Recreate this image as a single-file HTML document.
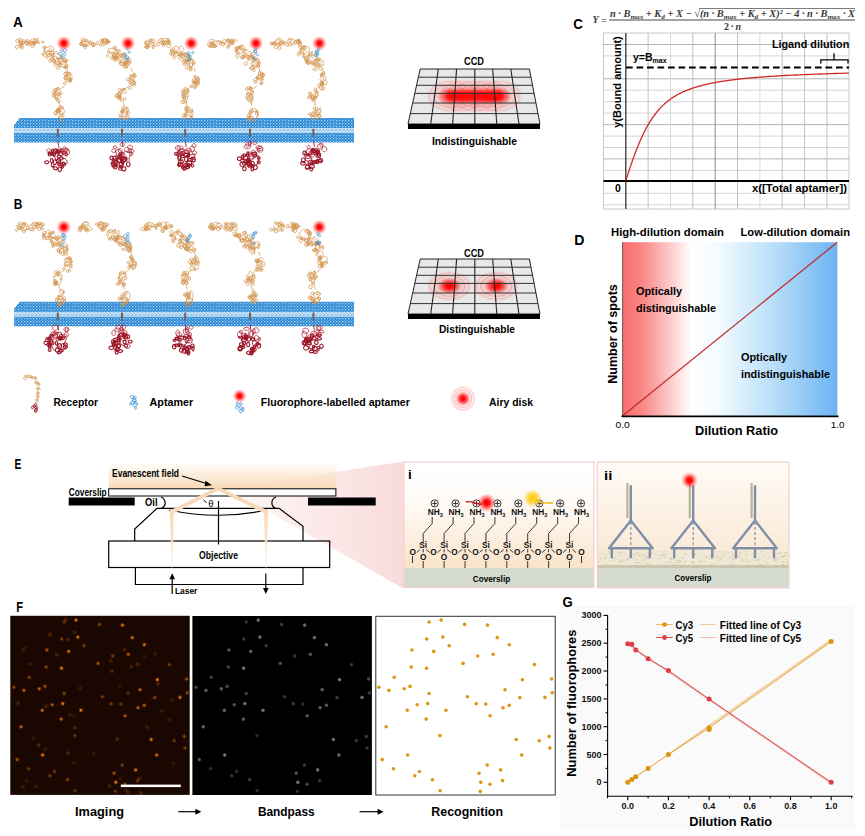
<!DOCTYPE html><html><head><meta charset="utf-8"><style>
html,body{margin:0;padding:0;background:#fff;}
svg{display:block;font-family:"Liberation Sans",sans-serif;}
</style></head><body>
<svg width="865" height="836" viewBox="0 0 865 836">
<defs>
<filter id="blur1" x="-50%" y="-50%" width="200%" height="200%"><feGaussianBlur stdDeviation="1.8"/></filter>
<radialGradient id="rdot"><stop offset="0" stop-color="#ff0000"/><stop offset="0.3" stop-color="#ff0000" stop-opacity="0.95"/><stop offset="0.6" stop-color="#ff3030" stop-opacity="0.55"/><stop offset="1" stop-color="#ff6060" stop-opacity="0"/></radialGradient>
<radialGradient id="ydot"><stop offset="0" stop-color="#ffc800"/><stop offset="0.5" stop-color="#ffd030" stop-opacity="0.9"/><stop offset="1" stop-color="#ffe080" stop-opacity="0"/></radialGradient>
<radialGradient id="ospot"><stop offset="0" stop-color="#ffa010"/><stop offset="0.35" stop-color="#f08808" stop-opacity="0.95"/><stop offset="0.7" stop-color="#a04000" stop-opacity="0.5"/><stop offset="1" stop-color="#601800" stop-opacity="0"/></radialGradient>
<radialGradient id="gspot"><stop offset="0" stop-color="#b0b0b0"/><stop offset="0.6" stop-color="#808080" stop-opacity="0.8"/><stop offset="1" stop-color="#404040" stop-opacity="0"/></radialGradient>
<radialGradient id="airy" cx="0.5" cy="0.5" r="0.5">
 <stop offset="0" stop-color="#ff0000"/><stop offset="0.15" stop-color="#ff0000" stop-opacity="0.95"/><stop offset="0.35" stop-color="#ff2020" stop-opacity="0.65"/>
 <stop offset="0.5" stop-color="#ff5050" stop-opacity="0.3"/><stop offset="0.58" stop-color="#ff8080" stop-opacity="0.15"/>
 <stop offset="0.66" stop-color="#ff5a5a" stop-opacity="0.45"/><stop offset="0.75" stop-color="#ffa0a0" stop-opacity="0.12"/>
 <stop offset="0.85" stop-color="#ff7070" stop-opacity="0.35"/><stop offset="1" stop-color="#ffb0b0" stop-opacity="0"/>
</radialGradient>
<pattern id="memb" width="3" height="3" patternUnits="userSpaceOnUse">
 <rect width="3" height="3" fill="#1c7fd0"/><circle cx="0.75" cy="0.75" r="0.75" fill="#d0e8fa"/><circle cx="2.25" cy="2.25" r="0.75" fill="#7ab8ea"/>
</pattern>
<pattern id="mband" width="4" height="5" patternUnits="userSpaceOnUse">
 <rect width="4" height="5" fill="#9ccbec"/><ellipse cx="2" cy="2.5" rx="1.5" ry="1.6" fill="none" stroke="#e8f3fb" stroke-width="0.8"/>
</pattern>
<linearGradient id="dgrad" x1="0" x2="1" y1="0" y2="0">
 <stop offset="0" stop-color="#f96b6b"/><stop offset="0.1" stop-color="#fa8a8a"/><stop offset="0.32" stop-color="#ffffff"/>
 <stop offset="0.45" stop-color="#f2fbff"/><stop offset="0.7" stop-color="#b9dff9"/><stop offset="1" stop-color="#6cb3f3"/>
</linearGradient>
<linearGradient id="evan" x1="0" x2="0" y1="0" y2="1">
 <stop offset="0" stop-color="#fdf2e4" stop-opacity="0.15"/><stop offset="0.4" stop-color="#fbe8d0" stop-opacity="0.65"/><stop offset="1" stop-color="#f8dab6"/>
</linearGradient>
<linearGradient id="pgrad2" x1="0" x2="0" y1="0" y2="1"><stop offset="0" stop-color="#fffcf8"/><stop offset="0.4" stop-color="#fcf1e4"/><stop offset="1" stop-color="#f9e4cc"/></linearGradient>
<linearGradient id="pgrad" x1="0" x2="0" y1="0" y2="1">
 <stop offset="0" stop-color="#ffffff"/><stop offset="0.3" stop-color="#fefbf8"/><stop offset="0.6" stop-color="#fcefe0"/><stop offset="1" stop-color="#f8dcbc"/>
</linearGradient>
<linearGradient id="wedge" x1="0" x2="1" y1="0" y2="0">
 <stop offset="0" stop-color="#fbe4e4" stop-opacity="0.3"/><stop offset="0.6" stop-color="#fadfdf" stop-opacity="0.75"/><stop offset="1" stop-color="#f8d6d6" stop-opacity="0.9"/>
</linearGradient>
</defs>
<rect width="865" height="836" fill="#fff"/>

<path d="M19.7 118.0 L354 118.0 L354 142.5 L14 142.5 L14 125.0 Z" fill="url(#memb)"/>
<rect x="14" y="128.0" width="340" height="5" fill="url(#mband)"/>
<path d="M22.1 46.0 a1.3 1.6 0 1 0 0.1 0 M20.9 41.7 a0.9 1.8 0 1 0 0.1 0 M20.8 44.8 a2.0 1.4 0 1 0 0.1 0 M23.8 39.7 a1.6 1.1 0 1 0 0.1 0 M17.3 39.2 a1.5 1.7 0 1 0 0.1 0 M20.5 41.5 a1.7 1.6 0 1 0 0.1 0 M20.8 43.3 a1.9 1.4 0 1 0 0.1 0 M20.1 38.2 a1.7 1.9 0 1 0 0.1 0 M16.8 45.2 a1.4 1.9 0 1 0 0.1 0 M23.5 41.5 a1.0 1.1 0 1 0 0.1 0 " fill="none" stroke="#d2914a" stroke-width="0.75"/><path d="M25.1 41.8 C25.4 41.7 26.7 41.3 27.3 41.6 C27.8 41.8 28.5 42.7 28.6 43.3 C28.8 43.9 28.4 45.2 28.0 45.4 C27.5 45.6 26.4 45.0 25.9 44.5 C25.5 44.0 25.4 43.1 25.4 42.4 C25.3 41.7 25.3 40.7 25.7 40.2 C26.0 39.7 27.5 39.0 27.6 39.2 C27.7 39.3 26.9 40.5 26.3 41.0 C25.8 41.5 24.9 41.6 24.5 42.2 C24.1 42.7 24.4 43.8 24.0 44.3 C23.6 44.8 22.7 45.4 22.1 45.4 C21.4 45.4 20.5 44.9 20.1 44.4 C19.7 43.8 19.8 42.9 19.7 42.2 C19.6 41.5 19.3 40.4 19.6 40.0 C20.0 39.6 21.2 39.7 21.8 40.0 C22.5 40.2 23.0 40.9 23.5 41.4 C24.0 41.9 24.4 42.6 24.9 43.1 C25.5 43.5 26.3 44.0 27.0 43.9 C27.6 43.8 28.7 42.6 28.8 42.7 C28.9 42.8 28.2 44.2 27.7 44.6 C27.2 45.0 25.9 45.1 25.6 45.1" fill="none" stroke="#d3944f" stroke-width="0.7"/><path d="M33.6 42.3 a1.2 1.7 0 1 0 0.1 0 M37.5 40.9 a1.6 0.9 0 1 0 0.1 0 M34.9 39.4 a1.9 2.0 0 1 0 0.1 0 M27.6 41.4 a1.2 1.0 0 1 0 0.1 0 M35.4 41.1 a1.1 1.3 0 1 0 0.1 0 M34.1 40.6 a0.9 1.9 0 1 0 0.1 0 M32.5 44.8 a1.9 1.3 0 1 0 0.1 0 M29.9 42.2 a1.6 1.6 0 1 0 0.1 0 M29.3 40.4 a1.9 1.5 0 1 0 0.1 0 M29.7 42.8 a1.2 1.2 0 1 0 0.1 0 M42.7 41.1 a1.5 0.9 0 1 0 0.1 0 " fill="none" stroke="#d2914a" stroke-width="0.75"/><path d="M35.7 42.3 C35.7 42.6 35.8 44.2 35.4 44.4 C35.0 44.7 33.9 44.1 33.3 43.6 C32.8 43.2 32.5 42.4 32.0 41.9 C31.6 41.3 30.5 40.7 30.6 40.2 C30.7 39.7 31.7 39.2 32.4 38.9 C33.0 38.6 33.8 38.5 34.5 38.5 C35.2 38.6 36.0 39.4 36.6 39.2 C37.2 39.1 38.1 37.7 38.3 37.8 C38.5 37.9 37.8 39.3 37.9 40.0 C37.9 40.7 38.3 41.4 38.6 42.0 C38.9 42.7 39.7 43.9 39.6 44.0 C39.4 44.1 38.5 43.0 37.8 42.7 C37.2 42.3 36.4 42.2 35.7 42.1 C35.0 42.0 34.2 42.2 33.5 42.2 C32.8 42.1 32.1 41.8 31.4 41.8 C30.6 41.8 29.4 42.6 29.2 42.4 C29.0 42.1 29.8 40.5 30.3 40.4 C30.7 40.3 31.3 41.5 31.9 41.9 C32.6 42.2 33.3 42.5 34.0 42.5 C34.7 42.5 35.4 41.8 36.1 41.8 C36.8 41.8 37.9 42.5 38.2 42.6" fill="none" stroke="#d3944f" stroke-width="0.7"/><path d="M48.6 53.4 a1.4 1.7 0 1 0 0.1 0 M51.7 52.8 a1.3 1.8 0 1 0 0.1 0 M42.7 52.9 a1.1 1.3 0 1 0 0.1 0 M44.5 46.2 a1.4 1.1 0 1 0 0.1 0 M52.4 53.8 a1.1 1.8 0 1 0 0.1 0 M50.2 48.6 a1.2 1.8 0 1 0 0.1 0 M44.6 46.6 a1.3 1.0 0 1 0 0.1 0 M47.0 56.0 a1.2 1.3 0 1 0 0.1 0 M44.5 52.7 a1.4 1.9 0 1 0 0.1 0 M48.1 51.1 a1.9 1.9 0 1 0 0.1 0 " fill="none" stroke="#d2914a" stroke-width="0.75"/><path d="M51.9 50.3 C52.2 50.6 53.3 51.2 53.5 51.8 C53.8 52.4 53.6 53.5 53.3 54.0 C52.9 54.5 51.9 54.8 51.2 54.9 C50.5 54.9 49.8 54.5 49.2 54.1 C48.5 53.8 48.0 53.2 47.5 52.7 C46.9 52.3 46.5 51.6 45.8 51.3 C45.2 50.9 43.9 51.1 43.7 50.7 C43.5 50.3 44.3 49.3 44.7 48.7 C45.0 48.1 45.4 47.1 46.0 46.9 C46.5 46.7 47.4 47.7 48.1 47.6 C48.7 47.5 49.1 46.4 49.8 46.2 C50.4 46.0 51.3 46.4 51.9 46.6 C52.6 46.9 53.4 47.3 53.7 47.9 C54.0 48.5 54.0 49.5 53.7 50.1 C53.5 50.7 52.7 51.4 52.1 51.6 C51.4 51.7 50.6 51.4 49.9 51.2 C49.2 51.0 48.4 50.3 47.8 50.5 C47.2 50.6 46.8 51.6 46.2 51.9 C45.6 52.3 44.3 52.7 44.0 52.4 C43.8 52.1 44.4 51.0 44.6 50.3 C44.8 49.6 45.2 48.5 45.3 48.2" fill="none" stroke="#d3944f" stroke-width="0.7"/><path d="M50.2 59.8 a1.6 1.3 0 1 0 0.1 0 M55.3 62.4 a1.4 1.8 0 1 0 0.1 0 M53.7 58.9 a1.5 1.8 0 1 0 0.1 0 M57.4 61.5 a1.9 1.8 0 1 0 0.1 0 M55.4 56.3 a1.6 1.8 0 1 0 0.1 0 M58.6 57.8 a1.2 1.5 0 1 0 0.1 0 M51.4 58.7 a1.8 0.9 0 1 0 0.1 0 M57.8 57.5 a1.0 1.0 0 1 0 0.1 0 M61.3 55.9 a1.0 1.5 0 1 0 0.1 0 M54.2 59.9 a1.3 1.6 0 1 0 0.1 0 " fill="none" stroke="#d2914a" stroke-width="0.75"/><path d="M54.7 56.3 C54.3 56.4 53.3 56.8 52.7 57.2 C52.1 57.7 51.5 58.9 51.2 58.8 C50.9 58.7 50.7 57.3 50.9 56.7 C51.0 56.0 51.5 55.3 52.0 54.8 C52.6 54.3 53.3 54.1 54.0 53.9 C54.7 53.7 55.5 53.4 56.2 53.4 C56.9 53.5 57.5 54.1 58.2 54.3 C58.9 54.5 59.8 54.3 60.4 54.7 C61.0 55.0 61.9 55.7 61.9 56.3 C61.9 56.8 60.7 57.2 60.2 57.7 C59.8 58.3 59.4 59.0 59.1 59.6 C58.7 60.2 58.4 60.9 57.9 61.4 C57.4 61.9 56.6 62.7 56.0 62.6 C55.5 62.5 55.1 61.5 54.6 61.0 C54.1 60.4 53.2 60.1 53.0 59.4 C52.8 58.8 53.0 57.9 53.2 57.2 C53.4 56.6 54.2 56.0 54.2 55.3 C54.2 54.7 53.2 53.9 53.3 53.3 C53.3 52.7 54.1 52.0 54.7 51.7 C55.3 51.4 56.3 51.3 56.9 51.6 C57.5 51.9 58.0 53.1 58.2 53.4" fill="none" stroke="#d3944f" stroke-width="0.7"/><path d="M57.9 66.8 a1.8 1.2 0 1 0 0.1 0 M59.6 63.3 a1.8 1.6 0 1 0 0.1 0 M65.4 59.3 a1.6 1.7 0 1 0 0.1 0 M60.1 62.0 a1.5 0.9 0 1 0 0.1 0 M65.4 66.9 a0.9 1.0 0 1 0 0.1 0 M66.4 66.1 a1.1 0.9 0 1 0 0.1 0 M62.5 61.0 a1.8 1.6 0 1 0 0.1 0 M64.5 57.8 a1.5 1.8 0 1 0 0.1 0 M66.5 64.0 a1.5 1.7 0 1 0 0.1 0 M65.1 66.0 a1.9 1.0 0 1 0 0.1 0 " fill="none" stroke="#d2914a" stroke-width="0.75"/><path d="M62.0 64.6 C61.7 64.7 60.3 65.4 59.9 65.1 C59.5 64.9 59.6 63.7 59.6 63.0 C59.6 62.2 59.5 61.4 59.8 60.8 C60.1 60.1 60.8 59.7 61.2 59.0 C61.5 58.4 61.8 57.0 62.1 57.0 C62.4 57.0 62.7 58.4 63.0 59.0 C63.4 59.6 63.8 60.5 64.4 60.8 C64.9 61.1 66.3 60.5 66.6 60.8 C66.8 61.2 66.0 62.2 65.9 62.9 C65.7 63.6 65.9 64.4 65.6 65.1 C65.3 65.7 64.8 66.5 64.2 66.8 C63.6 67.1 62.7 67.1 62.0 66.9 C61.3 66.8 60.7 66.3 60.1 65.9 C59.6 65.4 58.7 64.7 58.7 64.1 C58.7 63.6 59.6 63.0 60.2 62.5 C60.8 62.1 61.5 61.5 62.1 61.4 C62.8 61.4 63.5 62.2 64.2 62.2 C64.9 62.2 65.8 61.8 66.2 61.3 C66.6 60.8 66.5 59.2 66.8 59.2 C67.1 59.2 68.0 60.6 67.9 61.1 C67.7 61.7 66.4 62.3 66.2 62.5" fill="none" stroke="#d3944f" stroke-width="0.7"/><path d="M66.7 75.4 a1.2 1.1 0 1 0 0.1 0 M65.0 76.5 a1.2 1.7 0 1 0 0.1 0 M69.0 77.5 a1.7 1.4 0 1 0 0.1 0 M69.2 73.9 a1.2 1.1 0 1 0 0.1 0 M70.1 79.6 a1.3 1.1 0 1 0 0.1 0 M64.9 82.3 a1.8 1.1 0 1 0 0.1 0 M69.9 78.5 a1.6 1.4 0 1 0 0.1 0 M68.9 72.5 a1.5 1.4 0 1 0 0.1 0 M66.2 71.5 a1.3 1.7 0 1 0 0.1 0 M70.1 77.4 a1.2 1.2 0 1 0 0.1 0 M65.6 72.4 a2.0 1.8 0 1 0 0.1 0 " fill="none" stroke="#d2914a" stroke-width="0.75"/><path d="M69.8 80.4 C70.1 80.5 71.9 80.9 71.9 81.1 C71.9 81.3 70.3 81.6 69.7 81.4 C69.1 81.3 68.7 80.3 68.0 80.0 C67.4 79.7 66.4 80.0 65.9 79.6 C65.3 79.2 64.7 78.4 64.7 77.8 C64.6 77.1 65.0 76.3 65.4 75.7 C65.8 75.1 66.7 74.8 67.0 74.2 C67.2 73.6 66.5 72.2 66.8 72.0 C67.1 71.8 68.1 72.7 68.9 72.8 C69.6 73.0 70.8 72.6 71.0 73.0 C71.3 73.3 70.3 74.5 70.5 75.1 C70.7 75.7 71.9 75.9 72.2 76.6 C72.4 77.2 72.0 78.0 71.9 78.7 C71.8 79.5 72.0 80.3 71.7 80.9 C71.3 81.5 70.5 82.1 69.9 82.2 C69.2 82.3 68.5 81.6 67.8 81.4 C67.1 81.2 66.1 81.5 65.6 81.1 C65.2 80.7 64.8 79.6 65.0 79.0 C65.1 78.4 66.3 78.0 66.5 77.4 C66.7 76.8 66.0 75.8 66.3 75.2 C66.5 74.6 67.5 73.9 67.8 73.6" fill="none" stroke="#d3944f" stroke-width="0.7"/><path d="M57.7 92.7 a1.9 1.3 0 1 0 0.1 0 M57.7 87.4 a1.2 1.6 0 1 0 0.1 0 M54.6 88.3 a1.2 1.7 0 1 0 0.1 0 M60.8 92.5 a1.5 1.0 0 1 0 0.1 0 M53.6 94.2 a1.7 1.6 0 1 0 0.1 0 M54.7 92.7 a1.6 1.6 0 1 0 0.1 0 M58.7 100.6 a1.6 1.0 0 1 0 0.1 0 M58.7 92.8 a1.3 1.7 0 1 0 0.1 0 M53.6 90.7 a1.6 1.4 0 1 0 0.1 0 M56.5 97.1 a1.0 1.7 0 1 0 0.1 0 M56.7 88.3 a1.7 1.3 0 1 0 0.1 0 " fill="none" stroke="#d2914a" stroke-width="0.75"/><path d="M58.6 96.2 C58.4 96.5 57.4 97.3 57.3 98.0 C57.2 98.6 58.1 100.0 58.0 100.0 C57.9 100.1 57.2 98.8 56.7 98.3 C56.2 97.8 55.2 97.6 54.9 97.1 C54.5 96.5 54.8 95.6 54.8 94.9 C54.8 94.1 54.6 93.3 54.9 92.7 C55.1 92.0 55.8 91.6 56.2 90.9 C56.5 90.3 56.4 89.3 56.9 88.8 C57.3 88.3 58.2 87.7 58.8 87.8 C59.4 87.9 60.1 88.8 60.3 89.4 C60.5 90.0 60.3 90.9 60.1 91.6 C59.9 92.3 59.1 92.8 58.9 93.4 C58.7 94.1 58.8 95.0 59.1 95.6 C59.4 96.2 60.7 96.6 60.7 97.2 C60.7 97.7 59.9 98.5 59.3 98.9 C58.8 99.3 57.9 99.4 57.2 99.4 C56.5 99.3 55.5 99.1 55.1 98.6 C54.8 98.1 55.2 97.2 55.1 96.4 C55.1 95.7 54.6 94.9 54.7 94.3 C54.8 93.6 55.4 93.0 55.8 92.4 C56.3 91.8 57.0 91.0 57.3 90.7" fill="none" stroke="#d3944f" stroke-width="0.7"/><path d="M60.3 116.8 a1.8 0.9 0 1 0 0.1 0 M60.9 106.1 a1.9 1.3 0 1 0 0.1 0 M56.1 111.1 a1.6 2.0 0 1 0 0.1 0 M58.4 109.1 a1.8 1.4 0 1 0 0.1 0 M57.0 109.1 a0.9 1.7 0 1 0 0.1 0 M58.0 108.4 a1.5 1.4 0 1 0 0.1 0 M61.6 118.3 a0.9 1.5 0 1 0 0.1 0 M57.8 108.9 a1.5 2.0 0 1 0 0.1 0 M61.0 111.3 a1.8 1.6 0 1 0 0.1 0 M63.0 114.5 a1.2 1.0 0 1 0 0.1 0 M55.4 111.2 a1.3 1.9 0 1 0 0.1 0 " fill="none" stroke="#d2914a" stroke-width="0.75"/><path d="M59.3 112.2 C59.2 111.8 58.7 110.8 58.5 110.1 C58.3 109.4 58.0 108.5 58.2 107.9 C58.4 107.3 59.1 106.8 59.8 106.4 C60.4 106.0 61.5 105.5 61.9 105.7 C62.2 106.0 62.2 107.3 62.1 107.9 C61.9 108.6 61.4 109.4 60.9 109.8 C60.3 110.1 58.9 110.2 58.7 109.9 C58.5 109.6 59.3 108.5 59.8 108.0 C60.3 107.5 61.1 106.9 61.7 106.9 C62.4 106.9 63.3 107.4 63.7 108.0 C64.0 108.5 63.4 109.5 63.7 110.2 C63.9 110.8 65.2 111.2 65.2 111.7 C65.2 112.3 64.1 112.8 63.6 113.2 C63.0 113.7 62.4 114.1 61.8 114.6 C61.3 115.1 60.9 115.7 60.3 116.2 C59.8 116.6 58.5 117.4 58.4 117.2 C58.3 117.1 59.2 116.0 59.5 115.3 C59.8 114.7 60.2 113.9 60.2 113.2 C60.1 112.5 59.3 111.9 59.3 111.2 C59.3 110.5 59.9 109.8 60.3 109.3 C60.8 108.7 61.8 108.2 62.1 108.0" fill="none" stroke="#d3944f" stroke-width="0.7"/><path d="M66.8 67.8 L67.8 71.8 M64.8 85.8 L60.8 88.8 M58.8 100.8 L59.8 105.8" fill="none" stroke="#d3944f" stroke-width="0.7"/><path d="M54.0 150.2 a2.3 2.4 0 1 0 0.1 0 M59.2 147.6 a1.7 2.8 0 1 0 0.1 0 M63.8 150.8 a1.7 1.7 0 1 0 0.1 0 M62.5 150.9 a1.6 1.4 0 1 0 0.1 0 M62.0 149.0 a2.2 1.4 0 1 0 0.1 0 M66.0 147.9 a2.1 2.6 0 1 0 0.1 0 M65.4 148.6 a2.1 1.4 0 1 0 0.1 0 M64.3 146.6 a1.5 2.2 0 1 0 0.1 0 M63.3 151.7 a2.0 1.5 0 1 0 0.1 0 M67.9 149.1 a1.8 2.8 0 1 0 0.1 0 M48.6 148.7 a1.9 1.8 0 1 0 0.1 0 " fill="none" stroke="#b02838" stroke-width="0.75"/><path d="M57.8 140.8 L58.8 146.8" stroke="#a0182a" stroke-width="0.9"/><path d="M55.4 166.8 a1.9 1.5 0 1 0 0.1 0 M63.1 162.4 a2.5 1.9 0 1 0 0.1 0 M59.0 157.8 a1.1 1.3 0 1 0 0.1 0 M58.7 158.3 a2.0 2.4 0 1 0 0.1 0 M59.7 167.2 a1.7 2.2 0 1 0 0.1 0 M66.1 153.0 a1.1 1.5 0 1 0 0.1 0 M49.2 151.7 a1.1 1.4 0 1 0 0.1 0 M58.8 155.1 a1.6 1.5 0 1 0 0.1 0 M52.7 149.1 a1.3 2.1 0 1 0 0.1 0 M55.5 148.7 a1.8 2.4 0 1 0 0.1 0 M52.6 162.7 a1.3 2.2 0 1 0 0.1 0 M51.6 158.4 a1.3 2.1 0 1 0 0.1 0 M49.7 152.6 a1.6 1.7 0 1 0 0.1 0 M62.3 164.7 a1.0 1.7 0 1 0 0.1 0 M57.6 149.6 a1.1 1.4 0 1 0 0.1 0 M60.7 151.1 a2.3 2.3 0 1 0 0.1 0 M46.7 160.7 a2.1 1.5 0 1 0 0.1 0 M54.8 159.8 a1.6 2.4 0 1 0 0.1 0 M63.4 162.4 a1.2 1.1 0 1 0 0.1 0 M54.2 153.8 a1.1 1.2 0 1 0 0.1 0 M52.3 151.8 a1.0 1.3 0 1 0 0.1 0 M61.3 156.8 a1.8 1.6 0 1 0 0.1 0 M57.7 150.2 a2.2 1.8 0 1 0 0.1 0 M58.9 161.7 a1.1 2.2 0 1 0 0.1 0 " fill="none" stroke="#9c1628" stroke-width="1.1"/><path d="M60.7 157.0 C61.0 157.2 61.9 158.3 62.6 158.5 C63.3 158.8 64.4 158.3 65.1 158.6 C65.8 158.9 66.3 159.8 66.7 160.5 C67.0 161.3 67.5 162.3 67.2 163.0 C67.0 163.7 66.0 164.1 65.3 164.6 C64.6 165.0 63.8 165.4 63.0 165.6 C62.2 165.8 61.3 166.0 60.5 165.9 C59.7 165.7 58.8 165.3 58.3 164.8 C57.8 164.2 57.9 163.1 57.6 162.4 C57.2 161.6 56.5 161.1 56.1 160.3 C55.7 159.6 55.5 158.8 55.1 158.0 C54.7 157.3 54.5 156.3 53.9 155.9 C53.3 155.4 52.1 155.8 51.4 155.4 C50.8 155.0 49.8 153.8 49.9 153.4 C50.1 152.9 51.7 153.1 52.3 152.7 C53.0 152.2 53.3 151.3 53.8 150.7 C54.3 150.0 54.9 148.8 55.4 148.8 C56.0 148.7 56.6 150.2 57.4 150.4 C58.1 150.6 59.0 150.1 59.8 149.8 C60.6 149.5 61.7 148.3 61.9 148.5 C62.2 148.7 61.7 150.2 61.3 150.9 C60.9 151.6 60.1 152.1 59.5 152.7 C59.0 153.3 58.4 154.4 58.1 154.8" fill="none" stroke="#9c1628" stroke-width="0.9"/><path d="M61.4 49.2 a1.2 1.3 0 1 0 0.1 0 M64.6 53.2 a1.3 1.1 0 1 0 0.1 0 M62.6 55.9 a1.7 1.6 0 1 0 0.1 0 M64.8 48.7 a1.5 1.7 0 1 0 0.1 0 M60.2 52.4 a1.8 1.7 0 1 0 0.1 0 " fill="none" stroke="#4a96d0" stroke-width="0.8"/><circle cx="63.8" cy="43.3" r="7.5" fill="url(#rdot)"/>
<rect x="56.8" y="128.8" width="2" height="8" fill="#6f5f5f"/>
<path d="M89.9 41.5 a1.8 1.3 0 1 0 0.1 0 M92.5 42.5 a1.2 1.9 0 1 0 0.1 0 M86.3 43.9 a1.7 1.2 0 1 0 0.1 0 M80.9 42.1 a0.9 1.7 0 1 0 0.1 0 M85.2 45.6 a1.3 1.7 0 1 0 0.1 0 M86.1 40.0 a1.0 1.2 0 1 0 0.1 0 M84.5 43.3 a1.1 1.7 0 1 0 0.1 0 M83.2 38.1 a2.0 1.9 0 1 0 0.1 0 M84.1 43.9 a1.2 1.4 0 1 0 0.1 0 M81.0 42.0 a1.3 1.8 0 1 0 0.1 0 " fill="none" stroke="#d2914a" stroke-width="0.75"/><path d="M86.9 44.7 C86.6 44.9 85.7 45.8 85.1 45.9 C84.4 46.1 83.5 46.0 82.9 45.7 C82.2 45.4 81.6 44.8 81.3 44.2 C81.0 43.5 80.8 42.4 81.1 42.0 C81.4 41.5 82.5 41.5 83.2 41.3 C83.9 41.2 84.8 41.3 85.3 40.9 C85.9 40.5 86.2 39.1 86.6 39.1 C87.1 39.1 87.6 40.2 88.1 40.7 C88.6 41.3 89.5 41.6 89.7 42.2 C89.9 42.9 89.5 43.8 89.2 44.4 C88.8 45.0 88.1 45.7 87.5 45.8 C86.9 45.9 86.0 44.9 85.4 45.0 C84.8 45.1 84.2 46.4 83.7 46.4 C83.2 46.3 82.6 45.3 82.3 44.7 C82.0 44.0 82.1 43.2 82.1 42.5 C82.1 41.8 81.8 40.7 82.1 40.3 C82.5 39.9 83.6 39.9 84.3 40.1 C85.0 40.2 85.5 40.9 86.2 41.3 C86.8 41.6 87.5 42.0 88.2 42.1 C88.9 42.2 89.9 42.2 90.4 41.8 C90.9 41.4 91.2 40.2 91.3 39.8" fill="none" stroke="#d3944f" stroke-width="0.7"/><path d="M93.9 42.8 a1.6 1.9 0 1 0 0.1 0 M102.6 39.8 a1.0 1.7 0 1 0 0.1 0 M101.8 38.9 a1.8 1.5 0 1 0 0.1 0 M100.4 43.0 a0.9 1.6 0 1 0 0.1 0 M107.4 39.4 a1.4 1.6 0 1 0 0.1 0 M107.8 40.1 a1.6 1.4 0 1 0 0.1 0 M97.2 41.3 a1.1 1.7 0 1 0 0.1 0 M107.3 41.4 a1.3 1.3 0 1 0 0.1 0 M92.9 42.4 a1.4 2.0 0 1 0 0.1 0 M103.4 43.2 a1.5 1.4 0 1 0 0.1 0 M104.9 38.8 a1.9 1.6 0 1 0 0.1 0 " fill="none" stroke="#d2914a" stroke-width="0.75"/><path d="M104.1 42.3 C104.4 42.4 105.4 42.9 106.0 43.3 C106.7 43.6 108.0 44.1 108.0 44.2 C108.0 44.3 106.5 43.5 105.9 43.7 C105.2 43.8 104.6 45.1 104.1 45.0 C103.6 44.9 103.3 43.8 102.9 43.1 C102.5 42.5 101.9 41.9 101.8 41.3 C101.7 40.6 102.0 39.6 102.5 39.2 C103.0 38.7 103.9 38.7 104.7 38.7 C105.4 38.6 106.4 38.5 106.9 38.9 C107.3 39.3 107.1 40.4 107.6 41.0 C108.0 41.5 109.5 41.9 109.5 42.1 C109.4 42.3 108.0 41.8 107.3 41.9 C106.6 42.0 105.9 42.9 105.3 42.8 C104.6 42.8 103.7 42.2 103.4 41.6 C103.1 41.0 103.0 39.6 103.4 39.4 C103.7 39.2 104.6 40.4 105.3 40.4 C106.0 40.5 106.8 39.5 107.4 39.7 C107.9 39.9 108.0 41.2 108.6 41.6 C109.1 41.9 110.8 41.6 110.8 41.7 C110.8 41.8 109.3 42.1 108.6 42.1 C107.9 42.0 106.9 41.4 106.6 41.3" fill="none" stroke="#d3944f" stroke-width="0.7"/><path d="M115.1 46.7 a1.8 0.9 0 1 0 0.1 0 M111.6 56.6 a1.0 1.2 0 1 0 0.1 0 M108.9 51.1 a1.5 1.0 0 1 0 0.1 0 M113.5 56.6 a1.1 1.9 0 1 0 0.1 0 M115.4 56.2 a1.6 1.6 0 1 0 0.1 0 M113.3 51.9 a1.7 1.1 0 1 0 0.1 0 M114.5 55.9 a1.9 1.0 0 1 0 0.1 0 M117.6 49.7 a1.3 1.0 0 1 0 0.1 0 M107.4 54.6 a1.2 1.0 0 1 0 0.1 0 M114.2 52.5 a1.3 1.9 0 1 0 0.1 0 " fill="none" stroke="#d2914a" stroke-width="0.75"/><path d="M116.2 50.4 C116.4 50.6 117.6 51.3 117.7 51.9 C117.9 52.5 117.6 53.6 117.1 54.0 C116.6 54.4 115.6 54.2 114.9 54.5 C114.3 54.8 113.9 56.0 113.4 56.0 C112.9 56.1 112.3 55.0 111.8 54.5 C111.2 54.0 110.5 53.7 110.1 53.1 C109.7 52.5 109.7 51.7 109.3 51.1 C108.8 50.5 107.6 50.0 107.7 49.6 C107.7 49.1 108.9 48.6 109.5 48.4 C110.2 48.3 111.0 48.5 111.7 48.6 C112.4 48.7 113.1 48.9 113.9 49.1 C114.6 49.2 115.3 49.3 116.0 49.4 C116.8 49.5 117.5 49.8 118.2 49.9 C118.9 50.0 120.1 49.7 120.4 50.1 C120.6 50.5 120.1 51.7 119.6 52.2 C119.2 52.7 118.3 53.1 117.6 53.0 C117.0 53.0 116.1 52.4 115.7 51.9 C115.3 51.3 115.6 50.3 115.2 49.7 C114.8 49.2 113.7 49.0 113.4 48.5 C113.1 47.9 113.2 46.5 113.6 46.3 C113.9 46.0 115.3 46.8 115.7 47.0" fill="none" stroke="#d3944f" stroke-width="0.7"/><path d="M119.8 59.5 a1.0 2.0 0 1 0 0.1 0 M115.3 59.8 a1.0 0.9 0 1 0 0.1 0 M122.7 52.9 a2.0 1.7 0 1 0 0.1 0 M114.8 56.0 a1.0 1.5 0 1 0 0.1 0 M117.3 57.6 a1.6 1.3 0 1 0 0.1 0 M116.1 56.7 a1.2 1.3 0 1 0 0.1 0 M114.3 53.3 a1.9 1.8 0 1 0 0.1 0 M120.7 54.0 a2.0 1.2 0 1 0 0.1 0 M122.3 59.8 a1.7 1.3 0 1 0 0.1 0 M117.1 54.3 a2.0 1.4 0 1 0 0.1 0 " fill="none" stroke="#d2914a" stroke-width="0.75"/><path d="M118.8 57.0 C118.5 56.7 117.4 56.1 117.2 55.5 C117.0 54.8 117.3 53.6 117.8 53.3 C118.2 53.0 119.2 53.4 119.9 53.5 C120.7 53.7 121.4 54.3 122.0 54.3 C122.7 54.2 123.3 52.9 123.8 53.0 C124.3 53.1 124.9 54.2 125.0 54.8 C125.2 55.5 124.7 56.5 125.0 57.0 C125.3 57.6 126.8 57.9 126.8 58.3 C126.8 58.7 125.4 59.3 124.8 59.3 C124.2 59.2 123.7 58.4 123.0 58.0 C122.4 57.7 121.6 57.4 120.9 57.4 C120.2 57.4 119.5 57.9 118.8 58.1 C118.1 58.2 116.9 58.8 116.7 58.5 C116.4 58.3 117.0 57.0 117.5 56.5 C118.0 56.0 118.9 55.8 119.6 55.7 C120.3 55.6 121.0 55.9 121.8 55.9 C122.5 55.9 123.3 55.7 123.9 55.5 C124.6 55.2 125.5 54.0 125.7 54.1 C125.8 54.2 125.2 55.6 124.9 56.2 C124.5 56.8 124.1 57.6 123.5 57.9 C122.9 58.2 121.6 57.9 121.3 58.0" fill="none" stroke="#d3944f" stroke-width="0.7"/><path d="M124.5 61.6 a1.1 1.3 0 1 0 0.1 0 M125.0 61.3 a1.0 1.3 0 1 0 0.1 0 M125.8 63.8 a1.5 1.9 0 1 0 0.1 0 M121.1 61.7 a1.8 1.8 0 1 0 0.1 0 M129.0 60.7 a1.7 1.0 0 1 0 0.1 0 M128.5 60.3 a1.4 1.9 0 1 0 0.1 0 M125.1 65.3 a1.8 1.6 0 1 0 0.1 0 M127.0 63.3 a1.3 0.9 0 1 0 0.1 0 M127.5 60.6 a1.2 1.3 0 1 0 0.1 0 M122.3 62.5 a1.6 1.6 0 1 0 0.1 0 " fill="none" stroke="#d2914a" stroke-width="0.75"/><path d="M126.9 64.9 C126.5 65.0 125.5 65.4 124.7 65.4 C124.0 65.4 122.7 65.4 122.6 65.0 C122.5 64.7 123.4 63.5 124.0 63.3 C124.6 63.1 125.5 64.0 126.1 63.8 C126.8 63.6 127.6 62.9 127.8 62.3 C127.9 61.7 127.4 60.9 127.2 60.1 C127.0 59.4 126.3 58.5 126.5 58.0 C126.8 57.6 128.0 57.4 128.7 57.5 C129.4 57.6 130.3 58.0 130.6 58.5 C131.0 59.0 130.9 59.9 131.0 60.7 C131.0 61.4 131.2 62.3 130.9 62.9 C130.6 63.5 129.6 63.7 129.2 64.3 C128.9 64.9 129.1 65.9 128.8 66.4 C128.4 67.0 127.5 67.7 126.9 67.7 C126.3 67.7 125.5 67.0 125.2 66.4 C124.9 65.8 125.2 64.9 125.2 64.2 C125.2 63.4 125.3 62.7 125.4 62.0 C125.5 61.3 126.0 60.5 125.9 59.8 C125.7 59.2 124.4 58.3 124.5 58.1 C124.6 57.9 125.9 58.5 126.6 58.8 C127.3 59.0 128.3 59.4 128.7 59.6" fill="none" stroke="#d3944f" stroke-width="0.7"/><path d="M129.9 86.5 a1.6 1.5 0 1 0 0.1 0 M131.3 83.0 a1.9 1.0 0 1 0 0.1 0 M127.7 77.6 a1.3 1.7 0 1 0 0.1 0 M134.3 74.8 a1.7 1.1 0 1 0 0.1 0 M134.0 80.7 a1.2 1.1 0 1 0 0.1 0 M132.1 76.1 a1.8 1.9 0 1 0 0.1 0 M134.3 84.0 a1.3 1.1 0 1 0 0.1 0 M131.4 80.2 a1.4 1.3 0 1 0 0.1 0 M134.0 72.9 a1.0 1.3 0 1 0 0.1 0 M129.9 81.0 a1.2 1.2 0 1 0 0.1 0 M130.6 74.4 a1.0 1.1 0 1 0 0.1 0 " fill="none" stroke="#d2914a" stroke-width="0.75"/><path d="M130.4 79.3 C130.1 79.5 128.8 80.8 128.8 80.8 C128.8 80.8 129.8 79.7 130.3 79.3 C130.9 78.8 131.8 78.6 132.2 78.1 C132.6 77.6 132.5 76.6 132.8 76.0 C133.2 75.4 133.9 74.6 134.5 74.5 C135.1 74.5 136.3 75.1 136.4 75.6 C136.5 76.0 135.5 76.7 135.1 77.3 C134.7 77.9 134.0 78.6 134.0 79.2 C133.9 79.9 134.8 80.5 134.9 81.2 C135.0 81.9 134.9 82.8 134.5 83.4 C134.1 83.9 133.3 84.2 132.7 84.6 C132.1 85.0 130.9 85.9 130.9 85.9 C130.9 85.9 132.0 84.9 132.7 84.6 C133.3 84.3 134.2 84.5 134.8 84.1 C135.4 83.8 136.5 82.7 136.3 82.5 C136.2 82.3 134.7 83.1 134.2 82.8 C133.6 82.6 133.3 81.6 132.9 81.0 C132.5 80.4 132.2 79.6 131.6 79.3 C131.0 78.9 129.7 79.2 129.4 78.8 C129.2 78.4 129.8 77.3 130.2 76.7 C130.6 76.1 131.6 75.5 131.9 75.3" fill="none" stroke="#d3944f" stroke-width="0.7"/><path d="M119.6 92.8 a1.5 1.8 0 1 0 0.1 0 M117.0 94.8 a1.8 1.4 0 1 0 0.1 0 M116.9 94.3 a1.8 1.1 0 1 0 0.1 0 M124.6 97.8 a1.5 1.2 0 1 0 0.1 0 M124.7 89.5 a1.5 2.0 0 1 0 0.1 0 M123.5 88.3 a1.2 0.9 0 1 0 0.1 0 M119.4 88.1 a1.3 1.4 0 1 0 0.1 0 M118.6 92.5 a1.7 1.5 0 1 0 0.1 0 M119.7 95.7 a1.5 1.3 0 1 0 0.1 0 M120.8 90.9 a1.3 1.1 0 1 0 0.1 0 M118.3 97.3 a1.0 1.0 0 1 0 0.1 0 " fill="none" stroke="#d2914a" stroke-width="0.75"/><path d="M120.9 95.6 C120.7 95.8 119.6 96.5 119.3 97.1 C119.0 97.7 118.9 98.7 119.1 99.3 C119.4 99.9 120.6 100.9 120.7 100.8 C120.9 100.7 120.3 99.4 120.1 98.7 C120.0 98.0 119.9 97.2 119.6 96.6 C119.4 95.9 118.9 95.3 118.7 94.6 C118.4 93.9 117.9 92.9 118.2 92.4 C118.4 92.0 119.7 92.1 120.2 91.6 C120.7 91.2 120.5 90.0 121.0 89.6 C121.5 89.2 122.4 89.3 123.1 89.1 C123.8 88.9 125.2 88.4 125.2 88.5 C125.3 88.6 123.8 89.1 123.3 89.6 C122.9 90.1 122.9 91.0 122.6 91.7 C122.3 92.3 121.9 93.0 121.6 93.6 C121.2 94.3 120.6 94.8 120.5 95.5 C120.4 96.2 120.5 97.1 120.8 97.7 C121.1 98.3 122.2 98.7 122.3 99.3 C122.4 99.9 121.9 101.4 121.6 101.4 C121.3 101.4 120.5 100.2 120.5 99.5 C120.4 98.9 121.3 98.1 121.2 97.5 C121.1 96.8 120.2 95.9 120.0 95.6" fill="none" stroke="#d3944f" stroke-width="0.7"/><path d="M123.1 106.6 a1.1 1.4 0 1 0 0.1 0 M126.6 112.3 a1.7 1.1 0 1 0 0.1 0 M122.7 109.6 a1.5 1.3 0 1 0 0.1 0 M127.0 108.2 a1.5 1.7 0 1 0 0.1 0 M120.3 116.1 a1.2 1.5 0 1 0 0.1 0 M121.9 110.6 a1.0 1.1 0 1 0 0.1 0 M122.3 110.3 a1.7 1.5 0 1 0 0.1 0 M128.2 111.0 a1.7 1.3 0 1 0 0.1 0 M127.4 114.6 a1.7 1.9 0 1 0 0.1 0 M124.1 116.0 a2.0 1.7 0 1 0 0.1 0 M120.2 113.7 a1.1 1.5 0 1 0 0.1 0 " fill="none" stroke="#d2914a" stroke-width="0.75"/><path d="M124.9 110.9 C124.6 110.8 123.7 109.9 123.0 109.8 C122.3 109.7 120.9 110.4 120.9 110.4 C120.9 110.4 122.6 110.2 123.0 109.7 C123.4 109.2 123.0 108.1 123.4 107.5 C123.7 107.0 124.5 106.3 125.2 106.3 C125.8 106.2 126.8 106.8 127.1 107.3 C127.4 107.9 127.2 108.8 127.1 109.5 C127.0 110.2 126.5 110.9 126.5 111.6 C126.5 112.4 127.1 113.1 127.1 113.8 C127.1 114.5 126.5 115.4 126.7 115.9 C126.9 116.5 128.2 116.7 128.4 117.3 C128.7 117.9 128.4 119.2 128.0 119.4 C127.6 119.7 126.6 118.9 125.9 118.9 C125.2 118.8 124.3 119.4 123.7 119.1 C123.1 118.9 122.5 118.1 122.4 117.4 C122.2 116.7 122.7 116.0 122.7 115.2 C122.8 114.5 122.4 113.7 122.6 113.0 C122.7 112.4 123.4 111.8 123.8 111.2 C124.2 110.6 124.4 109.8 124.8 109.3 C125.2 108.7 125.8 108.0 126.4 107.8 C127.1 107.6 128.3 107.8 128.6 107.8" fill="none" stroke="#d3944f" stroke-width="0.7"/><path d="M131.0 67.8 L132.0 71.8 M129.0 85.8 L125.0 88.8 M123.0 100.8 L124.0 105.8" fill="none" stroke="#d3944f" stroke-width="0.7"/><path d="M113.6 149.0 a2.0 1.7 0 1 0 0.1 0 M120.2 148.3 a1.9 2.4 0 1 0 0.1 0 M115.0 145.9 a1.9 1.3 0 1 0 0.1 0 M129.6 147.9 a1.7 2.4 0 1 0 0.1 0 M121.6 152.9 a2.4 2.6 0 1 0 0.1 0 M122.2 142.6 a2.1 1.9 0 1 0 0.1 0 M131.8 149.5 a2.3 1.5 0 1 0 0.1 0 M130.0 145.1 a2.5 2.1 0 1 0 0.1 0 M131.1 151.9 a1.6 2.0 0 1 0 0.1 0 M126.6 147.3 a2.2 2.2 0 1 0 0.1 0 M123.1 153.5 a2.1 1.3 0 1 0 0.1 0 " fill="none" stroke="#b02838" stroke-width="0.75"/><path d="M122.0 140.8 L123.0 146.8" stroke="#a0182a" stroke-width="0.9"/><path d="M119.7 157.9 a2.1 2.3 0 1 0 0.1 0 M122.4 156.6 a2.0 1.5 0 1 0 0.1 0 M115.4 158.7 a1.5 1.2 0 1 0 0.1 0 M117.9 155.7 a2.4 1.1 0 1 0 0.1 0 M125.9 156.8 a1.1 2.1 0 1 0 0.1 0 M111.7 156.1 a1.8 1.9 0 1 0 0.1 0 M128.2 161.9 a1.8 2.4 0 1 0 0.1 0 M123.2 157.9 a2.0 2.4 0 1 0 0.1 0 M112.9 161.8 a1.8 1.6 0 1 0 0.1 0 M113.5 159.5 a1.0 1.5 0 1 0 0.1 0 M120.4 152.7 a1.7 1.4 0 1 0 0.1 0 M115.1 164.1 a2.1 2.4 0 1 0 0.1 0 M116.3 158.5 a1.5 1.1 0 1 0 0.1 0 M121.1 165.4 a1.9 1.4 0 1 0 0.1 0 M122.6 160.6 a1.3 1.8 0 1 0 0.1 0 M120.3 167.2 a1.8 1.5 0 1 0 0.1 0 M118.5 158.6 a2.1 2.1 0 1 0 0.1 0 M115.2 164.2 a1.4 1.3 0 1 0 0.1 0 M121.2 162.2 a1.9 2.0 0 1 0 0.1 0 M119.9 154.6 a2.1 1.7 0 1 0 0.1 0 M115.5 162.7 a1.6 1.3 0 1 0 0.1 0 M113.8 162.7 a2.1 2.4 0 1 0 0.1 0 M123.7 166.7 a2.2 2.1 0 1 0 0.1 0 M124.2 157.3 a2.2 2.3 0 1 0 0.1 0 " fill="none" stroke="#9c1628" stroke-width="1.1"/><path d="M123.9 159.9 C123.7 160.3 123.1 161.4 123.0 162.2 C122.8 163.0 123.4 163.9 123.1 164.7 C122.9 165.4 122.2 166.3 121.5 166.6 C120.8 166.9 119.7 166.8 119.0 166.5 C118.3 166.1 118.2 164.9 117.5 164.5 C116.9 164.0 115.7 164.2 115.1 163.7 C114.5 163.2 114.4 162.2 113.9 161.5 C113.4 160.9 112.4 160.4 112.3 159.6 C112.1 158.9 112.4 157.8 112.8 157.2 C113.3 156.6 114.5 156.7 115.1 156.2 C115.8 155.7 116.6 154.9 116.6 154.2 C116.7 153.5 115.5 152.7 115.6 151.9 C115.6 151.2 116.3 150.2 116.9 149.8 C117.6 149.4 118.7 149.2 119.4 149.5 C120.1 149.8 120.3 151.0 120.9 151.5 C121.6 152.0 122.4 152.6 123.2 152.6 C123.9 152.6 124.7 151.5 125.4 151.5 C126.2 151.4 126.9 152.3 127.7 152.4 C128.5 152.5 129.6 151.7 130.2 151.9 C130.8 152.2 131.5 153.4 131.4 154.1 C131.4 154.8 130.3 155.3 129.9 156.0 C129.5 156.8 129.2 157.6 129.1 158.4 C129.0 159.2 129.3 160.5 129.4 160.9" fill="none" stroke="#9c1628" stroke-width="0.9"/><path d="M127.3 58.0 a1.4 1.3 0 1 0 0.1 0 M124.8 53.1 a1.7 1.7 0 1 0 0.1 0 M127.2 47.4 a1.1 1.2 0 1 0 0.1 0 M126.8 55.8 a1.8 1.7 0 1 0 0.1 0 M129.2 50.8 a1.1 1.3 0 1 0 0.1 0 " fill="none" stroke="#4a96d0" stroke-width="0.8"/><circle cx="128.0" cy="43.3" r="7.5" fill="url(#rdot)"/>
<rect x="121.0" y="128.8" width="2" height="8" fill="#6f5f5f"/>
<path d="M155.3 44.1 a1.2 1.2 0 1 0 0.1 0 M151.4 41.8 a1.9 1.2 0 1 0 0.1 0 M147.4 41.2 a1.9 1.3 0 1 0 0.1 0 M145.8 45.7 a1.6 1.2 0 1 0 0.1 0 M153.1 45.1 a0.9 1.9 0 1 0 0.1 0 M147.6 44.2 a1.3 1.0 0 1 0 0.1 0 M147.0 45.7 a1.3 1.3 0 1 0 0.1 0 M147.4 45.8 a1.8 1.4 0 1 0 0.1 0 M149.9 39.3 a1.0 1.1 0 1 0 0.1 0 M151.8 39.9 a1.3 1.5 0 1 0 0.1 0 " fill="none" stroke="#d2914a" stroke-width="0.75"/><path d="M151.1 40.5 C151.1 40.1 150.8 38.5 151.2 38.3 C151.5 38.1 152.4 39.0 153.1 39.3 C153.7 39.7 154.8 39.8 155.0 40.3 C155.3 40.9 154.7 41.8 154.5 42.5 C154.4 43.2 154.4 44.0 154.1 44.6 C153.8 45.3 153.4 46.2 152.8 46.4 C152.2 46.6 151.3 45.7 150.7 45.8 C150.0 45.9 149.5 46.9 148.8 47.0 C148.2 47.1 147.2 46.9 146.7 46.5 C146.2 46.1 146.3 45.0 145.9 44.4 C145.5 43.9 144.1 43.3 144.2 43.0 C144.3 42.7 145.7 42.5 146.4 42.6 C147.0 42.7 147.9 43.2 148.2 43.8 C148.6 44.3 148.9 45.6 148.6 45.9 C148.4 46.2 147.1 45.8 146.5 45.4 C146.0 45.0 145.5 44.2 145.3 43.5 C145.1 42.9 144.9 41.7 145.3 41.3 C145.6 40.9 146.8 41.0 147.5 41.2 C148.1 41.4 149.0 41.9 149.3 42.5 C149.5 43.0 149.2 44.0 149.0 44.6 C148.8 45.3 148.1 46.2 147.9 46.6" fill="none" stroke="#d3944f" stroke-width="0.7"/><path d="M168.9 39.6 a1.0 1.9 0 1 0 0.1 0 M165.6 42.1 a1.8 1.2 0 1 0 0.1 0 M163.3 41.0 a1.1 1.7 0 1 0 0.1 0 M169.5 42.1 a1.9 1.1 0 1 0 0.1 0 M161.4 38.4 a1.6 1.7 0 1 0 0.1 0 M163.7 41.1 a1.1 1.5 0 1 0 0.1 0 M167.8 41.2 a1.5 1.0 0 1 0 0.1 0 M167.2 39.5 a1.5 1.6 0 1 0 0.1 0 M168.4 43.9 a1.8 1.8 0 1 0 0.1 0 M163.3 43.3 a1.1 1.9 0 1 0 0.1 0 M158.5 42.4 a1.5 1.7 0 1 0 0.1 0 " fill="none" stroke="#d2914a" stroke-width="0.75"/><path d="M165.1 43.7 C164.8 43.4 164.1 42.5 163.5 42.2 C162.8 41.8 162.0 41.4 161.4 41.5 C160.7 41.6 160.2 42.7 159.6 42.8 C158.9 42.9 157.6 42.5 157.5 42.1 C157.4 41.7 158.5 41.1 159.0 40.5 C159.4 39.9 159.5 38.9 160.1 38.6 C160.6 38.3 161.6 38.6 162.3 38.5 C163.0 38.5 163.7 38.1 164.5 38.1 C165.2 38.2 165.9 38.6 166.6 38.6 C167.3 38.6 168.4 38.0 168.8 38.3 C169.2 38.6 169.4 39.8 169.3 40.4 C169.1 41.1 168.3 41.6 167.7 42.0 C167.2 42.4 166.4 42.7 165.8 43.0 C165.1 43.4 164.6 43.9 163.9 44.2 C163.3 44.5 162.2 45.0 161.8 44.7 C161.4 44.4 161.7 43.2 161.7 42.5 C161.6 41.7 161.2 40.7 161.6 40.3 C161.9 39.8 163.1 39.8 163.7 39.9 C164.4 40.0 164.9 40.9 165.6 41.0 C166.3 41.2 167.1 40.6 167.8 40.7 C168.5 40.9 169.4 41.6 169.7 41.8" fill="none" stroke="#d3944f" stroke-width="0.7"/><path d="M174.3 56.1 a1.0 1.4 0 1 0 0.1 0 M170.5 52.6 a1.1 1.2 0 1 0 0.1 0 M179.2 54.1 a1.5 0.9 0 1 0 0.1 0 M176.6 53.2 a2.0 1.4 0 1 0 0.1 0 M172.1 49.5 a1.6 1.8 0 1 0 0.1 0 M175.7 50.6 a1.4 1.4 0 1 0 0.1 0 M181.9 52.3 a1.3 1.2 0 1 0 0.1 0 M172.0 47.6 a1.4 1.8 0 1 0 0.1 0 M172.2 50.4 a1.0 1.5 0 1 0 0.1 0 M172.6 54.1 a1.3 0.9 0 1 0 0.1 0 " fill="none" stroke="#d2914a" stroke-width="0.75"/><path d="M179.1 49.7 C179.2 49.4 179.1 48.1 179.5 47.5 C179.8 47.0 180.7 46.2 181.2 46.2 C181.8 46.3 182.5 47.1 182.9 47.6 C183.4 48.2 184.0 49.0 183.9 49.6 C183.7 50.2 182.9 50.8 182.2 51.1 C181.6 51.4 180.7 51.2 180.1 51.5 C179.5 51.8 179.1 52.9 178.5 53.1 C177.9 53.2 177.1 52.3 176.4 52.4 C175.7 52.5 175.0 52.9 174.5 53.4 C173.9 53.9 173.3 55.2 173.2 55.2 C173.1 55.2 173.7 53.8 174.1 53.2 C174.4 52.5 175.1 52.0 175.3 51.3 C175.4 50.7 175.1 49.9 174.9 49.2 C174.7 48.5 173.9 47.6 174.1 47.1 C174.3 46.6 175.4 46.1 176.0 46.0 C176.7 46.0 177.6 46.4 178.1 46.9 C178.5 47.4 179.0 48.3 178.9 48.9 C178.9 49.6 178.3 50.3 177.8 50.8 C177.3 51.3 176.6 51.7 176.0 52.0 C175.3 52.4 174.5 52.9 173.9 52.8 C173.3 52.6 172.5 51.6 172.2 51.3" fill="none" stroke="#d3944f" stroke-width="0.7"/><path d="M182.8 60.1 a1.0 1.1 0 1 0 0.1 0 M183.0 55.0 a1.7 1.3 0 1 0 0.1 0 M186.3 53.2 a1.7 1.8 0 1 0 0.1 0 M185.9 57.6 a1.3 1.4 0 1 0 0.1 0 M179.8 51.9 a1.7 1.9 0 1 0 0.1 0 M181.5 53.4 a1.5 1.7 0 1 0 0.1 0 M184.4 53.4 a1.3 1.6 0 1 0 0.1 0 M184.1 62.4 a0.9 1.6 0 1 0 0.1 0 M180.0 57.0 a1.5 1.4 0 1 0 0.1 0 M188.1 55.5 a1.5 1.9 0 1 0 0.1 0 " fill="none" stroke="#d2914a" stroke-width="0.75"/><path d="M184.4 54.6 C184.7 54.4 185.4 53.4 186.0 53.1 C186.7 52.9 187.7 52.8 188.2 53.1 C188.8 53.4 189.1 54.3 189.3 55.0 C189.5 55.7 189.1 56.5 189.2 57.2 C189.2 57.9 189.7 58.7 189.5 59.4 C189.4 60.0 188.7 60.8 188.1 61.0 C187.5 61.2 186.6 60.8 185.9 60.6 C185.2 60.4 184.4 60.3 183.8 59.8 C183.3 59.4 183.2 58.5 182.8 57.9 C182.3 57.4 181.8 56.8 181.2 56.4 C180.5 56.1 179.1 56.0 179.1 55.7 C179.1 55.5 180.5 55.3 181.1 54.9 C181.7 54.6 182.3 54.0 182.9 53.6 C183.5 53.2 184.2 52.4 184.8 52.5 C185.3 52.7 185.7 53.7 186.2 54.3 C186.6 54.8 186.9 55.6 187.5 56.0 C188.0 56.5 189.1 56.5 189.5 57.0 C189.8 57.5 189.8 58.6 189.6 59.2 C189.4 59.8 188.7 60.4 188.0 60.7 C187.4 61.1 186.5 60.9 185.9 61.2 C185.2 61.5 184.5 62.4 184.2 62.6" fill="none" stroke="#d3944f" stroke-width="0.7"/><path d="M190.5 67.6 a1.8 1.6 0 1 0 0.1 0 M190.3 67.8 a1.5 1.3 0 1 0 0.1 0 M186.0 60.7 a1.6 1.7 0 1 0 0.1 0 M191.0 62.6 a1.5 1.9 0 1 0 0.1 0 M186.6 59.0 a1.8 0.9 0 1 0 0.1 0 M190.3 58.2 a1.5 1.2 0 1 0 0.1 0 M187.8 61.4 a1.5 1.2 0 1 0 0.1 0 M193.8 60.6 a1.4 1.7 0 1 0 0.1 0 M186.6 65.7 a1.1 1.8 0 1 0 0.1 0 M190.1 57.6 a1.0 1.8 0 1 0 0.1 0 " fill="none" stroke="#d2914a" stroke-width="0.75"/><path d="M192.8 63.3 C193.2 63.3 194.9 63.4 195.0 63.7 C195.1 64.0 194.1 64.8 193.5 65.3 C192.9 65.7 192.1 65.9 191.6 66.4 C191.1 66.9 190.7 68.2 190.3 68.2 C189.9 68.2 189.2 67.0 189.1 66.3 C189.0 65.7 189.6 65.0 189.8 64.2 C189.9 63.5 190.2 62.7 190.0 62.1 C189.7 61.4 188.5 61.2 188.3 60.6 C188.1 60.0 188.4 58.6 188.8 58.4 C189.2 58.3 190.0 59.4 190.7 59.5 C191.4 59.6 192.4 58.5 192.8 58.8 C193.1 59.0 192.9 60.2 192.9 61.0 C192.9 61.7 192.6 62.4 192.6 63.1 C192.6 63.9 193.1 64.6 193.0 65.3 C192.9 66.0 192.6 66.8 192.2 67.3 C191.7 67.9 190.7 68.5 190.2 68.4 C189.8 68.2 189.9 66.9 189.5 66.3 C189.1 65.7 188.5 65.1 188.0 64.7 C187.5 64.2 186.5 64.0 186.2 63.4 C186.0 62.8 186.1 61.7 186.5 61.2 C186.9 60.7 188.2 60.5 188.6 60.3" fill="none" stroke="#d3944f" stroke-width="0.7"/><path d="M196.5 78.8 a1.1 1.8 0 1 0 0.1 0 M194.5 81.9 a1.7 1.1 0 1 0 0.1 0 M196.8 78.0 a1.9 1.8 0 1 0 0.1 0 M195.4 85.6 a1.4 1.1 0 1 0 0.1 0 M197.8 80.7 a1.5 1.2 0 1 0 0.1 0 M195.3 75.7 a1.4 1.0 0 1 0 0.1 0 M191.8 84.9 a1.5 1.1 0 1 0 0.1 0 M194.8 85.2 a1.2 1.9 0 1 0 0.1 0 M198.0 81.6 a1.6 1.8 0 1 0 0.1 0 M193.9 80.5 a1.1 1.6 0 1 0 0.1 0 M195.4 79.2 a1.8 1.9 0 1 0 0.1 0 " fill="none" stroke="#d2914a" stroke-width="0.75"/><path d="M197.9 78.4 C198.2 78.4 200.0 78.1 200.1 78.3 C200.2 78.6 199.0 79.4 198.5 79.9 C197.9 80.3 197.3 80.7 196.7 81.2 C196.2 81.6 195.3 82.1 195.2 82.7 C195.0 83.4 195.3 84.4 195.8 84.9 C196.2 85.4 197.7 85.9 197.8 85.7 C197.9 85.5 196.9 84.5 196.5 83.9 C196.2 83.3 195.7 82.6 195.6 81.9 C195.4 81.2 195.4 80.3 195.7 79.7 C196.1 79.2 197.1 79.0 197.5 78.4 C197.9 77.9 198.1 76.4 198.3 76.4 C198.4 76.4 198.2 77.9 198.5 78.6 C198.7 79.2 199.6 79.7 199.7 80.4 C199.8 81.0 199.6 82.0 199.1 82.5 C198.7 83.0 197.8 83.4 197.1 83.4 C196.4 83.5 195.7 83.0 195.0 83.0 C194.3 82.9 193.3 83.3 192.8 82.9 C192.3 82.6 192.1 81.5 192.1 80.8 C192.1 80.2 192.5 79.4 193.0 78.8 C193.4 78.3 194.5 78.1 194.8 77.6 C195.1 77.0 194.9 75.7 194.9 75.4" fill="none" stroke="#d3944f" stroke-width="0.7"/><path d="M184.5 93.5 a2.0 1.2 0 1 0 0.1 0 M185.6 87.7 a1.9 1.4 0 1 0 0.1 0 M183.0 90.1 a1.8 1.0 0 1 0 0.1 0 M187.6 90.1 a1.0 1.9 0 1 0 0.1 0 M184.0 95.9 a1.2 0.9 0 1 0 0.1 0 M182.9 100.5 a2.0 1.6 0 1 0 0.1 0 M186.8 88.5 a1.7 1.3 0 1 0 0.1 0 M184.2 97.1 a1.5 1.1 0 1 0 0.1 0 M184.0 89.7 a1.5 1.5 0 1 0 0.1 0 M183.2 91.9 a1.2 1.7 0 1 0 0.1 0 M184.7 100.2 a2.0 1.3 0 1 0 0.1 0 " fill="none" stroke="#d2914a" stroke-width="0.75"/><path d="M187.9 94.1 C188.1 94.4 189.2 95.4 189.1 95.9 C189.0 96.4 187.8 96.7 187.1 96.8 C186.4 97.0 185.6 96.7 184.9 96.9 C184.3 97.2 183.8 98.4 183.3 98.4 C182.7 98.4 181.8 97.3 181.7 96.8 C181.7 96.3 182.6 95.4 183.2 95.1 C183.8 94.9 184.7 95.0 185.4 95.2 C186.0 95.5 186.7 96.0 187.1 96.6 C187.4 97.2 187.6 98.1 187.5 98.8 C187.4 99.5 186.6 100.6 186.2 100.6 C185.8 100.5 185.9 98.9 185.4 98.6 C184.9 98.2 183.7 98.7 183.2 98.4 C182.7 98.0 182.8 96.9 182.4 96.3 C182.1 95.7 181.0 94.9 181.2 94.5 C181.3 94.1 182.6 94.2 183.3 94.0 C184.0 93.7 184.6 93.4 185.3 93.0 C185.9 92.6 186.5 92.1 187.1 91.7 C187.7 91.4 188.9 90.6 189.1 90.8 C189.2 90.9 188.6 92.2 188.1 92.7 C187.6 93.2 186.7 93.3 186.1 93.7 C185.5 94.2 185.0 95.1 184.7 95.4" fill="none" stroke="#d3944f" stroke-width="0.7"/><path d="M186.1 107.2 a1.7 1.9 0 1 0 0.1 0 M191.4 116.7 a1.6 1.2 0 1 0 0.1 0 M186.0 113.6 a1.2 1.8 0 1 0 0.1 0 M186.5 106.1 a1.1 1.0 0 1 0 0.1 0 M184.5 116.8 a1.7 1.2 0 1 0 0.1 0 M187.2 107.1 a1.2 1.8 0 1 0 0.1 0 M191.0 115.7 a1.1 0.9 0 1 0 0.1 0 M183.6 113.8 a1.6 1.3 0 1 0 0.1 0 M191.6 110.1 a1.1 0.9 0 1 0 0.1 0 M190.8 111.8 a1.0 1.1 0 1 0 0.1 0 M186.7 110.0 a1.3 1.6 0 1 0 0.1 0 " fill="none" stroke="#d2914a" stroke-width="0.75"/><path d="M186.9 114.3 C186.5 114.1 184.9 113.8 184.8 113.4 C184.8 113.1 186.0 112.5 186.7 112.2 C187.3 111.9 188.2 111.9 188.8 111.6 C189.4 111.2 189.8 110.5 190.5 110.1 C191.1 109.8 192.1 109.1 192.5 109.3 C192.9 109.5 192.7 110.7 192.8 111.4 C193.0 112.2 193.3 112.9 193.2 113.6 C193.2 114.3 192.9 115.2 192.4 115.7 C191.9 116.1 190.9 116.4 190.3 116.2 C189.7 116.0 189.4 114.8 188.8 114.6 C188.2 114.4 187.3 114.7 186.6 115.0 C186.0 115.4 185.4 116.6 185.0 116.5 C184.7 116.4 184.4 115.1 184.4 114.4 C184.5 113.7 185.0 113.0 185.4 112.4 C185.7 111.8 186.5 111.2 186.6 110.6 C186.7 110.0 185.7 109.1 185.9 108.5 C186.0 107.9 186.9 107.3 187.5 107.1 C188.2 106.9 189.3 106.8 189.7 107.2 C190.1 107.6 190.2 108.7 190.0 109.4 C189.8 110.0 188.8 110.4 188.5 111.0 C188.3 111.6 188.6 112.8 188.6 113.2" fill="none" stroke="#d3944f" stroke-width="0.7"/><path d="M194.2 67.8 L195.2 71.8 M192.2 85.8 L188.2 88.8 M186.2 100.8 L187.2 105.8" fill="none" stroke="#d3944f" stroke-width="0.7"/><path d="M181.9 148.8 a2.7 1.5 0 1 0 0.1 0 M188.6 148.3 a2.9 1.8 0 1 0 0.1 0 M182.6 151.2 a2.3 2.1 0 1 0 0.1 0 M192.1 146.1 a2.2 2.9 0 1 0 0.1 0 M185.5 150.0 a2.9 1.9 0 1 0 0.1 0 M194.0 143.6 a2.0 1.9 0 1 0 0.1 0 M194.3 150.9 a2.1 2.0 0 1 0 0.1 0 M187.6 150.1 a3.0 1.5 0 1 0 0.1 0 M177.7 145.6 a2.3 2.3 0 1 0 0.1 0 M181.5 149.0 a2.9 3.0 0 1 0 0.1 0 M180.1 146.0 a3.0 1.7 0 1 0 0.1 0 " fill="none" stroke="#b02838" stroke-width="0.75"/><path d="M185.2 140.8 L186.2 146.8" stroke="#a0182a" stroke-width="0.9"/><path d="M187.4 164.8 a2.2 1.9 0 1 0 0.1 0 M192.5 164.1 a1.2 1.5 0 1 0 0.1 0 M192.9 157.1 a2.1 1.1 0 1 0 0.1 0 M188.6 152.7 a1.0 2.2 0 1 0 0.1 0 M186.1 156.9 a1.7 2.4 0 1 0 0.1 0 M180.7 162.6 a2.2 1.7 0 1 0 0.1 0 M193.1 157.7 a2.3 2.1 0 1 0 0.1 0 M186.8 165.6 a1.9 1.7 0 1 0 0.1 0 M179.1 155.6 a1.3 2.4 0 1 0 0.1 0 M180.9 160.2 a2.5 1.8 0 1 0 0.1 0 M181.7 152.6 a1.2 1.5 0 1 0 0.1 0 M186.1 153.3 a2.4 1.5 0 1 0 0.1 0 M187.6 155.2 a1.7 1.2 0 1 0 0.1 0 M188.7 163.6 a1.5 1.8 0 1 0 0.1 0 M185.4 163.2 a1.5 2.3 0 1 0 0.1 0 M189.3 160.9 a2.3 1.9 0 1 0 0.1 0 M184.2 167.8 a1.2 1.2 0 1 0 0.1 0 M190.3 158.5 a2.3 1.4 0 1 0 0.1 0 M182.5 166.5 a1.1 1.0 0 1 0 0.1 0 M182.3 155.3 a1.8 1.2 0 1 0 0.1 0 M176.2 152.3 a1.7 1.4 0 1 0 0.1 0 M178.3 151.9 a1.1 1.4 0 1 0 0.1 0 M179.0 162.8 a1.4 2.0 0 1 0 0.1 0 M183.8 167.3 a1.5 1.3 0 1 0 0.1 0 " fill="none" stroke="#9c1628" stroke-width="1.1"/><path d="M188.1 157.0 C188.3 156.7 188.9 155.3 189.5 155.0 C190.2 154.6 191.2 154.8 192.0 154.7 C192.8 154.5 193.9 153.6 194.4 153.9 C194.8 154.2 195.0 155.7 194.7 156.4 C194.4 157.1 193.5 157.7 192.8 158.0 C192.0 158.3 191.0 157.9 190.3 158.2 C189.5 158.5 188.8 159.1 188.3 159.8 C187.8 160.4 187.5 161.2 187.1 161.9 C186.6 162.6 186.0 163.3 185.8 164.1 C185.6 164.8 186.1 166.3 185.8 166.6 C185.4 166.8 184.1 166.2 183.4 165.7 C182.8 165.2 182.3 164.4 181.9 163.7 C181.4 163.0 181.2 162.2 180.8 161.5 C180.4 160.8 179.9 160.1 179.5 159.4 C179.0 158.7 178.4 158.1 178.0 157.3 C177.6 156.6 177.2 155.8 177.1 155.0 C176.9 154.2 176.9 153.2 177.2 152.5 C177.5 151.8 178.1 150.8 178.8 150.6 C179.5 150.5 180.7 150.9 181.2 151.4 C181.7 151.9 181.8 153.0 181.8 153.8 C181.8 154.6 181.2 155.4 181.0 156.2 C180.9 157.0 180.7 158.1 181.1 158.7 C181.4 159.3 182.9 159.7 183.2 159.9" fill="none" stroke="#9c1628" stroke-width="0.9"/><path d="M188.2 55.0 a1.3 1.1 0 1 0 0.1 0 M188.4 51.8 a1.6 1.4 0 1 0 0.1 0 M189.3 59.0 a1.4 1.1 0 1 0 0.1 0 M190.0 54.8 a1.3 1.7 0 1 0 0.1 0 M192.8 51.4 a1.1 1.2 0 1 0 0.1 0 " fill="none" stroke="#4a96d0" stroke-width="0.8"/><circle cx="191.2" cy="43.3" r="7.5" fill="url(#rdot)"/>
<rect x="184.2" y="128.8" width="2" height="8" fill="#6f5f5f"/>
<path d="M214.8 45.3 a1.6 0.9 0 1 0 0.1 0 M209.1 42.8 a1.6 1.8 0 1 0 0.1 0 M209.8 44.8 a1.2 1.4 0 1 0 0.1 0 M212.7 41.7 a1.5 1.5 0 1 0 0.1 0 M214.8 44.7 a1.8 1.3 0 1 0 0.1 0 M215.0 44.9 a1.5 1.3 0 1 0 0.1 0 M211.8 44.7 a1.1 1.5 0 1 0 0.1 0 M212.0 41.7 a1.5 1.2 0 1 0 0.1 0 M220.7 41.9 a1.0 1.7 0 1 0 0.1 0 M212.1 43.9 a1.9 1.9 0 1 0 0.1 0 " fill="none" stroke="#d2914a" stroke-width="0.75"/><path d="M216.3 40.7 C216.7 40.7 217.8 40.6 218.5 40.7 C219.2 40.7 220.5 40.6 220.7 41.0 C220.9 41.3 220.2 42.5 219.6 42.9 C219.1 43.3 218.2 43.6 217.5 43.5 C216.8 43.4 216.3 42.6 215.6 42.4 C214.9 42.2 214.1 42.1 213.4 42.3 C212.7 42.4 212.2 43.1 211.5 43.5 C210.9 43.8 209.6 44.4 209.6 44.5 C209.6 44.5 210.9 43.6 211.6 43.6 C212.3 43.6 213.1 44.0 213.7 44.4 C214.3 44.8 215.3 45.8 215.2 45.9 C215.2 46.1 213.7 45.5 213.2 45.1 C212.7 44.6 212.7 43.5 212.2 43.1 C211.6 42.7 210.6 43.0 210.1 42.6 C209.5 42.1 209.0 41.1 209.2 40.5 C209.3 40.0 210.4 39.5 211.0 39.4 C211.7 39.3 212.4 39.9 213.2 40.0 C213.9 40.2 214.7 40.2 215.3 40.5 C216.0 40.8 216.4 41.6 217.1 41.8 C217.7 41.9 218.6 41.1 219.2 41.2 C219.9 41.3 220.8 42.2 221.1 42.4" fill="none" stroke="#d3944f" stroke-width="0.7"/><path d="M222.9 42.6 a1.7 1.6 0 1 0 0.1 0 M224.0 42.2 a1.4 0.9 0 1 0 0.1 0 M228.7 44.9 a1.0 1.0 0 1 0 0.1 0 M231.7 39.7 a1.5 1.5 0 1 0 0.1 0 M227.2 39.5 a1.7 0.9 0 1 0 0.1 0 M231.3 39.8 a1.6 1.2 0 1 0 0.1 0 M228.4 39.2 a1.6 1.3 0 1 0 0.1 0 M232.8 38.7 a1.1 1.7 0 1 0 0.1 0 M233.0 40.9 a1.1 1.9 0 1 0 0.1 0 M231.4 41.2 a1.8 1.9 0 1 0 0.1 0 M228.1 44.8 a1.2 1.8 0 1 0 0.1 0 " fill="none" stroke="#d2914a" stroke-width="0.75"/><path d="M227.8 41.5 C227.6 41.8 226.9 42.7 226.3 43.2 C225.8 43.6 224.9 44.4 224.4 44.2 C223.9 44.0 224.0 42.6 223.5 42.2 C222.9 41.8 221.4 42.3 221.3 41.9 C221.2 41.6 222.1 40.7 222.7 40.3 C223.3 39.9 224.1 39.5 224.8 39.6 C225.5 39.7 226.2 40.2 226.7 40.7 C227.2 41.2 227.2 42.3 227.7 42.7 C228.2 43.1 229.1 43.2 229.8 43.3 C230.5 43.5 232.0 43.3 232.0 43.4 C232.0 43.6 230.5 44.3 229.9 44.2 C229.3 44.1 228.6 43.3 228.3 42.7 C227.9 42.1 227.9 41.3 228.0 40.6 C228.0 39.8 228.4 38.5 228.7 38.5 C228.9 38.5 229.2 39.8 229.6 40.5 C229.9 41.1 230.2 42.0 230.8 42.3 C231.3 42.6 232.3 42.4 233.0 42.2 C233.7 42.1 234.6 41.8 235.0 41.3 C235.3 40.8 234.8 39.2 235.1 39.1 C235.4 38.9 236.4 39.9 236.8 40.4 C237.3 41.0 237.7 42.0 237.8 42.4" fill="none" stroke="#d3944f" stroke-width="0.7"/><path d="M237.3 54.2 a1.6 1.9 0 1 0 0.1 0 M244.2 52.1 a1.0 1.9 0 1 0 0.1 0 M236.4 47.2 a1.8 0.9 0 1 0 0.1 0 M243.7 48.8 a1.6 1.3 0 1 0 0.1 0 M240.7 47.5 a1.2 1.2 0 1 0 0.1 0 M240.2 46.8 a1.1 1.3 0 1 0 0.1 0 M236.6 49.3 a1.6 1.8 0 1 0 0.1 0 M236.8 46.7 a1.2 1.9 0 1 0 0.1 0 M245.8 49.2 a0.9 1.0 0 1 0 0.1 0 M240.6 45.2 a1.7 1.5 0 1 0 0.1 0 " fill="none" stroke="#d2914a" stroke-width="0.75"/><path d="M240.2 52.0 C239.8 52.2 238.7 53.0 238.1 52.8 C237.5 52.7 236.8 52.0 236.5 51.4 C236.2 50.8 236.2 49.8 236.5 49.2 C236.8 48.6 237.5 48.1 238.1 47.6 C238.7 47.2 239.5 47.1 240.0 46.7 C240.6 46.2 241.0 45.3 241.6 45.1 C242.2 45.0 243.2 45.3 243.7 45.7 C244.2 46.1 244.5 47.1 244.5 47.8 C244.5 48.4 243.8 49.0 243.5 49.7 C243.2 50.4 243.3 51.2 242.9 51.9 C242.6 52.5 242.0 53.1 241.4 53.4 C240.7 53.7 239.9 53.4 239.2 53.6 C238.5 53.8 237.5 54.6 237.1 54.4 C236.8 54.2 237.2 52.8 236.9 52.2 C236.6 51.6 235.3 50.9 235.4 50.6 C235.5 50.3 237.1 50.7 237.6 50.3 C238.1 49.9 238.6 48.9 238.5 48.3 C238.5 47.6 237.2 46.6 237.4 46.4 C237.5 46.2 238.8 47.0 239.5 46.9 C240.2 46.8 240.8 46.2 241.5 45.9 C242.2 45.7 243.3 45.4 243.6 45.4" fill="none" stroke="#d3944f" stroke-width="0.7"/><path d="M243.8 55.7 a1.8 1.4 0 1 0 0.1 0 M242.8 56.4 a1.3 1.1 0 1 0 0.1 0 M252.5 55.3 a1.5 1.4 0 1 0 0.1 0 M245.6 54.6 a1.0 1.5 0 1 0 0.1 0 M248.5 55.7 a2.0 1.3 0 1 0 0.1 0 M253.1 56.7 a1.2 1.1 0 1 0 0.1 0 M251.7 53.0 a1.8 1.5 0 1 0 0.1 0 M242.1 55.4 a1.8 1.8 0 1 0 0.1 0 M245.7 62.1 a1.9 1.5 0 1 0 0.1 0 M250.0 57.0 a1.6 1.4 0 1 0 0.1 0 " fill="none" stroke="#d2914a" stroke-width="0.75"/><path d="M251.2 56.3 C251.5 56.4 252.7 56.5 253.3 56.8 C253.9 57.2 254.8 58.3 254.7 58.6 C254.5 58.8 253.1 58.8 252.5 58.5 C251.9 58.2 251.7 57.2 251.1 56.8 C250.6 56.3 249.8 56.2 249.1 55.9 C248.4 55.6 247.5 55.6 247.1 55.1 C246.7 54.6 246.5 53.4 246.8 52.9 C247.1 52.3 248.0 52.0 248.7 51.8 C249.4 51.6 250.4 51.4 250.9 51.7 C251.4 52.0 251.7 53.0 251.7 53.7 C251.7 54.4 251.4 55.3 251.0 55.8 C250.5 56.3 249.4 56.4 249.1 57.0 C248.8 57.5 249.2 58.5 249.1 59.2 C248.9 59.9 248.5 61.2 248.2 61.2 C247.9 61.2 247.3 59.9 247.2 59.2 C247.2 58.5 247.5 57.7 247.9 57.1 C248.4 56.6 249.2 56.3 249.8 56.0 C250.5 55.7 251.3 55.3 251.9 55.4 C252.6 55.5 253.6 55.9 253.9 56.5 C254.1 57.0 254.1 58.3 253.7 58.7 C253.3 59.1 251.9 59.0 251.6 59.0" fill="none" stroke="#d3944f" stroke-width="0.7"/><path d="M251.7 66.3 a1.9 1.7 0 1 0 0.1 0 M255.0 58.8 a1.5 1.0 0 1 0 0.1 0 M254.7 65.1 a1.5 1.5 0 1 0 0.1 0 M258.4 64.9 a1.0 1.3 0 1 0 0.1 0 M258.2 63.5 a1.1 1.9 0 1 0 0.1 0 M250.9 67.0 a1.4 1.3 0 1 0 0.1 0 M255.6 60.1 a1.5 1.6 0 1 0 0.1 0 M259.2 62.6 a1.0 1.4 0 1 0 0.1 0 M259.1 61.2 a1.3 1.0 0 1 0 0.1 0 M253.8 68.0 a1.1 1.9 0 1 0 0.1 0 " fill="none" stroke="#d2914a" stroke-width="0.75"/><path d="M254.4 64.7 C254.1 64.9 252.9 66.2 252.6 66.0 C252.4 65.9 253.1 64.6 253.0 63.8 C253.0 63.1 252.5 62.5 252.3 61.8 C252.1 61.1 251.5 59.9 251.8 59.6 C252.0 59.4 253.1 60.3 253.9 60.3 C254.6 60.4 255.4 60.3 256.0 59.9 C256.6 59.6 256.9 58.3 257.4 58.2 C257.9 58.2 259.2 59.1 259.2 59.5 C259.2 60.0 257.9 60.4 257.6 61.0 C257.2 61.6 257.3 62.4 257.2 63.2 C257.0 63.9 256.8 64.6 256.7 65.3 C256.6 66.0 256.7 67.3 256.4 67.5 C256.0 67.6 255.2 66.6 254.6 66.2 C254.0 65.9 253.1 65.9 252.5 65.5 C252.0 65.1 251.3 64.3 251.2 63.7 C251.2 63.1 251.6 62.1 252.2 61.7 C252.7 61.4 253.7 61.8 254.4 61.5 C255.0 61.2 255.5 60.6 256.0 60.1 C256.5 59.5 256.8 58.2 257.2 58.2 C257.6 58.2 258.0 59.4 258.4 60.0 C258.8 60.6 259.4 61.6 259.6 61.9" fill="none" stroke="#d3944f" stroke-width="0.7"/><path d="M262.2 77.4 a1.4 1.0 0 1 0 0.1 0 M262.2 73.5 a1.7 1.9 0 1 0 0.1 0 M257.1 77.0 a1.1 1.2 0 1 0 0.1 0 M261.2 82.7 a1.0 0.9 0 1 0 0.1 0 M262.0 74.4 a1.8 1.3 0 1 0 0.1 0 M255.6 80.6 a1.8 1.2 0 1 0 0.1 0 M255.3 78.3 a1.8 1.3 0 1 0 0.1 0 M261.5 78.9 a1.9 1.1 0 1 0 0.1 0 M258.2 76.7 a1.2 1.6 0 1 0 0.1 0 M261.4 82.0 a1.5 1.3 0 1 0 0.1 0 M259.5 71.4 a1.2 1.7 0 1 0 0.1 0 " fill="none" stroke="#d2914a" stroke-width="0.75"/><path d="M261.0 76.7 C261.2 76.3 261.6 75.3 262.0 74.7 C262.3 74.0 262.9 72.8 263.2 72.9 C263.6 72.9 264.2 74.2 264.1 74.9 C264.1 75.5 263.4 76.2 262.9 76.7 C262.3 77.1 261.5 77.3 260.9 77.7 C260.3 78.1 259.7 78.8 259.1 78.9 C258.4 79.0 257.4 78.7 257.0 78.2 C256.5 77.8 256.2 76.5 256.5 76.1 C256.7 75.7 258.0 76.1 258.6 75.8 C259.2 75.4 259.5 74.6 260.1 74.1 C260.7 73.7 261.7 72.9 262.1 73.1 C262.4 73.3 262.4 74.6 262.3 75.3 C262.2 76.0 262.0 76.9 261.6 77.4 C261.1 77.9 260.2 78.4 259.6 78.4 C259.0 78.3 258.0 77.7 257.8 77.1 C257.6 76.5 258.2 75.7 258.4 75.0 C258.5 74.3 258.4 73.3 258.8 72.8 C259.2 72.3 260.1 71.9 260.8 71.9 C261.5 71.9 262.3 72.3 262.8 72.7 C263.4 73.1 263.9 73.8 264.1 74.5 C264.3 75.1 264.0 76.3 264.0 76.7" fill="none" stroke="#d3944f" stroke-width="0.7"/><path d="M248.4 98.1 a1.5 1.3 0 1 0 0.1 0 M248.8 86.6 a1.9 1.3 0 1 0 0.1 0 M247.0 88.0 a1.7 1.3 0 1 0 0.1 0 M250.4 100.4 a1.6 1.3 0 1 0 0.1 0 M248.1 92.3 a1.8 1.9 0 1 0 0.1 0 M250.5 93.6 a1.7 1.8 0 1 0 0.1 0 M251.9 98.7 a1.1 1.1 0 1 0 0.1 0 M251.3 94.8 a1.8 1.5 0 1 0 0.1 0 M250.9 86.7 a1.1 1.8 0 1 0 0.1 0 M252.4 90.3 a1.3 1.1 0 1 0 0.1 0 M246.5 95.8 a1.2 1.6 0 1 0 0.1 0 " fill="none" stroke="#d2914a" stroke-width="0.75"/><path d="M248.4 93.4 C248.1 93.5 246.4 94.2 246.4 94.2 C246.4 94.2 247.7 93.6 248.4 93.4 C249.1 93.3 250.0 93.1 250.6 93.3 C251.3 93.5 251.8 94.3 252.1 94.9 C252.5 95.5 252.4 96.3 252.6 97.1 C252.8 97.8 253.5 98.9 253.3 99.1 C253.0 99.4 251.8 98.7 251.1 98.7 C250.4 98.6 249.6 99.1 248.9 99.0 C248.2 98.9 246.9 98.4 246.9 98.1 C246.9 97.7 248.2 97.4 248.7 96.8 C249.2 96.3 249.5 95.6 249.9 95.0 C250.3 94.3 251.0 93.8 251.2 93.2 C251.3 92.5 250.6 91.8 250.5 91.1 C250.4 90.4 250.4 89.6 250.3 88.9 C250.2 88.2 249.6 86.9 249.9 86.7 C250.1 86.6 251.4 87.4 251.7 87.9 C252.0 88.5 251.6 89.5 251.9 90.1 C252.3 90.7 253.4 91.0 253.6 91.6 C253.8 92.2 253.6 93.3 253.2 93.8 C252.8 94.2 251.6 94.0 251.1 94.4 C250.5 94.9 250.0 95.9 249.8 96.2" fill="none" stroke="#d3944f" stroke-width="0.7"/><path d="M251.1 115.9 a1.9 1.7 0 1 0 0.1 0 M256.6 111.6 a1.3 1.8 0 1 0 0.1 0 M250.4 116.5 a1.4 1.7 0 1 0 0.1 0 M250.5 118.4 a1.5 1.8 0 1 0 0.1 0 M248.8 114.0 a1.5 1.4 0 1 0 0.1 0 M252.2 110.5 a1.1 0.9 0 1 0 0.1 0 M248.0 116.8 a1.6 1.6 0 1 0 0.1 0 M256.4 110.3 a1.2 1.1 0 1 0 0.1 0 M249.6 112.2 a1.6 1.0 0 1 0 0.1 0 M249.0 117.2 a1.2 1.1 0 1 0 0.1 0 M251.6 109.6 a1.9 1.6 0 1 0 0.1 0 " fill="none" stroke="#d2914a" stroke-width="0.75"/><path d="M255.3 111.8 C255.6 111.5 256.8 110.3 257.0 110.4 C257.3 110.6 256.7 111.9 256.9 112.6 C257.1 113.3 258.0 113.8 258.1 114.5 C258.2 115.1 257.6 115.9 257.3 116.5 C257.1 117.2 256.8 117.9 256.4 118.5 C256.1 119.2 255.7 120.0 255.2 120.3 C254.6 120.7 253.7 120.6 253.0 120.4 C252.3 120.3 251.5 119.9 251.0 119.5 C250.5 119.0 250.2 118.2 250.1 117.5 C249.9 116.8 249.8 116.0 249.8 115.3 C249.9 114.6 250.5 113.9 250.5 113.2 C250.4 112.5 249.7 111.7 249.8 111.1 C249.9 110.4 250.4 109.6 250.9 109.2 C251.5 108.8 252.3 108.7 253.0 108.6 C253.7 108.5 254.6 108.4 255.2 108.7 C255.8 109.0 256.3 109.7 256.8 110.2 C257.3 110.8 257.8 111.4 258.0 112.0 C258.3 112.7 258.5 113.5 258.4 114.2 C258.3 114.9 257.7 115.5 257.4 116.2 C257.1 116.8 257.0 117.6 256.6 118.2 C256.2 118.8 255.2 119.4 255.0 119.6" fill="none" stroke="#d3944f" stroke-width="0.7"/><path d="M259.0 67.8 L260.0 71.8 M257.0 85.8 L253.0 88.8 M251.0 100.8 L252.0 105.8" fill="none" stroke="#d3944f" stroke-width="0.7"/><path d="M251.6 153.8 a2.6 2.4 0 1 0 0.1 0 M258.2 147.6 a1.3 2.1 0 1 0 0.1 0 M253.5 150.2 a1.9 1.6 0 1 0 0.1 0 M249.8 151.8 a1.6 2.4 0 1 0 0.1 0 M258.8 145.6 a3.1 1.5 0 1 0 0.1 0 M247.1 144.6 a3.1 2.2 0 1 0 0.1 0 M249.8 141.7 a1.6 1.5 0 1 0 0.1 0 M254.6 141.8 a2.1 1.3 0 1 0 0.1 0 M260.1 148.2 a2.6 2.0 0 1 0 0.1 0 M247.3 142.1 a1.3 2.7 0 1 0 0.1 0 M260.2 146.5 a3.0 2.1 0 1 0 0.1 0 " fill="none" stroke="#b02838" stroke-width="0.75"/><path d="M250.0 140.8 L251.0 146.8" stroke="#a0182a" stroke-width="0.9"/><path d="M245.5 155.7 a2.2 2.0 0 1 0 0.1 0 M247.3 159.0 a1.3 1.6 0 1 0 0.1 0 M254.5 154.5 a2.3 1.3 0 1 0 0.1 0 M249.0 162.7 a1.4 2.2 0 1 0 0.1 0 M244.5 162.0 a2.0 1.7 0 1 0 0.1 0 M254.6 152.0 a2.2 1.6 0 1 0 0.1 0 M242.4 161.9 a2.5 2.4 0 1 0 0.1 0 M242.7 154.9 a1.1 2.3 0 1 0 0.1 0 M244.1 153.7 a1.3 1.7 0 1 0 0.1 0 M247.7 152.8 a1.4 1.8 0 1 0 0.1 0 M248.5 157.8 a1.1 1.6 0 1 0 0.1 0 M247.8 151.8 a1.0 1.4 0 1 0 0.1 0 M252.3 166.0 a1.3 2.5 0 1 0 0.1 0 M248.4 161.9 a1.0 1.7 0 1 0 0.1 0 M239.3 156.9 a2.0 1.8 0 1 0 0.1 0 M258.7 160.9 a1.4 1.4 0 1 0 0.1 0 M252.2 164.6 a2.0 1.5 0 1 0 0.1 0 M248.6 158.8 a1.9 2.1 0 1 0 0.1 0 M252.1 161.2 a2.1 2.1 0 1 0 0.1 0 M255.2 165.3 a2.1 2.1 0 1 0 0.1 0 M244.4 166.7 a1.7 2.0 0 1 0 0.1 0 M258.8 156.8 a1.3 1.2 0 1 0 0.1 0 M249.1 161.1 a2.3 1.8 0 1 0 0.1 0 M242.4 158.7 a1.7 1.7 0 1 0 0.1 0 " fill="none" stroke="#9c1628" stroke-width="1.1"/><path d="M249.7 155.4 C249.8 155.1 250.2 153.7 250.8 153.2 C251.4 152.7 252.4 152.3 253.1 152.4 C253.9 152.4 254.8 152.9 255.4 153.5 C256.0 154.0 256.1 155.1 256.7 155.6 C257.3 156.1 258.8 155.8 259.1 156.3 C259.4 156.8 258.5 157.9 258.4 158.7 C258.3 159.5 258.5 160.4 258.4 161.2 C258.4 162.1 258.5 163.1 258.1 163.7 C257.6 164.3 256.5 164.1 255.7 164.6 C255.0 165.0 254.5 166.2 253.9 166.2 C253.2 166.2 252.7 164.8 251.9 164.6 C251.2 164.4 250.0 164.6 249.5 165.1 C249.0 165.6 249.2 167.4 248.8 167.5 C248.4 167.6 247.8 166.1 247.2 165.5 C246.7 164.9 245.7 164.6 245.3 164.0 C244.8 163.3 244.4 162.4 244.5 161.6 C244.6 160.8 245.2 159.9 245.8 159.4 C246.4 159.0 247.5 159.0 248.3 159.2 C249.0 159.3 249.7 160.4 250.4 160.4 C251.2 160.5 252.0 159.9 252.7 159.5 C253.4 159.0 254.0 158.4 254.6 157.9 C255.2 157.3 256.2 156.8 256.4 156.1 C256.5 155.4 255.8 154.1 255.7 153.7" fill="none" stroke="#9c1628" stroke-width="0.9"/><path d="M255.0 49.9 a1.6 1.5 0 1 0 0.1 0 M254.7 57.1 a1.4 1.2 0 1 0 0.1 0 M257.2 53.6 a1.2 1.2 0 1 0 0.1 0 M255.6 47.8 a1.3 1.0 0 1 0 0.1 0 M255.3 50.0 a1.1 1.6 0 1 0 0.1 0 " fill="none" stroke="#4a96d0" stroke-width="0.8"/><circle cx="256.0" cy="43.3" r="7.5" fill="url(#rdot)"/>
<rect x="249.0" y="128.8" width="2" height="8" fill="#6f5f5f"/>
<path d="M280.0 41.2 a1.5 1.9 0 1 0 0.1 0 M273.5 42.2 a1.1 0.9 0 1 0 0.1 0 M282.3 39.9 a1.1 1.6 0 1 0 0.1 0 M279.4 46.4 a1.3 1.7 0 1 0 0.1 0 M275.2 42.3 a1.5 1.6 0 1 0 0.1 0 M278.7 42.8 a1.2 1.7 0 1 0 0.1 0 M281.3 42.1 a1.8 1.7 0 1 0 0.1 0 M276.1 45.7 a1.8 1.4 0 1 0 0.1 0 M271.8 42.4 a1.1 1.4 0 1 0 0.1 0 M271.9 42.1 a1.7 1.2 0 1 0 0.1 0 " fill="none" stroke="#d2914a" stroke-width="0.75"/><path d="M276.5 43.1 C276.3 43.4 275.8 45.1 275.5 45.1 C275.3 45.1 275.2 43.7 275.1 42.9 C275.0 42.2 274.6 41.3 274.9 40.7 C275.2 40.2 276.2 40.0 276.8 39.5 C277.4 39.1 277.8 38.3 278.5 38.2 C279.1 38.0 280.1 38.2 280.6 38.6 C281.1 39.1 281.1 40.1 281.4 40.7 C281.8 41.3 282.2 42.0 282.8 42.4 C283.4 42.8 284.9 42.8 284.9 43.0 C284.9 43.2 283.6 43.6 282.9 43.8 C282.2 44.0 281.4 44.4 280.7 44.3 C280.0 44.2 279.4 43.5 278.8 43.3 C278.1 43.1 277.1 42.9 276.6 43.2 C276.0 43.5 275.8 44.7 275.3 45.0 C274.7 45.2 273.4 45.2 273.1 44.8 C272.8 44.4 273.0 43.1 273.4 42.6 C273.9 42.1 274.9 42.2 275.5 41.9 C276.2 41.6 276.9 41.1 277.3 40.6 C277.7 40.0 277.6 38.6 278.1 38.5 C278.5 38.4 279.5 39.2 279.8 39.8 C280.1 40.4 279.9 41.6 279.9 42.0" fill="none" stroke="#d3944f" stroke-width="0.7"/><path d="M284.5 41.2 a1.2 1.6 0 1 0 0.1 0 M295.1 40.6 a2.0 1.2 0 1 0 0.1 0 M290.2 38.0 a1.4 1.9 0 1 0 0.1 0 M286.8 43.0 a1.9 1.6 0 1 0 0.1 0 M295.2 42.0 a1.5 1.3 0 1 0 0.1 0 M299.7 42.7 a1.3 1.9 0 1 0 0.1 0 M289.5 42.7 a1.4 1.8 0 1 0 0.1 0 M297.8 39.9 a1.2 1.5 0 1 0 0.1 0 M292.1 43.7 a0.9 0.9 0 1 0 0.1 0 M299.4 40.2 a1.2 1.6 0 1 0 0.1 0 M299.7 42.4 a1.6 1.7 0 1 0 0.1 0 " fill="none" stroke="#d2914a" stroke-width="0.75"/><path d="M291.6 42.7 C291.2 42.7 290.1 42.4 289.4 42.5 C288.7 42.5 287.6 43.4 287.3 43.1 C286.9 42.9 287.2 41.6 287.4 40.9 C287.6 40.2 287.9 39.3 288.4 39.0 C289.0 38.7 289.9 39.2 290.6 39.3 C291.4 39.3 292.2 39.0 292.8 39.2 C293.5 39.3 294.0 40.1 294.7 40.3 C295.4 40.5 296.2 40.3 296.9 40.3 C297.6 40.2 298.4 39.7 299.0 39.8 C299.7 40.0 300.4 40.7 300.7 41.3 C300.9 41.9 301.0 43.2 300.7 43.5 C300.3 43.8 299.0 43.6 298.5 43.2 C298.0 42.8 297.9 41.8 297.7 41.1 C297.5 40.4 297.0 39.2 297.2 39.0 C297.5 38.7 298.9 39.2 299.3 39.7 C299.7 40.2 299.3 41.4 299.7 41.9 C300.1 42.4 301.7 42.8 301.7 42.7 C301.8 42.6 300.4 41.9 300.0 41.3 C299.6 40.7 299.8 39.2 299.5 39.1 C299.3 39.1 298.9 40.5 298.5 41.1 C298.1 41.7 297.2 42.4 297.0 42.7" fill="none" stroke="#d3944f" stroke-width="0.7"/><path d="M302.6 48.8 a1.9 1.2 0 1 0 0.1 0 M304.8 54.6 a1.8 1.3 0 1 0 0.1 0 M298.9 51.6 a1.2 1.0 0 1 0 0.1 0 M298.8 53.6 a1.6 1.1 0 1 0 0.1 0 M300.2 46.2 a1.7 1.1 0 1 0 0.1 0 M310.4 52.4 a1.7 1.2 0 1 0 0.1 0 M303.5 46.2 a1.6 1.3 0 1 0 0.1 0 M301.9 47.6 a1.3 1.3 0 1 0 0.1 0 M303.6 45.3 a1.2 1.0 0 1 0 0.1 0 M304.0 56.0 a1.3 0.9 0 1 0 0.1 0 " fill="none" stroke="#d2914a" stroke-width="0.75"/><path d="M306.3 48.8 C306.2 48.5 305.1 47.3 305.3 46.9 C305.4 46.5 306.8 46.4 307.4 46.6 C308.1 46.8 308.8 47.3 309.2 47.9 C309.6 48.5 309.8 49.4 309.7 50.1 C309.5 50.7 309.1 51.6 308.6 52.0 C308.0 52.4 307.1 52.2 306.4 52.5 C305.7 52.7 305.2 53.4 304.5 53.5 C303.8 53.6 303.0 53.2 302.3 53.0 C301.6 52.9 300.5 53.0 300.2 52.6 C299.8 52.1 300.2 51.1 300.3 50.4 C300.5 49.7 300.6 48.8 301.1 48.3 C301.5 47.8 302.6 47.9 303.1 47.5 C303.6 47.0 303.7 45.6 304.1 45.5 C304.5 45.4 305.4 46.4 305.6 47.1 C305.9 47.7 306.0 48.6 305.8 49.3 C305.6 49.9 304.8 50.3 304.3 50.9 C303.9 51.5 303.2 52.1 303.2 52.8 C303.1 53.4 304.2 54.6 304.0 54.8 C303.8 55.0 302.4 54.6 301.9 54.1 C301.4 53.7 301.3 52.8 300.9 52.2 C300.6 51.5 299.8 50.7 299.6 50.4" fill="none" stroke="#d3944f" stroke-width="0.7"/><path d="M306.8 58.4 a1.5 1.8 0 1 0 0.1 0 M308.8 55.5 a1.5 1.0 0 1 0 0.1 0 M312.6 54.8 a1.3 1.5 0 1 0 0.1 0 M307.5 61.6 a1.8 1.3 0 1 0 0.1 0 M306.3 59.0 a1.5 1.6 0 1 0 0.1 0 M308.5 60.7 a1.6 1.9 0 1 0 0.1 0 M308.1 61.1 a1.1 1.2 0 1 0 0.1 0 M312.0 62.5 a1.0 1.2 0 1 0 0.1 0 M305.8 57.8 a1.6 1.0 0 1 0 0.1 0 M307.4 60.0 a1.1 1.0 0 1 0 0.1 0 " fill="none" stroke="#d2914a" stroke-width="0.75"/><path d="M311.1 55.0 C310.7 55.0 309.5 54.8 308.9 55.0 C308.2 55.2 307.1 56.3 307.2 56.4 C307.2 56.4 308.4 55.7 309.1 55.3 C309.8 55.0 310.4 54.4 311.1 54.4 C311.8 54.5 312.5 55.4 313.1 55.4 C313.7 55.4 314.5 54.8 315.0 54.2 C315.4 53.7 315.4 52.1 315.7 52.1 C316.0 52.1 316.3 53.5 316.6 54.1 C317.0 54.7 317.8 55.3 317.9 55.9 C317.9 56.6 317.0 57.2 316.8 57.8 C316.5 58.5 316.8 59.4 316.4 60.0 C316.1 60.6 315.2 60.8 314.6 61.2 C314.0 61.6 313.3 62.5 312.8 62.4 C312.2 62.4 311.7 61.4 311.2 60.9 C310.7 60.3 310.5 59.6 309.9 59.1 C309.4 58.6 308.4 58.4 308.1 57.8 C307.9 57.3 308.2 56.4 308.4 55.6 C308.5 54.9 308.5 54.1 308.9 53.5 C309.3 53.0 310.2 52.8 310.8 52.4 C311.4 52.0 312.4 51.0 312.6 51.1 C312.9 51.3 312.5 53.0 312.5 53.3" fill="none" stroke="#d3944f" stroke-width="0.7"/><path d="M315.9 58.7 a1.9 1.3 0 1 0 0.1 0 M312.0 61.1 a1.8 1.4 0 1 0 0.1 0 M319.0 57.7 a1.2 1.3 0 1 0 0.1 0 M317.8 59.1 a1.3 1.5 0 1 0 0.1 0 M319.4 64.2 a2.0 1.2 0 1 0 0.1 0 M317.8 62.4 a1.2 1.5 0 1 0 0.1 0 M314.9 68.2 a2.0 1.2 0 1 0 0.1 0 M320.6 67.2 a1.8 1.5 0 1 0 0.1 0 M317.7 63.0 a1.7 1.7 0 1 0 0.1 0 M314.6 63.5 a1.2 1.3 0 1 0 0.1 0 " fill="none" stroke="#d2914a" stroke-width="0.75"/><path d="M316.8 63.4 C316.4 63.5 315.0 64.5 314.8 64.4 C314.6 64.2 315.0 62.7 315.5 62.3 C315.9 61.8 317.0 62.0 317.6 61.6 C318.1 61.2 318.2 60.2 318.7 59.7 C319.3 59.3 320.2 58.7 320.8 58.9 C321.3 59.0 321.3 60.4 321.9 60.8 C322.4 61.2 323.8 60.9 324.0 61.3 C324.2 61.7 323.0 62.6 323.0 63.3 C323.0 63.9 324.0 65.0 323.8 65.3 C323.6 65.6 322.2 64.8 321.6 65.0 C321.1 65.2 320.9 66.5 320.4 66.8 C319.8 67.1 318.9 66.8 318.2 66.8 C317.4 66.9 316.6 67.2 316.0 67.0 C315.4 66.7 314.9 65.9 314.6 65.2 C314.3 64.6 314.0 63.8 314.1 63.1 C314.2 62.4 315.0 61.9 315.1 61.2 C315.3 60.5 314.6 59.3 315.0 59.0 C315.3 58.6 316.5 58.8 317.2 59.0 C317.9 59.1 318.7 59.3 319.2 59.8 C319.8 60.2 319.8 61.1 320.2 61.7 C320.7 62.3 321.6 62.9 321.9 63.1" fill="none" stroke="#d3944f" stroke-width="0.7"/><path d="M321.9 83.5 a1.4 1.0 0 1 0 0.1 0 M320.9 81.7 a1.0 1.8 0 1 0 0.1 0 M321.9 73.5 a1.0 1.7 0 1 0 0.1 0 M319.2 84.0 a1.6 1.2 0 1 0 0.1 0 M322.7 72.6 a1.3 1.8 0 1 0 0.1 0 M322.1 81.5 a0.9 1.6 0 1 0 0.1 0 M322.7 81.9 a1.0 1.8 0 1 0 0.1 0 M321.3 86.1 a1.9 1.8 0 1 0 0.1 0 M323.0 86.5 a1.6 1.8 0 1 0 0.1 0 M324.7 76.3 a1.3 1.9 0 1 0 0.1 0 M322.6 81.2 a0.9 1.5 0 1 0 0.1 0 " fill="none" stroke="#d2914a" stroke-width="0.75"/><path d="M321.8 79.3 C321.7 79.7 321.3 80.7 321.2 81.4 C321.1 82.2 320.9 83.6 321.1 83.6 C321.3 83.7 321.9 82.3 322.4 81.8 C322.9 81.3 323.5 80.7 324.1 80.5 C324.8 80.4 325.8 80.5 326.3 80.9 C326.8 81.3 327.1 82.3 327.1 83.0 C327.0 83.6 326.6 84.8 326.1 85.0 C325.6 85.1 324.8 84.4 324.1 84.1 C323.4 83.8 322.6 83.6 322.1 83.1 C321.6 82.7 321.3 81.9 320.9 81.3 C320.5 80.7 319.8 80.0 319.8 79.4 C319.8 78.8 321.0 78.3 321.1 77.6 C321.2 77.0 320.3 76.1 320.5 75.5 C320.6 74.9 321.6 74.5 322.0 73.9 C322.4 73.3 322.3 72.2 322.8 71.9 C323.3 71.6 324.8 71.6 325.0 72.0 C325.3 72.3 324.9 73.6 324.5 74.1 C324.0 74.6 323.1 74.7 322.4 74.8 C321.7 75.0 320.4 75.4 320.2 75.1 C320.0 74.8 320.8 73.5 321.3 73.2 C321.9 72.9 323.2 73.5 323.5 73.5" fill="none" stroke="#d3944f" stroke-width="0.7"/><path d="M314.5 93.5 a1.1 1.7 0 1 0 0.1 0 M312.7 96.0 a1.3 1.4 0 1 0 0.1 0 M310.3 95.1 a1.3 1.2 0 1 0 0.1 0 M314.4 99.0 a1.2 1.1 0 1 0 0.1 0 M316.8 90.9 a1.3 1.5 0 1 0 0.1 0 M313.0 94.7 a1.5 1.9 0 1 0 0.1 0 M315.1 96.5 a1.8 0.9 0 1 0 0.1 0 M310.0 92.0 a1.7 1.8 0 1 0 0.1 0 M316.2 89.5 a1.0 1.6 0 1 0 0.1 0 M310.2 92.5 a1.1 1.4 0 1 0 0.1 0 M309.1 96.4 a1.9 1.2 0 1 0 0.1 0 " fill="none" stroke="#d2914a" stroke-width="0.75"/><path d="M313.6 91.9 C313.7 91.5 314.1 90.5 314.3 89.8 C314.5 89.1 314.3 87.7 314.7 87.6 C315.0 87.5 315.9 88.5 316.2 89.1 C316.5 89.8 316.1 90.7 316.4 91.3 C316.7 92.0 317.7 92.3 318.0 92.9 C318.2 93.5 318.1 94.4 318.0 95.1 C317.9 95.8 317.5 96.5 317.1 97.1 C316.7 97.8 316.3 98.4 315.7 98.8 C315.2 99.3 314.4 99.5 313.7 99.8 C313.0 100.0 311.8 100.6 311.6 100.4 C311.4 100.2 312.0 98.7 312.5 98.4 C313.0 98.0 314.0 98.3 314.6 98.1 C315.3 97.8 316.0 97.4 316.6 97.0 C317.1 96.5 318.2 95.5 318.1 95.4 C318.1 95.4 316.8 96.1 316.2 96.5 C315.6 96.9 314.9 97.2 314.3 97.7 C313.8 98.1 313.2 98.7 312.9 99.3 C312.6 100.0 312.8 101.5 312.6 101.5 C312.5 101.5 312.2 100.1 312.0 99.4 C311.7 98.8 311.0 98.1 311.0 97.5 C311.0 96.8 311.9 95.9 312.1 95.5" fill="none" stroke="#d3944f" stroke-width="0.7"/><path d="M311.3 114.5 a1.4 1.0 0 1 0 0.1 0 M314.9 110.5 a1.9 1.1 0 1 0 0.1 0 M315.6 113.4 a1.1 1.6 0 1 0 0.1 0 M317.3 114.5 a1.0 0.9 0 1 0 0.1 0 M312.8 112.7 a1.7 1.6 0 1 0 0.1 0 M310.1 112.8 a2.0 1.2 0 1 0 0.1 0 M316.4 106.7 a1.1 1.8 0 1 0 0.1 0 M319.0 114.5 a1.9 1.6 0 1 0 0.1 0 M314.2 107.1 a1.4 1.0 0 1 0 0.1 0 M313.1 116.1 a1.8 1.9 0 1 0 0.1 0 M317.8 112.2 a1.9 1.9 0 1 0 0.1 0 " fill="none" stroke="#d2914a" stroke-width="0.75"/><path d="M319.0 113.6 C319.3 113.3 320.5 112.8 320.8 112.2 C321.1 111.6 320.8 110.7 320.8 110.0 C320.7 109.3 320.8 108.0 320.5 107.8 C320.1 107.7 319.4 108.8 318.8 109.3 C318.2 109.7 317.3 110.0 317.0 110.5 C316.6 111.1 316.6 112.1 316.7 112.7 C316.9 113.4 317.4 114.3 317.9 114.5 C318.5 114.8 319.7 114.0 320.1 114.3 C320.6 114.7 320.7 115.9 320.5 116.5 C320.3 117.1 319.5 117.6 318.9 118.1 C318.3 118.5 317.6 119.0 316.9 119.0 C316.3 119.0 315.4 118.7 314.9 118.3 C314.3 117.8 314.0 117.1 313.7 116.4 C313.4 115.7 313.0 115.0 313.1 114.3 C313.1 113.6 313.6 112.9 314.0 112.3 C314.4 111.7 314.9 111.0 315.5 110.7 C316.2 110.4 317.2 111.0 317.7 110.7 C318.3 110.3 318.4 108.7 318.8 108.7 C319.2 108.7 319.9 109.9 320.0 110.6 C320.2 111.2 320.0 112.0 319.9 112.8 C319.8 113.5 319.5 114.6 319.4 114.9" fill="none" stroke="#d3944f" stroke-width="0.7"/><path d="M322.4 67.8 L323.4 71.8 M320.4 85.8 L316.4 88.8 M314.4 100.8 L315.4 105.8" fill="none" stroke="#d3944f" stroke-width="0.7"/><path d="M310.1 151.0 a1.3 3.1 0 1 0 0.1 0 M320.1 143.6 a2.5 2.7 0 1 0 0.1 0 M308.8 148.5 a2.5 3.2 0 1 0 0.1 0 M321.4 143.0 a1.6 1.9 0 1 0 0.1 0 M311.8 152.1 a3.0 2.5 0 1 0 0.1 0 M308.6 145.2 a1.6 1.8 0 1 0 0.1 0 M324.3 146.6 a2.5 2.6 0 1 0 0.1 0 M315.3 148.3 a1.3 1.3 0 1 0 0.1 0 M317.2 153.5 a2.4 1.7 0 1 0 0.1 0 M316.3 147.8 a1.3 1.6 0 1 0 0.1 0 M312.4 149.5 a1.7 2.5 0 1 0 0.1 0 " fill="none" stroke="#b02838" stroke-width="0.75"/><path d="M313.4 140.8 L314.4 146.8" stroke="#a0182a" stroke-width="0.9"/><path d="M314.4 160.5 a2.2 1.4 0 1 0 0.1 0 M308.0 153.9 a2.0 1.0 0 1 0 0.1 0 M311.2 167.0 a1.4 2.0 0 1 0 0.1 0 M313.1 161.0 a1.6 1.7 0 1 0 0.1 0 M319.7 159.4 a1.6 1.5 0 1 0 0.1 0 M312.8 148.4 a1.6 1.5 0 1 0 0.1 0 M313.3 149.2 a1.8 1.9 0 1 0 0.1 0 M307.2 164.9 a1.9 2.3 0 1 0 0.1 0 M310.8 160.3 a2.3 1.9 0 1 0 0.1 0 M314.6 149.6 a2.2 1.5 0 1 0 0.1 0 M317.7 151.9 a1.6 1.3 0 1 0 0.1 0 M316.6 160.5 a1.5 1.5 0 1 0 0.1 0 M304.6 151.1 a1.8 2.0 0 1 0 0.1 0 M320.8 158.3 a1.8 2.2 0 1 0 0.1 0 M307.2 164.3 a1.8 2.2 0 1 0 0.1 0 M302.9 161.5 a2.3 1.8 0 1 0 0.1 0 M303.3 157.7 a1.8 2.5 0 1 0 0.1 0 M318.6 155.0 a2.0 1.2 0 1 0 0.1 0 M319.7 153.3 a1.0 1.0 0 1 0 0.1 0 M317.2 150.5 a1.9 1.6 0 1 0 0.1 0 M311.9 164.7 a2.4 1.9 0 1 0 0.1 0 M317.4 159.0 a1.1 2.3 0 1 0 0.1 0 M318.0 149.9 a1.6 1.5 0 1 0 0.1 0 M317.3 159.7 a1.5 1.6 0 1 0 0.1 0 " fill="none" stroke="#9c1628" stroke-width="1.1"/><path d="M311.7 159.0 C311.3 158.9 310.1 158.5 309.3 158.3 C308.5 158.2 307.5 158.6 306.8 158.3 C306.1 158.0 305.3 157.3 304.9 156.7 C304.5 156.0 304.4 155.0 304.5 154.2 C304.7 153.4 305.3 152.0 305.8 152.0 C306.2 152.0 306.8 153.3 307.3 154.0 C307.9 154.6 308.4 155.2 309.0 155.8 C309.6 156.4 310.5 156.6 311.0 157.3 C311.5 157.9 311.9 158.9 311.8 159.6 C311.8 160.4 310.9 161.0 310.6 161.8 C310.3 162.6 310.4 163.6 310.0 164.2 C309.6 164.9 308.3 165.9 308.0 165.8 C307.7 165.6 308.2 164.1 308.2 163.3 C308.1 162.5 308.2 161.4 307.7 160.8 C307.2 160.3 305.7 160.6 305.3 160.1 C304.9 159.5 305.3 158.4 305.5 157.6 C305.7 156.8 306.0 155.7 306.6 155.3 C307.2 154.9 308.3 155.5 309.1 155.2 C309.9 155.0 310.5 154.2 311.3 154.1 C312.1 153.9 313.0 154.1 313.8 154.2 C314.6 154.3 315.5 154.5 316.2 154.8 C317.0 155.1 317.9 155.4 318.4 156.0 C319.0 156.6 319.3 157.9 319.5 158.3" fill="none" stroke="#9c1628" stroke-width="0.9"/><path d="M315.6 53.9 a1.1 1.5 0 1 0 0.1 0 M317.0 52.8 a1.2 1.8 0 1 0 0.1 0 M316.8 49.8 a1.4 1.7 0 1 0 0.1 0 M316.9 51.0 a1.8 1.7 0 1 0 0.1 0 M318.6 47.9 a1.5 1.3 0 1 0 0.1 0 " fill="none" stroke="#4a96d0" stroke-width="0.8"/><circle cx="319.4" cy="43.3" r="7.5" fill="url(#rdot)"/>
<rect x="312.4" y="128.8" width="2" height="8" fill="#6f5f5f"/>
<path d="M19.7 301.8 L354 301.8 L354 326.3 L14 326.3 L14 308.8 Z" fill="url(#memb)"/>
<rect x="14" y="311.8" width="340" height="5" fill="url(#mband)"/>
<path d="M27.6 225.8 a1.1 1.8 0 1 0 0.1 0 M19.6 226.9 a1.9 1.1 0 1 0 0.1 0 M19.7 227.0 a1.5 1.5 0 1 0 0.1 0 M24.0 222.2 a1.9 1.6 0 1 0 0.1 0 M16.5 229.0 a1.2 1.2 0 1 0 0.1 0 M17.7 225.2 a1.5 1.0 0 1 0 0.1 0 M21.7 227.0 a1.4 1.2 0 1 0 0.1 0 M23.3 224.1 a1.1 1.7 0 1 0 0.1 0 M23.7 230.4 a1.5 1.1 0 1 0 0.1 0 M19.7 221.8 a1.2 1.5 0 1 0 0.1 0 " fill="none" stroke="#d2914a" stroke-width="0.75"/><path d="M22.4 224.2 C22.6 224.0 23.5 222.6 23.9 222.7 C24.3 222.8 24.3 224.1 24.6 224.8 C24.9 225.4 25.4 226.0 25.7 226.7 C26.1 227.3 26.8 228.0 26.8 228.6 C26.7 229.2 26.1 230.1 25.6 230.5 C25.0 230.9 24.0 231.2 23.4 231.0 C22.9 230.8 22.5 229.9 22.1 229.3 C21.6 228.7 21.1 228.1 20.9 227.4 C20.7 226.7 20.6 225.8 20.9 225.2 C21.2 224.6 21.9 224.0 22.6 223.8 C23.2 223.5 24.1 223.5 24.8 223.5 C25.5 223.6 26.3 223.7 26.9 224.1 C27.5 224.5 27.7 225.3 28.2 225.9 C28.6 226.5 29.6 227.1 29.5 227.6 C29.5 228.2 28.5 228.8 27.9 229.2 C27.3 229.6 26.5 230.0 25.9 229.9 C25.2 229.8 24.6 229.1 24.0 228.7 C23.4 228.3 22.9 227.7 22.3 227.4 C21.6 227.1 20.8 227.2 20.1 226.8 C19.5 226.5 18.7 226.1 18.4 225.5 C18.1 224.9 18.4 223.7 18.3 223.3" fill="none" stroke="#d3944f" stroke-width="0.7"/><path d="M42.2 227.9 a1.6 0.9 0 1 0 0.1 0 M37.0 222.1 a1.0 2.0 0 1 0 0.1 0 M39.1 227.6 a1.7 1.4 0 1 0 0.1 0 M32.6 227.4 a1.6 1.9 0 1 0 0.1 0 M42.6 222.8 a1.8 1.4 0 1 0 0.1 0 M30.6 228.1 a1.9 1.2 0 1 0 0.1 0 M38.0 223.2 a1.0 1.4 0 1 0 0.1 0 M41.3 223.7 a1.8 1.8 0 1 0 0.1 0 M37.3 223.4 a1.9 1.0 0 1 0 0.1 0 M33.9 225.3 a1.3 1.9 0 1 0 0.1 0 M39.7 221.9 a1.5 1.5 0 1 0 0.1 0 " fill="none" stroke="#d2914a" stroke-width="0.75"/><path d="M39.0 227.2 C38.6 227.2 37.4 227.4 36.8 227.2 C36.2 226.9 35.8 226.0 35.2 225.6 C34.6 225.2 33.7 225.3 33.1 224.9 C32.6 224.4 31.8 223.3 32.0 223.0 C32.1 222.7 33.5 222.9 34.2 223.2 C34.8 223.4 35.5 223.9 36.0 224.4 C36.4 225.0 36.6 225.8 36.7 226.5 C36.8 227.2 36.7 228.7 36.4 228.7 C36.2 228.7 35.8 227.3 35.4 226.8 C34.9 226.2 34.3 225.7 33.6 225.4 C33.0 225.1 32.2 224.9 31.5 224.9 C30.8 225.0 29.5 225.8 29.5 225.7 C29.4 225.7 30.8 225.2 31.4 224.7 C32.0 224.3 32.3 223.6 32.9 223.1 C33.5 222.6 34.2 221.8 34.7 221.9 C35.3 221.9 35.7 223.3 36.3 223.4 C37.0 223.5 37.7 222.7 38.4 222.7 C39.1 222.7 40.0 222.9 40.5 223.3 C41.0 223.7 41.2 224.6 41.4 225.3 C41.7 226.0 42.2 227.2 42.0 227.4 C41.7 227.7 40.3 226.8 39.9 226.6" fill="none" stroke="#d3944f" stroke-width="0.7"/><path d="M49.7 236.1 a1.5 1.7 0 1 0 0.1 0 M43.7 233.7 a1.4 1.4 0 1 0 0.1 0 M49.5 233.5 a1.6 1.0 0 1 0 0.1 0 M50.0 232.0 a1.8 1.3 0 1 0 0.1 0 M44.5 231.4 a2.0 1.4 0 1 0 0.1 0 M43.7 234.3 a1.2 1.9 0 1 0 0.1 0 M47.2 236.5 a1.1 1.7 0 1 0 0.1 0 M52.3 232.0 a2.0 1.1 0 1 0 0.1 0 M53.3 231.1 a1.1 1.0 0 1 0 0.1 0 M44.4 236.4 a1.4 1.7 0 1 0 0.1 0 " fill="none" stroke="#d2914a" stroke-width="0.75"/><path d="M51.2 236.3 C51.5 236.5 52.4 237.3 53.1 237.4 C53.8 237.5 55.1 236.8 55.2 236.9 C55.3 237.1 54.3 238.3 53.7 238.6 C53.1 238.8 52.1 238.2 51.5 238.5 C50.9 238.8 50.4 240.3 50.1 240.2 C49.9 240.2 50.1 238.7 49.8 238.1 C49.5 237.4 48.9 236.7 48.3 236.5 C47.7 236.3 46.8 237.2 46.1 237.1 C45.5 237.0 44.7 236.6 44.2 236.1 C43.7 235.6 43.0 234.6 43.2 234.1 C43.3 233.7 44.7 233.7 45.2 233.3 C45.7 232.8 45.8 231.9 46.3 231.4 C46.8 230.9 47.5 230.3 48.2 230.2 C48.8 230.2 49.8 230.6 50.2 231.1 C50.6 231.6 50.5 232.6 50.5 233.3 C50.5 234.0 50.1 234.8 50.3 235.5 C50.5 236.1 51.1 236.8 51.7 237.2 C52.3 237.6 53.8 238.0 53.8 237.9 C53.8 237.9 52.5 237.3 51.8 237.0 C51.1 236.8 50.3 236.9 49.6 236.7 C48.9 236.5 47.9 236.0 47.6 235.9" fill="none" stroke="#d3944f" stroke-width="0.7"/><path d="M53.0 243.9 a1.2 1.9 0 1 0 0.1 0 M52.9 243.0 a1.6 1.1 0 1 0 0.1 0 M58.0 243.2 a1.8 1.3 0 1 0 0.1 0 M54.6 243.8 a1.6 1.2 0 1 0 0.1 0 M51.7 239.7 a0.9 1.3 0 1 0 0.1 0 M56.3 238.1 a1.7 1.0 0 1 0 0.1 0 M51.3 240.9 a1.6 0.9 0 1 0 0.1 0 M57.6 243.2 a1.9 1.5 0 1 0 0.1 0 M57.6 237.2 a2.0 1.0 0 1 0 0.1 0 M57.7 238.4 a1.1 1.5 0 1 0 0.1 0 " fill="none" stroke="#d2914a" stroke-width="0.75"/><path d="M55.0 239.4 C54.9 239.0 54.7 237.9 54.9 237.2 C55.0 236.5 55.4 235.3 55.8 235.2 C56.2 235.2 56.8 236.4 57.4 236.8 C58.0 237.2 58.7 237.6 59.4 237.7 C60.1 237.7 61.2 236.9 61.5 237.2 C61.9 237.5 61.8 238.7 61.7 239.4 C61.6 240.1 61.5 241.1 61.1 241.5 C60.6 242.0 59.6 242.2 59.0 242.2 C58.3 242.1 57.6 241.6 57.0 241.2 C56.4 240.8 55.5 240.4 55.3 239.8 C55.1 239.2 55.2 238.1 55.6 237.6 C56.0 237.1 56.9 236.9 57.6 236.6 C58.2 236.3 59.0 235.6 59.6 235.7 C60.2 235.8 61.1 236.5 61.3 237.1 C61.6 237.6 60.8 238.6 61.0 239.2 C61.2 239.8 62.7 240.3 62.6 240.7 C62.6 241.0 61.1 240.9 60.5 241.3 C59.9 241.7 59.7 242.6 59.1 242.9 C58.4 243.3 57.6 243.6 56.9 243.4 C56.2 243.3 55.7 242.3 55.1 242.3 C54.4 242.2 53.3 242.8 53.0 243.0" fill="none" stroke="#d3944f" stroke-width="0.7"/><path d="M59.5 243.1 a1.7 1.1 0 1 0 0.1 0 M62.1 246.0 a0.9 1.4 0 1 0 0.1 0 M60.1 249.8 a1.1 2.0 0 1 0 0.1 0 M58.7 248.8 a1.3 1.9 0 1 0 0.1 0 M64.9 251.6 a1.1 1.9 0 1 0 0.1 0 M58.3 248.6 a1.2 1.8 0 1 0 0.1 0 M62.6 251.8 a1.6 1.9 0 1 0 0.1 0 M67.1 246.2 a1.1 1.8 0 1 0 0.1 0 M65.4 249.8 a1.9 1.1 0 1 0 0.1 0 M66.8 247.9 a1.3 1.6 0 1 0 0.1 0 " fill="none" stroke="#d2914a" stroke-width="0.75"/><path d="M65.5 246.2 C65.8 246.2 67.6 245.8 67.7 246.0 C67.7 246.1 66.6 247.1 66.0 247.4 C65.3 247.7 64.5 247.4 63.8 247.6 C63.1 247.8 62.4 248.5 61.8 248.5 C61.1 248.4 60.0 247.9 59.9 247.4 C59.7 246.9 60.7 246.2 61.1 245.5 C61.4 244.9 61.5 244.1 61.7 243.4 C62.0 242.7 61.9 241.5 62.4 241.3 C62.8 241.2 63.6 242.1 64.3 242.4 C64.9 242.8 65.7 242.9 66.3 243.4 C66.8 243.8 67.6 244.6 67.6 245.1 C67.5 245.6 66.4 246.0 65.8 246.4 C65.2 246.9 64.3 247.1 64.0 247.6 C63.6 248.2 63.5 249.1 63.5 249.8 C63.5 250.5 63.9 252.0 64.0 252.0 C64.0 252.0 64.0 250.3 63.6 249.8 C63.2 249.3 62.3 249.2 61.7 248.8 C61.0 248.4 60.2 248.1 59.8 247.6 C59.5 247.0 59.4 246.1 59.5 245.4 C59.6 244.7 59.9 244.0 60.2 243.3 C60.6 242.7 61.2 241.8 61.5 241.5" fill="none" stroke="#d3944f" stroke-width="0.7"/><path d="M66.5 257.7 a1.0 1.0 0 1 0 0.1 0 M66.7 261.5 a1.2 1.9 0 1 0 0.1 0 M67.3 270.0 a0.9 1.1 0 1 0 0.1 0 M70.4 264.7 a1.5 1.7 0 1 0 0.1 0 M68.8 256.4 a1.0 1.4 0 1 0 0.1 0 M70.9 264.1 a1.3 1.4 0 1 0 0.1 0 M70.2 257.6 a1.6 1.3 0 1 0 0.1 0 M70.0 257.3 a1.1 1.4 0 1 0 0.1 0 M70.6 260.1 a1.9 1.4 0 1 0 0.1 0 M69.4 269.1 a1.1 1.6 0 1 0 0.1 0 M63.8 267.3 a1.3 1.3 0 1 0 0.1 0 " fill="none" stroke="#d2914a" stroke-width="0.75"/><path d="M70.3 261.6 C70.6 261.8 72.0 262.5 72.0 262.9 C72.1 263.4 70.9 263.9 70.4 264.4 C69.9 264.9 69.4 265.7 68.8 265.9 C68.1 266.1 67.3 265.7 66.6 265.6 C65.9 265.5 64.8 265.9 64.4 265.5 C64.0 265.1 64.2 264.0 64.4 263.3 C64.6 262.7 65.2 261.9 65.8 261.6 C66.4 261.2 67.2 261.0 67.9 261.1 C68.6 261.2 69.1 262.2 69.8 262.3 C70.4 262.4 71.9 261.6 71.9 261.7 C71.9 261.7 70.3 261.9 69.8 262.3 C69.3 262.8 69.2 263.7 68.7 264.3 C68.3 264.8 67.8 265.4 67.1 265.8 C66.5 266.1 65.4 266.6 65.0 266.4 C64.7 266.1 65.0 264.9 65.0 264.2 C65.1 263.4 65.6 262.7 65.5 262.0 C65.3 261.4 64.0 260.9 64.0 260.4 C64.0 259.8 64.9 259.0 65.5 258.7 C66.1 258.5 67.0 259.0 67.7 258.9 C68.4 258.8 69.1 257.8 69.6 258.0 C70.1 258.1 70.5 259.6 70.7 259.9" fill="none" stroke="#d3944f" stroke-width="0.7"/><path d="M55.9 281.8 a1.3 1.8 0 1 0 0.1 0 M54.4 283.0 a1.1 1.2 0 1 0 0.1 0 M56.6 281.4 a1.1 1.3 0 1 0 0.1 0 M57.9 272.1 a2.0 1.2 0 1 0 0.1 0 M56.0 281.4 a1.4 1.0 0 1 0 0.1 0 M58.4 273.1 a0.9 1.5 0 1 0 0.1 0 M55.1 279.3 a1.2 1.6 0 1 0 0.1 0 M61.0 277.8 a1.2 0.9 0 1 0 0.1 0 M55.8 281.2 a1.4 1.4 0 1 0 0.1 0 M56.0 280.9 a1.9 1.9 0 1 0 0.1 0 M56.0 270.5 a1.5 1.7 0 1 0 0.1 0 " fill="none" stroke="#d2914a" stroke-width="0.75"/><path d="M56.1 277.9 C55.8 277.6 54.4 276.7 54.5 276.4 C54.6 276.0 55.9 275.9 56.6 275.9 C57.4 275.8 58.1 276.0 58.8 275.9 C59.5 275.8 60.2 275.2 60.9 275.2 C61.6 275.2 62.9 275.5 63.0 275.9 C63.1 276.3 61.7 276.8 61.5 277.5 C61.2 278.1 61.4 278.9 61.4 279.7 C61.3 280.4 61.4 281.2 61.2 281.8 C61.0 282.5 60.6 283.3 60.1 283.8 C59.7 284.3 58.9 285.0 58.3 285.0 C57.7 285.0 57.1 284.3 56.4 283.9 C55.8 283.5 54.9 283.4 54.5 282.8 C54.1 282.3 54.4 281.3 54.2 280.6 C54.0 279.9 53.4 279.3 53.3 278.6 C53.3 277.9 53.4 277.1 53.7 276.4 C53.9 275.8 54.4 275.0 55.0 274.7 C55.6 274.4 56.7 274.9 57.2 274.5 C57.7 274.1 57.9 273.2 58.2 272.5 C58.5 271.9 58.7 270.5 59.0 270.5 C59.3 270.5 59.9 271.7 60.0 272.4 C60.1 273.1 59.7 274.2 59.6 274.6" fill="none" stroke="#d3944f" stroke-width="0.7"/><path d="M60.1 302.4 a2.0 1.5 0 1 0 0.1 0 M60.5 296.4 a1.9 1.3 0 1 0 0.1 0 M64.3 296.7 a1.2 1.7 0 1 0 0.1 0 M61.4 301.7 a1.7 1.1 0 1 0 0.1 0 M64.5 299.4 a1.1 1.7 0 1 0 0.1 0 M57.3 297.5 a1.8 1.3 0 1 0 0.1 0 M58.9 304.2 a2.0 1.3 0 1 0 0.1 0 M61.2 296.4 a1.8 1.5 0 1 0 0.1 0 M60.2 301.7 a1.3 1.6 0 1 0 0.1 0 M56.8 299.2 a1.6 1.3 0 1 0 0.1 0 M62.5 299.6 a1.9 1.2 0 1 0 0.1 0 " fill="none" stroke="#d2914a" stroke-width="0.75"/><path d="M59.4 298.0 C59.3 298.3 59.1 300.0 58.8 300.1 C58.5 300.1 57.6 299.0 57.5 298.3 C57.4 297.7 57.8 296.7 58.2 296.2 C58.7 295.8 59.6 295.7 60.3 295.5 C60.9 295.2 61.7 295.0 62.3 294.5 C62.8 294.1 63.4 293.4 63.6 292.7 C63.7 292.1 63.6 291.1 63.1 290.6 C62.7 290.1 61.1 289.9 61.0 289.9 C61.0 290.0 62.3 290.6 63.0 290.9 C63.7 291.2 65.0 291.4 65.0 291.8 C65.1 292.1 63.8 292.7 63.2 292.9 C62.5 293.2 61.6 293.5 61.0 293.3 C60.4 293.1 59.5 292.4 59.4 291.8 C59.3 291.2 59.9 290.0 60.4 289.9 C61.0 289.7 61.9 290.3 62.5 290.8 C63.0 291.2 63.7 291.7 64.0 292.4 C64.2 293.0 64.0 293.9 63.7 294.5 C63.3 295.2 62.7 295.7 62.0 296.0 C61.4 296.3 60.5 296.2 59.8 296.1 C59.1 296.1 57.7 296.0 57.6 295.8 C57.6 295.5 59.2 294.8 59.5 294.6" fill="none" stroke="#d3944f" stroke-width="0.7"/><path d="M66.8 251.6 L67.8 255.6 M64.8 269.6 L60.8 272.6 M58.8 284.6 L59.8 289.6" fill="none" stroke="#d3944f" stroke-width="0.7"/><path d="M55.4 332.2 a3.1 1.4 0 1 0 0.1 0 M55.2 331.8 a2.3 2.8 0 1 0 0.1 0 M66.3 332.1 a2.1 2.6 0 1 0 0.1 0 M66.6 327.9 a1.4 2.0 0 1 0 0.1 0 M53.5 331.7 a2.9 2.0 0 1 0 0.1 0 M55.3 333.4 a2.3 2.8 0 1 0 0.1 0 M64.9 334.1 a1.9 1.4 0 1 0 0.1 0 M51.3 334.2 a2.5 3.2 0 1 0 0.1 0 M55.0 325.1 a2.7 2.6 0 1 0 0.1 0 M66.3 327.5 a2.7 1.9 0 1 0 0.1 0 M57.4 337.0 a1.3 2.0 0 1 0 0.1 0 " fill="none" stroke="#b02838" stroke-width="0.75"/><path d="M57.8 324.6 L58.8 330.6" stroke="#a0182a" stroke-width="0.9"/><path d="M59.5 337.0 a1.7 1.5 0 1 0 0.1 0 M51.1 334.6 a1.1 1.6 0 1 0 0.1 0 M60.0 336.5 a2.5 1.4 0 1 0 0.1 0 M51.6 341.5 a2.3 1.7 0 1 0 0.1 0 M60.8 334.2 a1.4 2.3 0 1 0 0.1 0 M65.3 345.6 a2.2 1.4 0 1 0 0.1 0 M51.1 338.9 a1.7 2.4 0 1 0 0.1 0 M49.6 343.8 a1.1 1.1 0 1 0 0.1 0 M49.2 342.6 a2.4 1.9 0 1 0 0.1 0 M62.0 336.7 a2.4 1.5 0 1 0 0.1 0 M65.3 343.0 a2.0 1.3 0 1 0 0.1 0 M57.5 348.3 a2.3 2.0 0 1 0 0.1 0 M49.5 344.7 a1.5 1.6 0 1 0 0.1 0 M60.8 349.2 a1.0 1.8 0 1 0 0.1 0 M59.5 343.6 a2.1 2.3 0 1 0 0.1 0 M46.0 341.0 a2.1 1.8 0 1 0 0.1 0 M56.4 341.0 a1.1 2.1 0 1 0 0.1 0 M49.6 348.6 a1.4 1.4 0 1 0 0.1 0 M58.9 351.0 a1.8 1.4 0 1 0 0.1 0 M64.6 344.6 a1.0 2.3 0 1 0 0.1 0 M61.0 348.9 a2.3 1.4 0 1 0 0.1 0 M49.1 337.4 a1.7 1.6 0 1 0 0.1 0 M60.4 338.2 a1.8 1.0 0 1 0 0.1 0 M47.3 337.5 a1.6 2.1 0 1 0 0.1 0 " fill="none" stroke="#9c1628" stroke-width="1.1"/><path d="M57.8 344.0 C57.8 344.5 58.1 345.8 57.8 346.5 C57.5 347.2 56.5 347.6 56.0 348.3 C55.5 348.9 55.4 350.5 55.0 350.5 C54.5 350.6 53.7 349.4 53.2 348.8 C52.7 348.1 52.4 347.3 51.9 346.6 C51.4 345.9 51.1 345.1 50.5 344.6 C49.9 344.1 48.4 343.9 48.3 343.4 C48.1 342.8 49.4 342.0 49.6 341.3 C49.8 340.5 49.5 339.6 49.7 338.8 C49.8 338.0 49.9 336.9 50.4 336.4 C50.9 335.8 52.0 335.9 52.7 335.5 C53.5 335.1 54.1 334.6 54.8 334.1 C55.5 333.6 56.0 332.9 56.7 332.5 C57.5 332.2 58.4 332.2 59.2 332.3 C60.0 332.3 61.1 332.5 61.6 333.0 C62.1 333.5 61.9 334.8 62.4 335.4 C62.9 336.0 64.0 336.0 64.6 336.5 C65.2 337.0 66.1 337.7 66.2 338.5 C66.3 339.2 65.7 340.0 65.4 340.8 C65.1 341.6 64.9 342.6 64.3 343.1 C63.8 343.6 62.6 343.3 61.9 343.8 C61.3 344.2 61.1 345.3 60.5 345.8 C59.9 346.3 58.6 346.5 58.2 346.7" fill="none" stroke="#9c1628" stroke-width="0.9"/><path d="M64.1 239.0 a1.1 1.0 0 1 0 0.1 0 M62.9 233.3 a1.3 1.6 0 1 0 0.1 0 M62.9 243.1 a1.1 1.8 0 1 0 0.1 0 M63.9 233.8 a1.7 1.7 0 1 0 0.1 0 M64.4 236.0 a1.3 1.2 0 1 0 0.1 0 " fill="none" stroke="#4a96d0" stroke-width="0.8"/><circle cx="63.8" cy="227.1" r="7.5" fill="url(#rdot)"/>
<rect x="56.8" y="312.6" width="2" height="8" fill="#6f5f5f"/>
<path d="M80.6 227.6 a1.8 1.3 0 1 0 0.1 0 M82.5 225.5 a1.4 1.0 0 1 0 0.1 0 M80.5 225.4 a1.6 1.9 0 1 0 0.1 0 M81.7 226.0 a1.9 1.3 0 1 0 0.1 0 M87.2 229.5 a1.7 1.2 0 1 0 0.1 0 M85.9 227.7 a1.5 1.3 0 1 0 0.1 0 M86.4 224.5 a1.6 1.1 0 1 0 0.1 0 M86.3 227.9 a1.6 1.7 0 1 0 0.1 0 M79.7 228.1 a1.8 1.9 0 1 0 0.1 0 M83.0 223.8 a1.4 1.8 0 1 0 0.1 0 " fill="none" stroke="#d2914a" stroke-width="0.75"/><path d="M87.8 228.5 C87.6 228.7 86.8 229.8 86.2 230.0 C85.6 230.2 84.7 229.8 84.1 229.5 C83.4 229.3 82.6 229.0 82.2 228.4 C81.7 227.9 81.5 227.0 81.5 226.3 C81.5 225.6 82.0 224.9 82.4 224.3 C82.7 223.6 83.0 222.9 83.6 222.5 C84.1 222.1 85.0 222.0 85.7 221.9 C86.4 221.9 87.3 221.9 87.9 222.2 C88.4 222.6 88.8 223.4 89.0 224.1 C89.2 224.8 88.6 225.8 88.9 226.3 C89.2 226.9 90.2 227.1 90.8 227.6 C91.3 228.0 92.4 228.6 92.3 229.1 C92.3 229.6 91.2 230.4 90.6 230.4 C90.0 230.4 89.5 229.4 88.9 229.0 C88.3 228.6 87.5 228.5 86.8 228.3 C86.1 228.0 85.2 228.0 84.7 227.6 C84.3 227.1 84.4 226.1 84.0 225.5 C83.6 224.9 82.3 224.5 82.3 224.1 C82.3 223.6 83.3 222.9 84.0 222.6 C84.6 222.3 85.5 222.1 86.1 222.3 C86.8 222.4 87.7 223.3 88.0 223.5" fill="none" stroke="#d3944f" stroke-width="0.7"/><path d="M102.2 228.7 a1.0 1.4 0 1 0 0.1 0 M99.9 221.8 a1.3 1.6 0 1 0 0.1 0 M99.7 224.5 a1.7 1.8 0 1 0 0.1 0 M103.9 226.9 a1.4 1.9 0 1 0 0.1 0 M104.4 224.9 a1.3 1.0 0 1 0 0.1 0 M104.0 225.9 a1.9 1.9 0 1 0 0.1 0 M102.6 228.1 a1.6 1.4 0 1 0 0.1 0 M102.3 224.4 a1.2 1.0 0 1 0 0.1 0 M107.4 223.5 a1.4 1.0 0 1 0 0.1 0 M104.9 222.7 a1.9 1.9 0 1 0 0.1 0 M97.0 223.1 a1.8 1.1 0 1 0 0.1 0 " fill="none" stroke="#d2914a" stroke-width="0.75"/><path d="M102.3 223.1 C102.6 223.2 103.7 223.4 104.4 223.5 C105.1 223.7 106.0 223.9 106.5 224.3 C107.0 224.7 107.8 225.7 107.6 226.2 C107.5 226.7 106.4 227.1 105.7 227.3 C105.0 227.5 104.2 227.1 103.5 227.4 C102.8 227.6 102.3 228.7 101.7 228.7 C101.1 228.7 100.4 227.9 99.9 227.4 C99.4 226.9 98.9 226.3 98.7 225.6 C98.4 225.0 98.1 224.1 98.3 223.4 C98.6 222.8 99.3 222.2 100.0 222.0 C100.6 221.7 101.6 221.8 102.2 222.1 C102.8 222.4 103.3 223.2 103.6 223.8 C103.8 224.5 103.5 225.3 103.5 226.0 C103.5 226.7 104.0 227.8 103.6 228.2 C103.3 228.6 102.2 228.6 101.5 228.6 C100.8 228.6 99.9 228.5 99.3 228.1 C98.8 227.8 98.3 227.0 98.1 226.3 C97.8 225.7 97.6 224.5 97.9 224.1 C98.3 223.8 99.5 224.6 100.1 224.3 C100.7 224.1 101.0 223.0 101.6 222.7 C102.2 222.4 103.4 222.7 103.8 222.7" fill="none" stroke="#d3944f" stroke-width="0.7"/><path d="M107.2 233.4 a1.2 1.4 0 1 0 0.1 0 M110.0 237.0 a1.0 1.7 0 1 0 0.1 0 M117.3 235.3 a1.1 1.4 0 1 0 0.1 0 M110.4 229.5 a1.9 1.6 0 1 0 0.1 0 M112.8 235.2 a1.1 1.9 0 1 0 0.1 0 M109.6 237.1 a1.3 1.3 0 1 0 0.1 0 M113.9 237.6 a1.4 1.4 0 1 0 0.1 0 M115.2 235.3 a0.9 1.4 0 1 0 0.1 0 M108.7 230.1 a1.3 1.6 0 1 0 0.1 0 M113.6 230.3 a1.5 1.1 0 1 0 0.1 0 " fill="none" stroke="#d2914a" stroke-width="0.75"/><path d="M114.2 232.4 C114.0 232.1 113.2 230.9 113.4 230.4 C113.6 229.8 114.9 229.2 115.3 229.4 C115.7 229.5 115.6 230.8 115.8 231.5 C116.1 232.2 116.3 232.9 116.8 233.5 C117.3 234.0 118.4 234.0 118.7 234.6 C119.0 235.2 118.9 236.1 118.7 236.8 C118.5 237.5 118.2 238.2 117.8 238.8 C117.3 239.3 116.7 239.8 116.0 240.1 C115.3 240.4 114.5 240.7 113.8 240.5 C113.2 240.3 112.6 239.6 112.2 239.0 C111.8 238.4 111.6 237.6 111.5 236.9 C111.4 236.2 111.3 235.2 111.7 234.7 C112.1 234.2 113.0 233.9 113.7 233.7 C114.4 233.5 115.3 233.9 115.9 233.6 C116.5 233.3 116.8 232.5 117.3 232.0 C117.8 231.4 118.3 230.1 118.6 230.2 C118.9 230.3 119.0 231.6 119.0 232.4 C119.1 233.1 119.1 233.9 118.8 234.6 C118.6 235.2 117.9 235.8 117.7 236.4 C117.5 237.1 118.0 238.3 117.6 238.6 C117.2 239.0 115.8 238.7 115.4 238.7" fill="none" stroke="#d3944f" stroke-width="0.7"/><path d="M117.1 237.0 a2.0 1.4 0 1 0 0.1 0 M120.9 241.0 a1.7 1.0 0 1 0 0.1 0 M120.1 236.4 a1.3 1.3 0 1 0 0.1 0 M122.1 236.9 a1.4 1.4 0 1 0 0.1 0 M115.8 238.7 a1.7 1.3 0 1 0 0.1 0 M119.2 242.6 a1.4 1.1 0 1 0 0.1 0 M120.5 243.0 a1.3 1.9 0 1 0 0.1 0 M116.4 240.4 a1.4 1.4 0 1 0 0.1 0 M124.7 242.3 a1.5 2.0 0 1 0 0.1 0 M117.0 238.4 a2.0 1.0 0 1 0 0.1 0 " fill="none" stroke="#d2914a" stroke-width="0.75"/><path d="M123.1 241.2 C123.4 241.0 124.6 240.6 125.1 240.1 C125.5 239.6 125.7 238.0 125.6 238.0 C125.6 238.0 124.7 239.3 124.7 240.0 C124.7 240.7 125.4 241.4 125.5 242.1 C125.5 242.8 125.4 243.7 124.9 244.2 C124.5 244.7 123.7 245.0 123.0 245.1 C122.3 245.3 121.3 245.4 120.8 245.0 C120.2 244.7 120.3 243.5 119.8 243.0 C119.3 242.6 118.5 242.4 117.8 242.1 C117.2 241.8 115.8 241.6 115.8 241.3 C115.8 240.9 117.3 240.6 117.6 240.0 C117.9 239.4 117.4 238.5 117.6 237.8 C117.7 237.1 117.8 236.1 118.3 235.7 C118.8 235.4 119.8 235.5 120.5 235.6 C121.2 235.7 121.9 236.1 122.5 236.5 C123.1 236.9 123.5 237.6 124.0 238.1 C124.6 238.5 125.4 238.7 125.9 239.3 C126.3 239.8 126.7 240.8 126.5 241.4 C126.3 241.9 125.1 242.0 124.7 242.6 C124.2 243.1 124.4 244.2 124.0 244.6 C123.5 245.1 122.2 245.0 121.8 245.1" fill="none" stroke="#d3944f" stroke-width="0.7"/><path d="M127.4 244.8 a1.6 1.0 0 1 0 0.1 0 M130.2 248.5 a1.5 1.4 0 1 0 0.1 0 M122.8 248.2 a1.3 1.2 0 1 0 0.1 0 M127.3 246.0 a1.5 1.1 0 1 0 0.1 0 M125.7 247.5 a1.1 1.6 0 1 0 0.1 0 M129.4 247.4 a1.6 1.5 0 1 0 0.1 0 M129.1 248.9 a1.3 1.8 0 1 0 0.1 0 M128.5 243.1 a1.8 1.4 0 1 0 0.1 0 M130.2 245.9 a1.9 1.1 0 1 0 0.1 0 M124.3 242.0 a1.7 1.9 0 1 0 0.1 0 " fill="none" stroke="#d2914a" stroke-width="0.75"/><path d="M129.3 247.8 C129.6 248.1 130.8 248.7 131.0 249.3 C131.1 249.9 130.6 250.9 130.1 251.3 C129.6 251.7 128.4 252.1 128.0 251.9 C127.5 251.6 127.6 250.4 127.6 249.7 C127.6 249.0 127.5 248.1 127.8 247.5 C128.2 246.9 129.0 246.7 129.7 246.3 C130.3 246.0 131.5 245.2 131.7 245.3 C131.8 245.5 130.8 246.7 130.8 247.4 C130.9 248.1 132.0 249.1 131.8 249.4 C131.6 249.6 130.2 249.4 129.6 249.1 C129.1 248.7 128.9 247.7 128.3 247.3 C127.8 246.9 126.7 247.1 126.2 246.6 C125.8 246.2 125.5 245.2 125.5 244.5 C125.6 243.9 126.0 243.1 126.4 242.5 C126.8 241.9 127.4 240.8 127.8 240.9 C128.3 240.9 128.4 242.3 129.0 242.7 C129.5 243.1 130.8 242.8 131.1 243.2 C131.5 243.6 130.8 244.7 130.9 245.4 C131.0 246.1 131.8 247.1 131.5 247.5 C131.3 247.9 130.1 247.9 129.3 247.8 C128.6 247.7 127.6 247.2 127.3 247.1" fill="none" stroke="#d3944f" stroke-width="0.7"/><path d="M129.2 265.9 a1.5 1.5 0 1 0 0.1 0 M130.8 256.3 a1.1 1.9 0 1 0 0.1 0 M132.4 257.2 a1.1 1.4 0 1 0 0.1 0 M132.8 259.4 a1.3 1.7 0 1 0 0.1 0 M130.9 255.3 a1.3 1.7 0 1 0 0.1 0 M131.0 264.4 a1.7 1.2 0 1 0 0.1 0 M133.1 259.4 a1.3 1.8 0 1 0 0.1 0 M135.6 264.0 a1.3 0.9 0 1 0 0.1 0 M130.5 265.0 a1.2 1.5 0 1 0 0.1 0 M128.7 261.3 a2.0 1.1 0 1 0 0.1 0 M133.4 265.2 a0.9 1.9 0 1 0 0.1 0 " fill="none" stroke="#d2914a" stroke-width="0.75"/><path d="M134.7 262.4 C135.1 262.5 136.7 262.4 136.9 262.8 C137.0 263.2 135.7 263.9 135.5 264.6 C135.3 265.2 135.8 266.1 135.7 266.8 C135.5 267.5 135.2 268.3 134.7 268.8 C134.3 269.3 133.2 270.0 132.8 269.8 C132.4 269.6 132.5 268.3 132.4 267.6 C132.4 266.9 132.5 266.1 132.6 265.4 C132.7 264.7 133.1 264.0 133.1 263.3 C133.1 262.5 132.8 261.8 132.6 261.1 C132.4 260.4 132.3 259.6 132.0 259.0 C131.6 258.4 130.3 257.7 130.4 257.5 C130.4 257.3 131.9 257.6 132.5 257.9 C133.1 258.3 133.3 259.2 133.8 259.7 C134.3 260.3 135.0 260.6 135.4 261.2 C135.8 261.8 136.3 262.7 136.1 263.3 C136.0 263.9 135.0 264.6 134.4 264.7 C133.8 264.8 133.0 263.9 132.3 264.0 C131.6 264.0 130.7 264.3 130.3 264.8 C129.8 265.3 129.9 266.9 129.7 266.9 C129.5 266.9 129.0 265.5 129.0 264.8 C129.0 264.1 129.6 263.1 129.7 262.7" fill="none" stroke="#d3944f" stroke-width="0.7"/><path d="M124.1 272.2 a1.0 1.2 0 1 0 0.1 0 M117.6 283.1 a1.7 1.1 0 1 0 0.1 0 M123.5 283.2 a1.9 0.9 0 1 0 0.1 0 M120.3 280.1 a1.4 0.9 0 1 0 0.1 0 M120.0 279.9 a1.0 2.0 0 1 0 0.1 0 M123.6 283.9 a1.7 1.3 0 1 0 0.1 0 M119.1 281.2 a1.2 1.5 0 1 0 0.1 0 M123.6 282.3 a1.4 1.1 0 1 0 0.1 0 M123.5 276.7 a1.6 1.7 0 1 0 0.1 0 M120.8 272.0 a1.4 1.4 0 1 0 0.1 0 M120.9 275.9 a1.5 1.8 0 1 0 0.1 0 " fill="none" stroke="#d2914a" stroke-width="0.75"/><path d="M120.4 278.6 C120.1 278.5 118.5 278.8 118.2 278.4 C118.0 278.0 118.7 277.0 119.0 276.3 C119.3 275.7 119.7 274.9 120.2 274.5 C120.8 274.1 121.6 274.0 122.3 273.9 C123.1 273.7 124.0 273.5 124.5 273.8 C125.0 274.1 124.9 275.2 125.3 275.9 C125.6 276.5 126.7 277.0 126.7 277.5 C126.7 278.1 126.0 278.9 125.5 279.4 C125.0 279.9 124.3 280.2 123.6 280.6 C123.0 281.0 122.3 281.6 121.7 281.6 C121.0 281.6 120.3 281.1 119.7 280.7 C119.1 280.3 118.3 279.8 118.1 279.1 C117.9 278.5 118.2 277.6 118.4 277.0 C118.6 276.3 119.3 275.8 119.5 275.1 C119.8 274.4 119.5 273.5 119.8 272.9 C120.1 272.3 120.7 271.6 121.3 271.3 C121.9 271.0 122.9 270.9 123.5 271.1 C124.1 271.3 124.6 272.1 125.0 272.7 C125.5 273.2 126.1 273.8 126.3 274.5 C126.4 275.2 126.2 276.2 125.8 276.7 C125.4 277.2 124.1 277.3 123.8 277.5" fill="none" stroke="#d3944f" stroke-width="0.7"/><path d="M123.1 302.7 a2.0 1.7 0 1 0 0.1 0 M123.4 302.1 a1.9 1.9 0 1 0 0.1 0 M120.7 297.5 a1.0 1.3 0 1 0 0.1 0 M124.7 295.4 a1.1 1.5 0 1 0 0.1 0 M125.9 297.2 a1.7 1.1 0 1 0 0.1 0 M119.2 297.0 a1.5 1.7 0 1 0 0.1 0 M127.3 299.1 a1.5 1.4 0 1 0 0.1 0 M122.6 297.1 a1.6 1.3 0 1 0 0.1 0 M122.9 293.1 a1.9 1.4 0 1 0 0.1 0 M126.1 292.0 a1.2 1.4 0 1 0 0.1 0 M123.5 302.4 a1.3 1.2 0 1 0 0.1 0 " fill="none" stroke="#d2914a" stroke-width="0.75"/><path d="M126.7 298.7 C126.8 299.0 127.4 300.0 127.8 300.6 C128.1 301.3 128.8 302.4 128.6 302.7 C128.4 302.9 127.2 302.2 126.5 302.0 C125.8 301.9 125.0 301.9 124.3 301.8 C123.6 301.8 122.4 302.0 122.1 301.6 C121.8 301.2 122.4 300.2 122.5 299.4 C122.5 298.7 122.7 297.8 122.4 297.2 C122.1 296.7 120.5 296.2 120.6 296.0 C120.6 295.7 122.2 296.1 122.8 295.7 C123.3 295.4 123.7 294.6 124.1 294.0 C124.4 293.3 124.2 292.3 124.7 291.8 C125.2 291.4 126.2 291.3 126.8 291.3 C127.5 291.4 128.3 291.8 128.8 292.3 C129.3 292.8 129.6 293.6 129.8 294.3 C129.9 295.0 129.7 295.7 129.7 296.5 C129.8 297.2 130.3 298.2 130.0 298.6 C129.7 299.1 128.6 299.0 128.0 299.4 C127.4 299.8 126.7 300.5 126.6 301.1 C126.5 301.8 127.5 303.0 127.2 303.3 C127.0 303.5 125.9 302.5 125.2 302.4 C124.5 302.2 123.4 302.4 123.0 302.5" fill="none" stroke="#d3944f" stroke-width="0.7"/><path d="M131.0 251.6 L132.0 255.6 M129.0 269.6 L125.0 272.6 M123.0 284.6 L124.0 289.6" fill="none" stroke="#d3944f" stroke-width="0.7"/><path d="M113.6 330.2 a1.8 2.7 0 1 0 0.1 0 M122.9 324.9 a2.7 2.5 0 1 0 0.1 0 M117.6 328.0 a3.0 1.7 0 1 0 0.1 0 M120.2 332.9 a2.3 3.0 0 1 0 0.1 0 M121.2 330.5 a3.0 1.4 0 1 0 0.1 0 M126.3 335.3 a1.3 2.8 0 1 0 0.1 0 M118.3 325.2 a2.5 2.1 0 1 0 0.1 0 M123.3 334.7 a2.5 2.9 0 1 0 0.1 0 M125.5 335.4 a2.5 1.7 0 1 0 0.1 0 M121.6 327.8 a2.0 1.7 0 1 0 0.1 0 M125.2 330.7 a1.9 2.5 0 1 0 0.1 0 " fill="none" stroke="#b02838" stroke-width="0.75"/><path d="M122.0 324.6 L123.0 330.6" stroke="#a0182a" stroke-width="0.9"/><path d="M115.8 341.4 a1.8 1.7 0 1 0 0.1 0 M114.5 339.7 a1.2 2.0 0 1 0 0.1 0 M116.5 349.5 a1.5 2.3 0 1 0 0.1 0 M120.2 349.6 a2.5 1.4 0 1 0 0.1 0 M124.1 334.6 a1.0 1.9 0 1 0 0.1 0 M118.3 343.5 a2.2 2.0 0 1 0 0.1 0 M124.5 340.2 a1.5 1.9 0 1 0 0.1 0 M118.9 344.5 a1.6 1.6 0 1 0 0.1 0 M113.9 341.9 a1.6 1.8 0 1 0 0.1 0 M118.7 337.0 a1.7 2.3 0 1 0 0.1 0 M121.8 332.9 a2.4 1.7 0 1 0 0.1 0 M125.8 334.0 a1.5 2.1 0 1 0 0.1 0 M113.4 342.3 a1.2 2.1 0 1 0 0.1 0 M117.3 347.3 a1.8 2.1 0 1 0 0.1 0 M130.2 340.2 a2.0 1.4 0 1 0 0.1 0 M113.0 339.5 a1.5 2.4 0 1 0 0.1 0 M117.2 348.3 a2.5 1.3 0 1 0 0.1 0 M111.2 346.1 a2.4 1.7 0 1 0 0.1 0 M118.9 334.4 a1.1 2.4 0 1 0 0.1 0 M128.3 334.9 a1.3 1.8 0 1 0 0.1 0 M124.3 333.2 a2.3 1.1 0 1 0 0.1 0 M118.7 336.3 a1.2 1.8 0 1 0 0.1 0 M125.9 344.2 a1.6 1.6 0 1 0 0.1 0 M117.5 347.8 a1.8 1.2 0 1 0 0.1 0 " fill="none" stroke="#9c1628" stroke-width="1.1"/><path d="M123.7 343.8 C124.1 343.8 125.3 343.9 126.2 343.9 C127.0 343.9 128.0 343.7 128.6 344.1 C129.3 344.5 130.1 345.5 130.1 346.2 C130.1 346.9 129.3 347.9 128.6 348.2 C127.9 348.5 126.8 348.2 126.1 347.9 C125.4 347.6 124.9 346.8 124.3 346.2 C123.6 345.7 122.9 345.3 122.2 344.8 C121.5 344.3 120.5 344.1 120.1 343.4 C119.8 342.8 120.4 341.6 120.0 340.9 C119.6 340.3 118.6 340.0 117.9 339.6 C117.2 339.1 116.5 338.7 115.7 338.5 C114.9 338.3 113.2 338.5 113.2 338.5 C113.2 338.4 114.9 338.5 115.6 338.2 C116.4 337.9 117.0 336.9 117.8 336.9 C118.5 336.8 119.6 337.3 120.1 337.8 C120.6 338.4 120.7 339.5 120.6 340.3 C120.5 341.1 120.0 341.9 119.5 342.6 C119.1 343.3 118.7 344.1 118.0 344.5 C117.4 345.0 116.1 344.7 115.6 345.2 C115.1 345.7 114.9 347.6 114.8 347.6 C114.7 347.5 114.7 345.9 114.9 345.1 C115.0 344.3 115.7 343.6 115.9 342.8 C116.1 342.0 116.2 340.7 116.3 340.3" fill="none" stroke="#9c1628" stroke-width="0.9"/><path d="M127.9 235.8 a1.2 1.4 0 1 0 0.1 0 M127.4 238.8 a1.5 1.2 0 1 0 0.1 0 M128.4 241.1 a1.7 1.5 0 1 0 0.1 0 M125.3 234.7 a1.7 1.6 0 1 0 0.1 0 M127.9 232.6 a1.2 1.4 0 1 0 0.1 0 " fill="none" stroke="#4a96d0" stroke-width="0.8"/>
<rect x="121.0" y="312.6" width="2" height="8" fill="#6f5f5f"/>
<path d="M145.3 228.8 a1.1 1.1 0 1 0 0.1 0 M146.9 225.8 a1.1 1.5 0 1 0 0.1 0 M142.6 227.8 a2.0 1.5 0 1 0 0.1 0 M146.1 223.9 a1.6 1.3 0 1 0 0.1 0 M152.6 223.9 a1.2 1.4 0 1 0 0.1 0 M149.1 225.7 a2.0 1.7 0 1 0 0.1 0 M145.6 226.3 a1.2 1.3 0 1 0 0.1 0 M148.1 222.6 a1.4 1.3 0 1 0 0.1 0 M146.8 227.2 a1.3 1.7 0 1 0 0.1 0 M156.0 226.9 a0.9 1.4 0 1 0 0.1 0 " fill="none" stroke="#d2914a" stroke-width="0.75"/><path d="M149.6 228.4 C149.7 228.8 150.1 230.6 150.0 230.6 C150.0 230.6 149.2 229.2 149.3 228.5 C149.4 227.9 149.9 227.0 150.5 226.7 C151.0 226.3 151.9 226.3 152.6 226.3 C153.4 226.3 154.1 226.9 154.8 226.8 C155.4 226.8 156.7 225.8 156.7 225.7 C156.6 225.6 155.2 226.0 154.5 226.2 C153.8 226.4 153.1 226.9 152.4 226.9 C151.7 226.9 151.0 226.3 150.3 226.2 C149.6 226.2 148.7 226.1 148.1 226.5 C147.6 226.8 147.3 227.8 147.2 228.5 C147.2 229.2 148.2 230.4 147.9 230.6 C147.7 230.8 146.5 230.1 145.9 229.7 C145.3 229.3 144.5 228.9 144.2 228.3 C144.0 227.7 144.1 226.7 144.4 226.1 C144.7 225.5 145.5 225.1 146.0 224.5 C146.5 224.0 146.7 223.2 147.3 222.8 C147.9 222.4 148.7 222.3 149.4 222.3 C150.1 222.4 150.8 222.9 151.5 223.1 C152.2 223.2 153.1 223.1 153.7 223.4 C154.3 223.8 155.0 224.7 155.2 225.0" fill="none" stroke="#d3944f" stroke-width="0.7"/><path d="M159.3 222.4 a1.4 1.9 0 1 0 0.1 0 M165.9 227.2 a1.4 1.1 0 1 0 0.1 0 M170.7 225.1 a0.9 1.6 0 1 0 0.1 0 M166.6 227.1 a1.8 1.3 0 1 0 0.1 0 M163.1 228.7 a1.2 1.9 0 1 0 0.1 0 M165.5 225.5 a2.0 1.6 0 1 0 0.1 0 M156.4 224.2 a1.2 1.9 0 1 0 0.1 0 M162.2 228.7 a1.4 1.9 0 1 0 0.1 0 M172.0 224.5 a1.1 1.4 0 1 0 0.1 0 M169.2 224.0 a1.1 1.4 0 1 0 0.1 0 M165.3 226.1 a1.5 0.9 0 1 0 0.1 0 " fill="none" stroke="#d2914a" stroke-width="0.75"/><path d="M164.0 227.2 C163.7 227.3 162.6 228.0 161.9 227.9 C161.3 227.8 160.7 227.0 160.2 226.5 C159.8 226.0 159.6 225.1 159.0 224.7 C158.5 224.3 156.9 224.4 156.9 224.1 C156.9 223.8 158.1 223.1 158.8 223.0 C159.5 222.8 160.5 222.9 161.0 223.3 C161.5 223.7 162.0 224.6 161.9 225.3 C161.9 225.9 161.3 227.0 160.8 227.1 C160.3 227.3 159.6 226.3 159.0 226.0 C158.3 225.6 156.9 225.4 156.9 225.1 C156.9 224.8 158.3 224.4 159.0 224.3 C159.7 224.1 160.6 224.6 161.2 224.3 C161.7 223.9 161.7 222.6 162.2 222.3 C162.7 222.0 163.7 222.2 164.4 222.5 C165.1 222.7 165.9 223.2 166.2 223.8 C166.5 224.3 166.3 225.2 166.2 226.0 C166.0 226.7 165.6 228.0 165.4 228.0 C165.1 228.0 164.7 226.5 164.8 225.9 C164.9 225.2 165.8 224.8 166.1 224.1 C166.3 223.5 166.0 222.2 166.4 221.9 C166.8 221.7 168.2 222.3 168.6 222.4" fill="none" stroke="#d3944f" stroke-width="0.7"/><path d="M171.8 234.1 a0.9 1.3 0 1 0 0.1 0 M181.9 235.6 a1.8 1.0 0 1 0 0.1 0 M171.4 230.2 a1.6 1.6 0 1 0 0.1 0 M171.6 235.0 a1.3 1.0 0 1 0 0.1 0 M174.7 237.2 a1.4 1.3 0 1 0 0.1 0 M173.6 240.2 a1.2 1.3 0 1 0 0.1 0 M178.1 231.3 a1.0 1.5 0 1 0 0.1 0 M172.5 239.1 a1.3 1.3 0 1 0 0.1 0 M170.6 234.3 a1.0 1.0 0 1 0 0.1 0 M175.6 231.6 a1.9 1.8 0 1 0 0.1 0 " fill="none" stroke="#d2914a" stroke-width="0.75"/><path d="M175.6 236.1 C175.4 236.4 174.7 237.5 174.9 238.1 C175.0 238.8 176.3 239.8 176.4 239.8 C176.4 239.7 175.6 238.5 175.1 238.0 C174.6 237.4 173.6 237.2 173.3 236.6 C173.0 236.1 173.0 235.1 173.3 234.4 C173.5 233.8 174.2 233.3 174.8 232.9 C175.4 232.5 176.2 232.4 176.9 232.1 C177.6 231.9 178.3 231.3 179.0 231.4 C179.6 231.4 180.2 232.2 180.8 232.6 C181.4 233.0 182.2 233.2 182.6 233.8 C183.0 234.4 183.5 235.5 183.2 235.9 C182.9 236.4 181.7 236.5 181.1 236.4 C180.4 236.3 179.8 235.7 179.2 235.2 C178.6 234.8 178.1 234.2 177.6 233.7 C177.2 233.1 176.4 232.6 176.3 231.9 C176.2 231.3 176.6 230.4 177.1 229.9 C177.6 229.5 178.8 229.0 179.2 229.2 C179.6 229.5 179.4 230.8 179.7 231.4 C180.1 232.0 181.1 232.2 181.4 232.8 C181.6 233.4 181.5 234.3 181.4 235.0 C181.2 235.7 180.6 236.7 180.4 237.0" fill="none" stroke="#d3944f" stroke-width="0.7"/><path d="M185.5 238.5 a2.0 1.0 0 1 0 0.1 0 M181.0 246.3 a1.8 1.1 0 1 0 0.1 0 M180.9 242.9 a1.6 1.7 0 1 0 0.1 0 M180.2 238.3 a1.0 1.3 0 1 0 0.1 0 M187.3 238.3 a1.6 1.5 0 1 0 0.1 0 M182.4 241.1 a1.1 1.2 0 1 0 0.1 0 M186.5 240.9 a1.2 1.4 0 1 0 0.1 0 M178.2 243.3 a1.5 1.9 0 1 0 0.1 0 M179.7 239.3 a1.4 1.7 0 1 0 0.1 0 M185.2 244.7 a2.0 1.7 0 1 0 0.1 0 " fill="none" stroke="#d2914a" stroke-width="0.75"/><path d="M184.9 238.5 C184.7 238.3 183.9 237.5 183.5 236.9 C183.0 236.3 182.1 235.4 182.2 235.1 C182.4 234.8 183.7 234.8 184.4 235.0 C185.1 235.1 185.8 235.6 186.3 236.1 C186.8 236.6 187.5 237.2 187.6 237.9 C187.7 238.5 186.9 239.2 186.8 239.9 C186.8 240.6 187.2 241.3 187.3 242.1 C187.5 242.8 187.9 243.8 187.6 244.2 C187.3 244.7 186.1 244.9 185.5 244.8 C184.8 244.7 184.1 244.2 183.5 243.8 C182.9 243.3 182.6 242.4 182.0 242.2 C181.4 242.0 180.0 242.9 179.8 242.7 C179.6 242.4 180.3 241.2 180.8 240.7 C181.2 240.2 182.2 240.1 182.7 239.6 C183.1 239.0 183.0 238.0 183.5 237.5 C184.0 237.0 184.9 236.4 185.5 236.5 C186.0 236.7 186.6 237.8 186.6 238.4 C186.6 239.1 185.6 239.7 185.5 240.4 C185.4 241.0 186.0 241.8 185.9 242.5 C185.9 243.2 185.7 244.1 185.3 244.6 C184.8 245.1 183.5 245.2 183.2 245.4" fill="none" stroke="#d3944f" stroke-width="0.7"/><path d="M186.3 246.6 a1.8 1.4 0 1 0 0.1 0 M194.7 247.8 a1.1 1.7 0 1 0 0.1 0 M190.9 250.2 a1.5 1.2 0 1 0 0.1 0 M184.5 244.1 a1.2 1.6 0 1 0 0.1 0 M190.8 245.8 a1.9 1.9 0 1 0 0.1 0 M188.7 245.7 a1.2 1.2 0 1 0 0.1 0 M186.3 246.4 a1.9 2.0 0 1 0 0.1 0 M193.7 249.2 a1.4 1.5 0 1 0 0.1 0 M186.1 247.7 a1.5 1.5 0 1 0 0.1 0 M188.4 249.2 a1.3 1.1 0 1 0 0.1 0 " fill="none" stroke="#d2914a" stroke-width="0.75"/><path d="M189.4 244.8 C189.3 244.5 188.8 243.0 189.1 242.7 C189.4 242.3 190.6 243.1 191.3 243.0 C192.0 242.8 193.1 241.8 193.3 242.0 C193.4 242.1 192.8 243.5 192.2 243.9 C191.7 244.3 190.8 244.3 190.1 244.3 C189.3 244.3 188.3 244.3 187.9 243.9 C187.5 243.4 187.3 242.0 187.6 241.7 C187.9 241.3 189.0 241.8 189.8 241.8 C190.5 241.8 191.2 241.8 192.0 241.9 C192.7 242.0 193.9 241.9 194.1 242.4 C194.4 242.8 193.9 244.0 193.4 244.5 C193.0 245.0 192.0 245.0 191.5 245.4 C190.9 245.9 190.6 246.6 190.1 247.2 C189.7 247.7 189.1 248.3 188.8 248.9 C188.4 249.5 188.5 250.9 188.1 251.0 C187.7 251.1 186.6 250.3 186.4 249.7 C186.1 249.1 186.5 248.2 186.7 247.5 C186.8 246.8 186.9 246.0 187.1 245.4 C187.3 244.7 187.6 244.0 188.0 243.3 C188.3 242.7 189.0 241.5 189.3 241.6 C189.6 241.7 189.8 243.4 189.9 243.7" fill="none" stroke="#d3944f" stroke-width="0.7"/><path d="M191.7 257.9 a1.9 1.4 0 1 0 0.1 0 M192.8 262.1 a1.6 1.5 0 1 0 0.1 0 M195.6 261.7 a1.2 1.7 0 1 0 0.1 0 M195.4 256.2 a1.2 1.9 0 1 0 0.1 0 M190.0 260.1 a1.8 1.6 0 1 0 0.1 0 M191.0 262.3 a1.0 1.7 0 1 0 0.1 0 M197.3 260.0 a1.6 1.7 0 1 0 0.1 0 M193.0 260.0 a1.8 1.8 0 1 0 0.1 0 M194.9 268.5 a1.0 1.2 0 1 0 0.1 0 M191.8 266.7 a1.8 1.9 0 1 0 0.1 0 M194.6 258.1 a1.3 1.0 0 1 0 0.1 0 " fill="none" stroke="#d2914a" stroke-width="0.75"/><path d="M193.5 262.5 C193.1 262.5 191.3 262.2 191.3 262.1 C191.3 262.1 192.8 262.3 193.5 262.3 C194.3 262.3 195.0 262.2 195.7 262.1 C196.4 262.0 197.2 261.8 197.9 261.8 C198.6 261.9 199.9 262.0 200.0 262.4 C200.2 262.8 199.1 263.6 198.8 264.3 C198.6 264.9 198.6 265.7 198.5 266.4 C198.4 267.2 198.8 268.2 198.5 268.6 C198.1 269.1 197.0 269.3 196.3 269.2 C195.7 269.2 194.7 268.7 194.5 268.1 C194.2 267.6 194.6 266.6 194.8 265.9 C195.1 265.3 196.0 264.9 196.2 264.2 C196.5 263.6 196.4 262.7 196.3 262.0 C196.1 261.3 195.5 260.7 195.3 260.0 C195.2 259.3 195.3 258.6 195.4 257.8 C195.5 257.1 195.4 255.8 195.8 255.7 C196.2 255.5 197.1 256.4 197.6 256.9 C198.1 257.4 198.9 258.1 198.9 258.7 C199.0 259.3 198.2 260.0 198.0 260.7 C197.8 261.4 198.1 262.2 198.0 262.9 C197.9 263.6 197.5 264.7 197.4 265.0" fill="none" stroke="#d3944f" stroke-width="0.7"/><path d="M183.5 280.5 a1.8 1.7 0 1 0 0.1 0 M183.6 280.1 a1.7 1.2 0 1 0 0.1 0 M183.9 274.0 a2.0 1.1 0 1 0 0.1 0 M182.9 281.0 a1.6 1.8 0 1 0 0.1 0 M186.4 281.9 a1.9 1.3 0 1 0 0.1 0 M183.7 271.4 a1.2 1.9 0 1 0 0.1 0 M185.7 272.8 a1.1 1.0 0 1 0 0.1 0 M186.6 273.3 a1.5 1.4 0 1 0 0.1 0 M186.9 278.0 a1.0 1.9 0 1 0 0.1 0 M187.1 275.9 a1.6 1.6 0 1 0 0.1 0 M189.5 276.6 a1.0 1.9 0 1 0 0.1 0 " fill="none" stroke="#d2914a" stroke-width="0.75"/><path d="M183.7 277.0 C183.5 276.6 182.7 275.7 182.6 275.1 C182.5 274.4 182.6 273.5 183.0 272.9 C183.3 272.3 184.2 272.0 184.8 271.7 C185.5 271.4 186.3 270.9 186.9 271.0 C187.5 271.2 188.3 271.9 188.5 272.5 C188.7 273.1 188.4 274.0 188.2 274.7 C188.0 275.4 187.8 276.3 187.3 276.7 C186.8 277.1 185.7 276.7 185.1 277.0 C184.6 277.4 184.4 278.3 184.1 279.0 C183.8 279.6 183.9 280.9 183.4 281.1 C183.0 281.3 181.5 280.4 181.4 280.1 C181.4 279.8 182.7 279.0 183.4 279.0 C184.0 279.0 184.6 279.8 185.2 280.2 C185.9 280.5 186.7 280.7 187.1 281.3 C187.5 281.8 188.0 283.1 187.8 283.4 C187.6 283.6 186.1 283.1 185.7 282.6 C185.3 282.1 185.6 281.1 185.3 280.5 C185.0 279.8 184.4 279.2 183.8 278.9 C183.1 278.6 182.0 279.1 181.6 278.7 C181.1 278.3 181.2 277.3 181.2 276.6 C181.2 275.8 181.4 274.7 181.5 274.4" fill="none" stroke="#d3944f" stroke-width="0.7"/><path d="M185.6 301.6 a1.8 1.5 0 1 0 0.1 0 M187.8 291.7 a1.8 1.3 0 1 0 0.1 0 M184.9 294.0 a1.4 1.1 0 1 0 0.1 0 M188.6 293.3 a1.9 1.6 0 1 0 0.1 0 M190.6 301.4 a1.8 1.6 0 1 0 0.1 0 M187.0 303.9 a1.2 1.9 0 1 0 0.1 0 M188.4 295.4 a1.3 2.0 0 1 0 0.1 0 M188.1 293.3 a1.4 1.9 0 1 0 0.1 0 M188.9 297.1 a1.7 1.3 0 1 0 0.1 0 M185.3 292.9 a1.4 1.6 0 1 0 0.1 0 M187.0 294.2 a1.5 2.0 0 1 0 0.1 0 " fill="none" stroke="#d2914a" stroke-width="0.75"/><path d="M189.5 294.8 C189.7 294.5 190.4 293.5 190.5 292.8 C190.6 292.1 189.8 290.9 190.1 290.7 C190.3 290.5 191.6 291.2 192.0 291.7 C192.4 292.2 192.3 293.1 192.5 293.8 C192.7 294.5 193.4 295.2 193.4 295.8 C193.4 296.5 192.4 297.1 192.3 297.8 C192.3 298.4 193.4 299.3 193.2 299.8 C193.1 300.3 191.9 300.3 191.2 300.7 C190.6 301.1 189.9 301.4 189.5 302.0 C189.0 302.5 188.9 303.8 188.4 303.9 C187.9 304.0 187.0 303.2 186.6 302.6 C186.3 302.1 186.0 301.1 186.2 300.5 C186.3 299.8 186.9 299.1 187.5 298.7 C188.1 298.3 188.9 298.3 189.7 298.2 C190.4 298.2 191.4 298.1 191.8 298.4 C192.3 298.8 192.5 299.8 192.5 300.5 C192.5 301.2 192.3 302.2 191.9 302.6 C191.4 303.1 190.4 303.2 189.7 303.2 C189.0 303.2 188.1 303.2 187.6 302.8 C187.1 302.4 186.9 301.4 186.8 300.7 C186.7 300.0 187.0 298.9 187.1 298.5" fill="none" stroke="#d3944f" stroke-width="0.7"/><path d="M194.2 251.6 L195.2 255.6 M192.2 269.6 L188.2 272.6 M186.2 284.6 L187.2 289.6" fill="none" stroke="#d3944f" stroke-width="0.7"/><path d="M190.0 332.2 a1.4 2.4 0 1 0 0.1 0 M186.9 326.7 a1.4 3.1 0 1 0 0.1 0 M186.1 328.4 a2.9 3.1 0 1 0 0.1 0 M184.4 335.7 a1.3 2.0 0 1 0 0.1 0 M188.7 337.1 a2.7 1.8 0 1 0 0.1 0 M186.6 328.8 a1.4 2.1 0 1 0 0.1 0 M191.1 325.5 a1.9 1.8 0 1 0 0.1 0 M179.2 332.6 a2.6 2.2 0 1 0 0.1 0 M186.1 334.5 a2.4 1.4 0 1 0 0.1 0 M188.7 333.6 a1.7 1.4 0 1 0 0.1 0 M177.7 330.2 a1.9 3.1 0 1 0 0.1 0 " fill="none" stroke="#b02838" stroke-width="0.75"/><path d="M185.2 324.6 L186.2 330.6" stroke="#a0182a" stroke-width="0.9"/><path d="M181.3 348.3 a2.0 2.0 0 1 0 0.1 0 M186.6 340.7 a1.1 1.1 0 1 0 0.1 0 M189.0 345.3 a1.8 2.2 0 1 0 0.1 0 M189.0 335.6 a1.8 1.7 0 1 0 0.1 0 M185.3 346.1 a1.5 1.2 0 1 0 0.1 0 M179.6 338.1 a2.4 1.5 0 1 0 0.1 0 M184.6 336.5 a1.3 1.7 0 1 0 0.1 0 M174.4 339.4 a1.3 1.0 0 1 0 0.1 0 M193.0 346.2 a1.1 2.4 0 1 0 0.1 0 M188.3 350.3 a1.5 2.4 0 1 0 0.1 0 M178.6 343.3 a1.0 1.6 0 1 0 0.1 0 M174.2 344.3 a1.8 2.3 0 1 0 0.1 0 M175.9 344.1 a1.9 1.2 0 1 0 0.1 0 M176.6 337.1 a1.6 1.3 0 1 0 0.1 0 M186.7 347.2 a2.4 1.7 0 1 0 0.1 0 M184.1 348.5 a2.1 2.3 0 1 0 0.1 0 M189.7 346.4 a1.1 1.5 0 1 0 0.1 0 M180.1 342.7 a1.2 2.2 0 1 0 0.1 0 M186.5 350.1 a1.2 1.2 0 1 0 0.1 0 M187.9 350.0 a1.1 1.3 0 1 0 0.1 0 M178.0 337.3 a2.3 1.4 0 1 0 0.1 0 M192.5 344.0 a1.6 1.8 0 1 0 0.1 0 M187.3 350.6 a2.2 1.4 0 1 0 0.1 0 M180.8 344.3 a2.5 1.2 0 1 0 0.1 0 " fill="none" stroke="#9c1628" stroke-width="1.1"/><path d="M184.9 344.0 C184.8 344.4 184.5 345.6 184.2 346.4 C183.8 347.1 183.1 347.7 182.9 348.5 C182.7 349.3 183.0 351.0 182.9 351.0 C182.8 351.0 182.1 349.3 182.3 348.6 C182.5 347.9 183.5 347.5 184.0 346.8 C184.6 346.2 184.8 345.4 185.3 344.7 C185.8 344.0 186.2 343.0 186.9 342.7 C187.6 342.5 188.6 343.1 189.4 343.0 C190.2 342.9 191.3 342.8 191.7 342.3 C192.2 341.7 192.2 340.6 192.2 339.8 C192.1 339.0 191.7 338.0 191.2 337.5 C190.6 337.0 189.5 336.6 188.8 336.8 C188.1 336.9 187.5 338.1 186.8 338.2 C186.0 338.3 185.1 337.9 184.4 337.5 C183.6 337.2 183.0 336.3 182.3 336.1 C181.5 335.9 180.6 336.2 179.8 336.4 C179.0 336.6 177.5 337.5 177.5 337.4 C177.4 337.2 178.7 335.9 179.4 335.7 C180.1 335.6 181.0 336.2 181.8 336.3 C182.6 336.5 183.5 336.5 184.3 336.6 C185.1 336.8 186.1 336.7 186.7 337.1 C187.4 337.5 187.8 338.4 188.3 339.1 C188.7 339.8 189.3 340.9 189.5 341.3" fill="none" stroke="#9c1628" stroke-width="0.9"/><path d="M187.3 238.1 a1.4 1.3 0 1 0 0.1 0 M190.1 235.1 a1.5 1.1 0 1 0 0.1 0 M188.7 236.9 a1.4 1.3 0 1 0 0.1 0 M189.7 233.7 a1.1 1.5 0 1 0 0.1 0 M187.6 240.1 a1.5 1.0 0 1 0 0.1 0 " fill="none" stroke="#4a96d0" stroke-width="0.8"/>
<rect x="184.2" y="312.6" width="2" height="8" fill="#6f5f5f"/>
<path d="M212.5 226.0 a1.9 1.5 0 1 0 0.1 0 M210.6 225.0 a1.0 1.2 0 1 0 0.1 0 M212.4 228.2 a2.0 1.2 0 1 0 0.1 0 M210.1 226.2 a1.8 1.0 0 1 0 0.1 0 M216.7 226.0 a1.2 1.4 0 1 0 0.1 0 M212.7 227.6 a1.8 1.0 0 1 0 0.1 0 M214.1 226.9 a1.0 1.3 0 1 0 0.1 0 M213.5 226.3 a1.4 1.3 0 1 0 0.1 0 M220.3 225.6 a1.6 1.7 0 1 0 0.1 0 M218.2 227.2 a1.9 1.9 0 1 0 0.1 0 " fill="none" stroke="#d2914a" stroke-width="0.75"/><path d="M215.9 224.3 C216.3 224.2 217.4 223.8 218.1 223.7 C218.8 223.6 219.7 223.4 220.3 223.6 C220.9 223.9 221.7 224.6 221.8 225.2 C221.9 225.8 221.3 226.9 220.8 227.2 C220.3 227.5 219.3 227.3 218.6 227.2 C217.9 227.0 217.2 226.8 216.5 226.4 C215.9 226.0 215.5 225.3 214.8 225.0 C214.2 224.7 213.4 224.9 212.6 224.9 C211.9 224.9 210.7 225.2 210.4 224.9 C210.2 224.6 210.8 222.9 211.2 222.8 C211.6 222.8 212.5 223.9 212.6 224.5 C212.7 225.1 212.0 225.9 211.8 226.6 C211.6 227.3 211.7 228.5 211.3 228.7 C210.9 228.9 209.7 228.4 209.3 227.9 C208.9 227.4 208.9 226.4 209.0 225.7 C209.2 225.0 209.6 224.1 210.2 223.8 C210.7 223.5 211.7 223.9 212.4 223.7 C213.1 223.5 213.5 222.6 214.2 222.5 C214.9 222.3 215.7 222.8 216.4 222.8 C217.1 222.8 218.3 222.2 218.5 222.5 C218.8 222.8 218.2 224.2 218.1 224.6" fill="none" stroke="#d3944f" stroke-width="0.7"/><path d="M229.6 227.5 a1.7 1.9 0 1 0 0.1 0 M235.2 226.5 a1.9 1.8 0 1 0 0.1 0 M231.7 222.3 a1.4 1.0 0 1 0 0.1 0 M231.2 228.4 a1.3 1.4 0 1 0 0.1 0 M226.9 223.1 a1.2 1.2 0 1 0 0.1 0 M233.7 224.1 a1.7 1.7 0 1 0 0.1 0 M225.3 227.2 a1.5 1.5 0 1 0 0.1 0 M225.2 224.4 a1.4 1.7 0 1 0 0.1 0 M227.3 227.7 a1.7 1.6 0 1 0 0.1 0 M225.9 224.7 a1.6 1.7 0 1 0 0.1 0 M230.9 226.3 a1.9 1.4 0 1 0 0.1 0 " fill="none" stroke="#d2914a" stroke-width="0.75"/><path d="M228.7 223.6 C229.0 223.6 230.1 224.0 230.8 223.9 C231.5 223.7 232.1 223.0 232.8 222.9 C233.5 222.7 234.5 222.4 235.0 222.8 C235.5 223.1 236.0 224.1 235.9 224.8 C235.9 225.4 235.1 226.0 234.6 226.5 C234.1 227.0 233.6 227.7 233.0 228.0 C232.3 228.2 231.4 228.2 230.8 227.9 C230.2 227.6 229.9 226.6 229.3 226.2 C228.7 225.9 227.7 226.3 227.2 225.9 C226.7 225.5 226.8 224.3 226.3 223.8 C225.8 223.4 224.2 223.5 224.2 223.2 C224.2 223.0 225.5 222.3 226.2 222.3 C226.8 222.3 227.5 223.0 228.1 223.4 C228.7 223.8 229.3 224.2 230.0 224.5 C230.6 224.8 231.4 225.1 232.1 225.1 C232.8 225.1 233.5 224.8 234.2 224.5 C234.9 224.3 235.8 223.5 236.3 223.7 C236.8 223.9 237.5 225.2 237.3 225.7 C237.2 226.1 236.0 226.2 235.2 226.3 C234.5 226.5 233.7 226.5 233.0 226.4 C232.3 226.2 231.4 225.6 231.0 225.5" fill="none" stroke="#d3944f" stroke-width="0.7"/><path d="M239.9 233.4 a1.1 1.9 0 1 0 0.1 0 M236.1 234.2 a1.7 1.1 0 1 0 0.1 0 M246.6 233.6 a1.2 1.7 0 1 0 0.1 0 M237.3 234.4 a1.1 1.1 0 1 0 0.1 0 M235.5 234.1 a1.9 1.3 0 1 0 0.1 0 M234.5 232.0 a1.7 1.6 0 1 0 0.1 0 M244.3 231.3 a1.8 1.6 0 1 0 0.1 0 M241.7 239.1 a1.7 1.7 0 1 0 0.1 0 M239.4 235.0 a1.5 1.8 0 1 0 0.1 0 M244.6 231.5 a1.4 1.1 0 1 0 0.1 0 " fill="none" stroke="#d2914a" stroke-width="0.75"/><path d="M241.3 236.7 C241.5 237.0 242.2 237.8 242.7 238.4 C243.2 238.9 244.4 239.7 244.3 239.8 C244.3 240.0 242.9 239.0 242.2 239.1 C241.6 239.2 240.8 240.6 240.5 240.4 C240.2 240.3 240.7 238.8 240.3 238.2 C240.0 237.7 239.1 237.3 238.4 237.1 C237.8 237.0 236.6 237.7 236.3 237.4 C236.0 237.1 236.3 235.8 236.7 235.2 C237.0 234.6 237.7 233.9 238.3 233.8 C239.0 233.7 239.7 234.3 240.4 234.6 C241.1 234.9 241.7 235.3 242.3 235.6 C243.0 235.9 243.7 236.1 244.4 236.4 C245.0 236.8 246.3 237.3 246.2 237.6 C246.2 238.0 244.8 238.1 244.1 238.3 C243.4 238.5 242.7 238.7 242.0 239.0 C241.4 239.3 240.6 240.2 240.1 240.0 C239.6 239.8 239.4 238.7 239.1 238.0 C238.9 237.3 238.9 236.5 238.7 235.9 C238.4 235.2 238.2 234.4 237.8 233.8 C237.4 233.2 236.4 232.8 236.3 232.2 C236.3 231.6 237.2 230.5 237.3 230.2" fill="none" stroke="#d3944f" stroke-width="0.7"/><path d="M252.0 242.1 a1.6 1.1 0 1 0 0.1 0 M251.2 237.8 a1.8 1.4 0 1 0 0.1 0 M250.4 239.8 a1.5 1.5 0 1 0 0.1 0 M245.7 244.5 a1.9 0.9 0 1 0 0.1 0 M247.4 238.2 a1.5 1.7 0 1 0 0.1 0 M241.8 240.0 a1.8 0.9 0 1 0 0.1 0 M247.7 245.7 a1.7 1.5 0 1 0 0.1 0 M250.2 241.4 a1.3 1.5 0 1 0 0.1 0 M247.0 237.6 a1.6 1.6 0 1 0 0.1 0 M244.0 244.6 a1.2 1.8 0 1 0 0.1 0 " fill="none" stroke="#d2914a" stroke-width="0.75"/><path d="M248.0 242.5 C247.8 242.9 247.7 244.3 247.2 244.6 C246.7 244.9 245.4 244.7 245.0 244.2 C244.6 243.8 245.0 242.8 245.0 242.0 C245.0 241.3 244.9 240.6 245.0 239.8 C245.0 239.1 245.2 238.4 245.5 237.7 C245.8 237.1 246.3 236.4 246.8 236.0 C247.3 235.5 248.2 234.8 248.7 234.9 C249.2 235.1 249.3 236.3 249.8 236.9 C250.2 237.4 250.7 238.2 251.3 238.4 C251.9 238.6 253.3 237.7 253.4 237.9 C253.6 238.1 252.7 239.3 252.2 239.7 C251.6 240.0 250.7 239.9 250.0 240.1 C249.3 240.3 248.5 240.5 248.0 240.9 C247.4 241.3 247.2 242.3 246.6 242.6 C246.0 242.9 244.7 242.9 244.4 242.5 C244.0 242.1 244.6 241.0 244.4 240.3 C244.3 239.6 243.5 238.3 243.6 238.3 C243.7 238.2 244.6 239.3 245.2 239.8 C245.7 240.3 246.1 241.1 246.7 241.3 C247.4 241.5 248.2 241.1 248.9 241.0 C249.6 240.9 250.7 240.8 251.1 240.7" fill="none" stroke="#d3944f" stroke-width="0.7"/><path d="M258.7 243.5 a1.0 1.2 0 1 0 0.1 0 M252.9 246.7 a1.3 1.5 0 1 0 0.1 0 M253.1 251.8 a1.9 1.2 0 1 0 0.1 0 M249.8 246.1 a1.1 1.5 0 1 0 0.1 0 M249.4 244.2 a1.5 1.9 0 1 0 0.1 0 M253.3 244.4 a1.7 1.4 0 1 0 0.1 0 M250.4 245.1 a1.5 1.4 0 1 0 0.1 0 M249.8 249.2 a1.1 1.3 0 1 0 0.1 0 M254.3 246.8 a1.0 1.4 0 1 0 0.1 0 M258.4 246.3 a1.2 0.9 0 1 0 0.1 0 " fill="none" stroke="#d2914a" stroke-width="0.75"/><path d="M253.5 247.4 C253.2 247.7 252.2 249.1 251.9 249.0 C251.6 248.9 251.5 247.4 251.7 246.8 C251.9 246.2 252.8 245.8 253.3 245.3 C253.8 244.8 254.5 244.2 254.7 243.6 C254.8 243.0 253.7 241.7 253.9 241.5 C254.1 241.3 255.2 242.5 255.9 242.5 C256.5 242.5 257.3 241.5 257.9 241.5 C258.5 241.6 259.3 242.3 259.6 242.9 C259.9 243.5 259.8 244.5 259.6 245.1 C259.3 245.7 258.6 246.3 258.0 246.7 C257.4 247.1 256.5 247.1 256.0 247.6 C255.5 248.1 255.6 249.2 255.1 249.6 C254.5 249.9 253.6 249.8 252.9 249.7 C252.1 249.6 250.7 249.4 250.7 249.3 C250.7 249.1 252.2 248.8 252.9 249.0 C253.6 249.2 254.4 249.7 254.7 250.3 C254.9 250.9 254.6 252.5 254.4 252.5 C254.3 252.5 254.0 251.0 254.0 250.3 C254.0 249.6 254.0 248.6 254.5 248.2 C254.9 247.7 256.0 247.4 256.6 247.5 C257.2 247.7 257.9 248.8 258.1 249.1" fill="none" stroke="#d3944f" stroke-width="0.7"/><path d="M257.9 260.4 a1.9 1.0 0 1 0 0.1 0 M256.9 265.3 a1.1 1.3 0 1 0 0.1 0 M258.6 259.5 a1.6 1.1 0 1 0 0.1 0 M262.0 268.6 a1.2 0.9 0 1 0 0.1 0 M256.6 258.7 a1.5 2.0 0 1 0 0.1 0 M257.9 268.4 a1.8 1.1 0 1 0 0.1 0 M256.7 259.7 a1.9 0.9 0 1 0 0.1 0 M260.8 269.0 a1.0 1.6 0 1 0 0.1 0 M256.9 268.0 a1.6 1.7 0 1 0 0.1 0 M261.2 261.3 a1.0 1.2 0 1 0 0.1 0 M261.2 264.0 a2.0 1.1 0 1 0 0.1 0 " fill="none" stroke="#d2914a" stroke-width="0.75"/><path d="M261.0 264.7 C260.9 265.1 260.6 266.2 260.5 266.9 C260.3 267.6 260.7 268.8 260.3 269.1 C260.0 269.3 258.7 268.7 258.3 268.2 C257.9 267.7 258.2 266.7 258.0 266.1 C257.7 265.4 256.7 265.0 256.5 264.4 C256.4 263.8 256.6 262.7 257.0 262.3 C257.5 261.8 258.5 262.0 259.2 261.7 C259.8 261.4 260.4 260.6 261.0 260.5 C261.7 260.5 262.4 261.1 263.1 261.4 C263.7 261.8 264.6 262.1 264.8 262.7 C265.1 263.3 265.0 264.2 264.7 264.9 C264.5 265.6 264.1 266.3 263.5 266.7 C263.0 267.2 262.1 267.4 261.4 267.5 C260.7 267.6 259.8 267.6 259.2 267.2 C258.7 266.9 258.2 266.0 258.0 265.4 C257.9 264.7 258.3 263.9 258.4 263.2 C258.6 262.5 259.0 261.7 258.9 261.1 C258.7 260.4 257.4 259.8 257.5 259.4 C257.6 258.9 258.7 258.4 259.3 258.1 C260.0 257.9 260.8 257.8 261.5 257.9 C262.2 257.9 263.2 258.4 263.6 258.6" fill="none" stroke="#d3944f" stroke-width="0.7"/><path d="M247.9 278.3 a1.5 1.9 0 1 0 0.1 0 M245.5 279.7 a1.5 1.4 0 1 0 0.1 0 M250.4 277.2 a1.4 1.9 0 1 0 0.1 0 M252.9 282.3 a1.5 1.4 0 1 0 0.1 0 M253.7 274.1 a1.1 1.2 0 1 0 0.1 0 M251.7 279.5 a1.5 1.3 0 1 0 0.1 0 M249.1 276.8 a0.9 1.4 0 1 0 0.1 0 M247.7 282.5 a1.6 1.5 0 1 0 0.1 0 M250.9 278.5 a0.9 1.7 0 1 0 0.1 0 M253.4 275.3 a1.4 1.7 0 1 0 0.1 0 M248.3 276.8 a1.0 1.7 0 1 0 0.1 0 " fill="none" stroke="#d2914a" stroke-width="0.75"/><path d="M248.5 276.9 C248.1 276.9 246.5 276.9 246.3 276.6 C246.2 276.2 247.2 275.4 247.6 274.8 C248.0 274.2 248.4 273.5 248.8 272.9 C249.2 272.3 249.6 271.2 250.1 271.2 C250.6 271.1 251.6 271.9 251.9 272.5 C252.2 273.1 251.7 274.1 251.9 274.7 C252.2 275.4 252.8 275.9 253.3 276.4 C253.8 276.9 254.9 277.3 255.0 277.8 C255.1 278.4 254.4 279.2 254.0 279.8 C253.6 280.4 252.7 280.7 252.5 281.3 C252.2 282.0 252.9 283.2 252.5 283.5 C252.2 283.8 250.9 283.5 250.4 283.1 C249.8 282.7 249.7 281.7 249.2 281.2 C248.7 280.8 247.5 280.8 247.2 280.3 C246.9 279.8 247.0 278.8 247.2 278.1 C247.5 277.4 248.0 276.7 248.6 276.3 C249.2 276.0 250.1 275.8 250.7 275.9 C251.4 276.1 252.1 276.8 252.4 277.4 C252.7 278.0 252.2 279.1 252.5 279.6 C252.9 280.1 254.4 280.0 254.6 280.5 C254.7 281.0 253.8 282.1 253.7 282.5" fill="none" stroke="#d3944f" stroke-width="0.7"/><path d="M255.2 294.1 a1.2 1.0 0 1 0 0.1 0 M252.6 299.2 a1.4 1.1 0 1 0 0.1 0 M252.9 294.3 a1.6 1.2 0 1 0 0.1 0 M251.5 300.1 a1.4 1.8 0 1 0 0.1 0 M249.0 295.7 a1.1 1.2 0 1 0 0.1 0 M252.6 295.1 a1.6 1.8 0 1 0 0.1 0 M249.5 295.8 a1.2 1.7 0 1 0 0.1 0 M251.0 294.3 a1.3 1.8 0 1 0 0.1 0 M256.4 299.2 a1.6 1.1 0 1 0 0.1 0 M254.5 294.9 a1.6 1.4 0 1 0 0.1 0 M254.4 300.3 a1.1 1.7 0 1 0 0.1 0 " fill="none" stroke="#d2914a" stroke-width="0.75"/><path d="M254.0 294.7 C253.8 294.4 253.4 293.4 253.1 292.7 C252.7 292.1 251.8 291.4 251.9 290.8 C252.0 290.3 253.4 289.4 253.7 289.5 C253.9 289.6 253.3 291.1 253.6 291.7 C253.8 292.3 254.5 293.0 255.1 293.3 C255.7 293.5 256.9 293.0 257.3 293.4 C257.7 293.8 257.5 294.9 257.3 295.6 C257.2 296.3 256.6 296.8 256.2 297.5 C255.8 298.1 255.6 299.0 255.0 299.3 C254.5 299.7 253.5 300.0 252.9 299.7 C252.3 299.5 251.7 298.7 251.5 298.0 C251.3 297.4 251.9 296.6 251.9 295.9 C252.0 295.1 251.5 294.2 251.7 293.7 C252.0 293.1 252.9 292.8 253.6 292.4 C254.2 292.1 255.4 291.4 255.6 291.5 C255.8 291.7 254.7 293.0 254.8 293.6 C254.9 294.2 256.1 294.7 256.2 295.3 C256.3 295.9 255.8 296.8 255.3 297.3 C254.8 297.8 254.1 298.1 253.4 298.4 C252.7 298.6 251.9 298.8 251.2 298.7 C250.5 298.7 249.4 298.2 249.1 298.1" fill="none" stroke="#d3944f" stroke-width="0.7"/><path d="M259.0 251.6 L260.0 255.6 M257.0 269.6 L253.0 272.6 M251.0 284.6 L252.0 289.6" fill="none" stroke="#d3944f" stroke-width="0.7"/><path d="M245.6 334.7 a2.0 1.9 0 1 0 0.1 0 M244.2 333.2 a2.8 2.1 0 1 0 0.1 0 M256.4 335.5 a2.6 3.0 0 1 0 0.1 0 M251.2 330.9 a1.5 3.1 0 1 0 0.1 0 M246.4 327.4 a3.0 1.5 0 1 0 0.1 0 M253.9 328.4 a1.3 2.9 0 1 0 0.1 0 M251.0 330.6 a2.6 3.1 0 1 0 0.1 0 M256.0 327.7 a2.9 2.8 0 1 0 0.1 0 M241.0 330.2 a1.6 1.7 0 1 0 0.1 0 M243.9 335.1 a1.5 1.9 0 1 0 0.1 0 M239.8 331.4 a2.3 3.2 0 1 0 0.1 0 " fill="none" stroke="#b02838" stroke-width="0.75"/><path d="M250.0 324.6 L251.0 330.6" stroke="#a0182a" stroke-width="0.9"/><path d="M254.5 345.1 a1.2 1.3 0 1 0 0.1 0 M253.1 337.5 a1.7 1.7 0 1 0 0.1 0 M258.8 343.2 a1.9 2.4 0 1 0 0.1 0 M253.9 347.4 a2.2 2.1 0 1 0 0.1 0 M240.2 346.5 a2.4 2.0 0 1 0 0.1 0 M248.6 337.3 a1.9 2.0 0 1 0 0.1 0 M251.9 349.7 a1.2 2.1 0 1 0 0.1 0 M248.1 342.4 a1.5 2.2 0 1 0 0.1 0 M243.1 346.3 a1.7 1.1 0 1 0 0.1 0 M241.5 342.7 a2.1 1.4 0 1 0 0.1 0 M257.8 343.0 a2.1 1.0 0 1 0 0.1 0 M252.5 349.9 a1.5 1.5 0 1 0 0.1 0 M240.4 336.2 a2.0 1.0 0 1 0 0.1 0 M240.0 347.2 a2.0 1.9 0 1 0 0.1 0 M245.4 333.9 a1.1 2.3 0 1 0 0.1 0 M251.9 347.8 a1.4 1.0 0 1 0 0.1 0 M252.3 347.4 a2.1 1.6 0 1 0 0.1 0 M240.1 345.9 a1.9 2.0 0 1 0 0.1 0 M243.7 338.5 a2.4 1.5 0 1 0 0.1 0 M251.3 350.8 a1.7 2.1 0 1 0 0.1 0 M244.0 341.6 a1.6 1.5 0 1 0 0.1 0 M243.4 344.1 a1.0 1.3 0 1 0 0.1 0 M246.7 335.0 a1.4 2.2 0 1 0 0.1 0 M249.1 351.0 a2.5 1.8 0 1 0 0.1 0 " fill="none" stroke="#9c1628" stroke-width="1.1"/><path d="M248.2 340.7 C247.8 340.4 246.9 339.3 246.2 339.1 C245.5 339.0 244.6 339.6 243.8 339.8 C243.0 340.0 241.5 340.5 241.4 340.3 C241.2 340.0 242.2 338.8 242.9 338.3 C243.6 337.9 244.6 338.1 245.3 337.7 C246.0 337.3 246.4 336.2 247.1 335.9 C247.8 335.7 248.8 335.8 249.6 336.1 C250.3 336.4 250.8 337.3 251.6 337.7 C252.3 338.1 253.3 338.1 253.9 338.6 C254.5 339.1 254.7 340.0 255.2 340.7 C255.7 341.4 256.2 342.2 256.9 342.6 C257.6 343.0 259.2 342.7 259.3 343.1 C259.5 343.5 258.6 344.7 257.9 345.2 C257.3 345.7 256.4 346.1 255.6 346.1 C254.8 346.2 253.7 346.0 253.2 345.4 C252.7 344.9 252.5 343.8 252.5 343.0 C252.6 342.2 252.8 341.2 253.4 340.7 C253.9 340.2 255.0 340.3 255.8 340.1 C256.6 339.8 257.4 339.6 258.1 339.1 C258.8 338.6 259.4 337.1 259.8 337.2 C260.2 337.3 260.5 338.9 260.3 339.7 C260.2 340.4 259.3 341.0 258.7 341.6 C258.1 342.2 257.2 343.0 256.9 343.3" fill="none" stroke="#9c1628" stroke-width="0.9"/><path d="M253.4 235.1 a1.2 1.8 0 1 0 0.1 0 M255.5 231.5 a1.6 1.1 0 1 0 0.1 0 M253.8 242.4 a1.6 1.1 0 1 0 0.1 0 M252.3 233.9 a1.7 1.1 0 1 0 0.1 0 M254.8 232.2 a1.8 1.0 0 1 0 0.1 0 " fill="none" stroke="#4a96d0" stroke-width="0.8"/>
<rect x="249.0" y="312.6" width="2" height="8" fill="#6f5f5f"/>
<path d="M276.0 221.8 a1.8 1.2 0 1 0 0.1 0 M271.0 228.3 a1.5 1.4 0 1 0 0.1 0 M273.9 228.4 a1.0 1.3 0 1 0 0.1 0 M282.4 223.6 a1.1 1.6 0 1 0 0.1 0 M279.8 225.1 a1.3 1.5 0 1 0 0.1 0 M275.9 230.2 a1.8 1.3 0 1 0 0.1 0 M281.5 222.5 a1.1 1.6 0 1 0 0.1 0 M282.0 229.0 a1.0 1.3 0 1 0 0.1 0 M277.3 222.5 a1.3 1.1 0 1 0 0.1 0 M279.3 223.0 a1.1 1.8 0 1 0 0.1 0 " fill="none" stroke="#d2914a" stroke-width="0.75"/><path d="M279.2 224.2 C279.2 223.9 279.0 222.4 279.4 222.0 C279.8 221.7 281.0 221.9 281.6 222.2 C282.1 222.6 282.3 223.5 282.7 224.1 C283.1 224.8 283.7 225.2 284.0 225.9 C284.3 226.5 284.6 227.4 284.4 228.0 C284.2 228.7 283.5 229.2 282.8 229.6 C282.2 229.9 281.4 229.8 280.7 230.1 C280.0 230.3 279.4 231.1 278.7 231.1 C278.1 231.1 277.2 230.5 276.9 229.9 C276.6 229.3 276.5 228.3 276.8 227.7 C277.1 227.1 278.0 226.9 278.6 226.5 C279.2 226.1 279.7 225.4 280.4 225.2 C281.1 225.0 281.9 225.3 282.6 225.3 C283.3 225.4 284.8 225.3 284.8 225.5 C284.8 225.7 283.4 226.1 282.8 226.5 C282.3 227.0 281.9 227.7 281.4 228.2 C280.9 228.7 280.3 229.5 279.7 229.6 C279.1 229.6 278.4 228.7 277.8 228.5 C277.1 228.4 276.2 228.9 275.6 228.7 C274.9 228.5 274.1 227.9 273.9 227.3 C273.6 226.7 274.0 225.5 274.0 225.1" fill="none" stroke="#d3944f" stroke-width="0.7"/><path d="M296.5 227.8 a0.9 0.9 0 1 0 0.1 0 M296.9 226.6 a1.8 1.0 0 1 0 0.1 0 M297.1 223.9 a1.1 1.6 0 1 0 0.1 0 M293.9 222.9 a1.4 1.8 0 1 0 0.1 0 M294.5 224.5 a1.6 2.0 0 1 0 0.1 0 M294.0 224.5 a2.0 1.6 0 1 0 0.1 0 M296.1 224.1 a2.0 1.7 0 1 0 0.1 0 M293.5 228.0 a0.9 1.7 0 1 0 0.1 0 M287.7 224.3 a1.5 1.9 0 1 0 0.1 0 M292.8 227.8 a1.2 1.8 0 1 0 0.1 0 M295.0 228.7 a1.6 2.0 0 1 0 0.1 0 " fill="none" stroke="#d2914a" stroke-width="0.75"/><path d="M293.9 227.4 C293.6 227.7 292.6 229.0 292.2 228.9 C291.8 228.8 291.3 227.6 291.2 226.9 C291.2 226.2 291.3 225.3 291.7 224.7 C292.1 224.2 292.9 223.9 293.6 223.6 C294.3 223.4 295.0 223.1 295.7 223.1 C296.4 223.1 297.3 223.4 297.8 223.9 C298.3 224.3 298.4 225.3 298.9 225.8 C299.4 226.2 301.0 226.4 301.0 226.5 C300.9 226.6 299.5 226.2 298.8 226.4 C298.1 226.6 297.5 227.6 296.9 227.5 C296.3 227.4 295.8 226.3 295.2 226.0 C294.6 225.8 293.7 226.0 293.0 225.8 C292.3 225.5 291.5 225.2 291.1 224.7 C290.7 224.2 290.5 222.9 290.8 222.5 C291.2 222.1 292.5 222.0 293.0 222.3 C293.5 222.6 293.6 223.7 293.9 224.3 C294.2 225.0 294.9 225.7 294.8 226.4 C294.8 227.0 294.3 228.1 293.8 228.3 C293.3 228.4 292.6 227.3 291.9 227.1 C291.2 227.0 290.4 227.2 289.7 227.2 C288.9 227.2 287.8 227.2 287.5 227.2" fill="none" stroke="#d3944f" stroke-width="0.7"/><path d="M297.7 236.2 a1.2 1.2 0 1 0 0.1 0 M300.9 239.2 a1.7 1.6 0 1 0 0.1 0 M306.2 238.9 a1.5 1.8 0 1 0 0.1 0 M301.3 237.3 a1.8 0.9 0 1 0 0.1 0 M309.1 232.1 a1.8 1.4 0 1 0 0.1 0 M303.1 237.9 a1.6 1.1 0 1 0 0.1 0 M310.1 232.3 a1.3 1.8 0 1 0 0.1 0 M307.6 230.2 a2.0 0.9 0 1 0 0.1 0 M306.7 229.8 a1.9 1.7 0 1 0 0.1 0 M306.0 239.0 a1.5 1.2 0 1 0 0.1 0 " fill="none" stroke="#d2914a" stroke-width="0.75"/><path d="M305.0 236.8 C304.8 237.1 304.4 238.2 303.9 238.6 C303.3 239.1 302.4 239.8 301.9 239.6 C301.4 239.5 301.1 238.4 300.8 237.7 C300.6 237.0 300.8 236.2 300.5 235.5 C300.2 234.9 299.1 234.4 299.1 233.8 C299.1 233.2 300.0 232.6 300.4 232.0 C300.9 231.5 301.4 230.9 302.0 230.5 C302.5 230.0 303.1 229.2 303.7 229.1 C304.3 229.1 305.0 230.2 305.6 230.2 C306.3 230.2 306.9 229.1 307.5 229.1 C308.2 229.2 309.0 229.9 309.3 230.5 C309.6 231.0 309.4 231.9 309.5 232.7 C309.5 233.4 309.5 234.1 309.7 234.8 C309.9 235.5 310.6 236.2 310.6 236.8 C310.6 237.5 309.9 238.8 309.5 238.8 C309.2 238.8 308.5 237.6 308.3 236.9 C308.1 236.3 308.2 235.4 308.3 234.7 C308.5 234.0 308.7 233.2 309.2 232.7 C309.7 232.2 310.9 231.5 311.2 231.7 C311.4 231.9 311.0 233.3 310.6 233.8 C310.2 234.4 309.0 234.8 308.7 235.0" fill="none" stroke="#d3944f" stroke-width="0.7"/><path d="M307.6 242.6 a1.6 1.0 0 1 0 0.1 0 M316.9 241.4 a1.1 1.6 0 1 0 0.1 0 M308.0 243.0 a1.2 1.6 0 1 0 0.1 0 M313.5 241.3 a1.8 1.7 0 1 0 0.1 0 M308.7 239.5 a0.9 1.0 0 1 0 0.1 0 M316.7 238.7 a1.3 1.6 0 1 0 0.1 0 M306.0 242.8 a1.4 1.9 0 1 0 0.1 0 M316.3 241.6 a1.3 2.0 0 1 0 0.1 0 M311.4 242.7 a1.6 1.4 0 1 0 0.1 0 M312.1 242.7 a1.3 1.8 0 1 0 0.1 0 " fill="none" stroke="#d2914a" stroke-width="0.75"/><path d="M310.9 239.0 C310.5 239.0 309.2 239.2 308.7 238.8 C308.2 238.4 307.9 236.8 308.0 236.7 C308.2 236.6 309.4 237.6 309.6 238.2 C309.8 238.8 309.4 239.6 309.3 240.4 C309.2 241.1 308.8 241.8 308.8 242.5 C308.8 243.2 309.3 244.6 309.2 244.7 C309.1 244.7 308.7 243.3 308.4 242.6 C308.1 242.0 307.6 241.4 307.4 240.7 C307.2 240.0 306.8 238.8 307.1 238.5 C307.4 238.2 308.5 239.0 309.2 238.9 C309.9 238.8 310.5 238.0 311.1 237.8 C311.8 237.7 312.8 238.2 313.3 237.9 C313.9 237.7 314.5 236.1 314.7 236.2 C314.9 236.3 314.7 237.8 314.3 238.4 C314.0 238.9 312.9 238.9 312.4 239.4 C311.9 239.9 312.0 240.8 311.6 241.4 C311.2 242.0 310.4 242.3 309.9 242.9 C309.5 243.5 309.1 244.9 309.0 244.9 C308.9 244.9 308.8 243.2 309.2 242.7 C309.5 242.2 310.7 242.2 311.1 241.7 C311.5 241.2 311.5 239.9 311.5 239.5" fill="none" stroke="#d3944f" stroke-width="0.7"/><path d="M315.5 248.2 a1.9 1.6 0 1 0 0.1 0 M315.2 243.4 a1.3 0.9 0 1 0 0.1 0 M314.7 248.6 a1.4 1.6 0 1 0 0.1 0 M318.1 249.3 a1.0 1.8 0 1 0 0.1 0 M320.1 246.5 a1.2 1.1 0 1 0 0.1 0 M313.9 249.4 a1.9 1.1 0 1 0 0.1 0 M316.8 252.2 a1.0 1.9 0 1 0 0.1 0 M322.5 245.2 a1.1 1.5 0 1 0 0.1 0 M318.5 242.4 a1.2 1.6 0 1 0 0.1 0 M317.6 241.7 a1.1 1.0 0 1 0 0.1 0 " fill="none" stroke="#d2914a" stroke-width="0.75"/><path d="M317.3 248.1 C317.0 248.3 315.9 249.7 315.6 249.6 C315.3 249.4 315.3 248.0 315.5 247.4 C315.7 246.7 316.7 246.3 316.8 245.6 C316.9 245.0 315.9 243.9 316.1 243.5 C316.3 243.2 317.7 243.3 318.3 243.6 C318.9 244.0 319.0 245.0 319.4 245.5 C319.9 246.1 320.4 246.7 321.1 247.0 C321.7 247.3 322.9 247.1 323.2 247.5 C323.5 248.0 323.1 249.1 322.8 249.7 C322.4 250.3 321.7 250.9 321.1 251.1 C320.4 251.3 319.6 251.1 318.9 250.9 C318.2 250.7 317.7 250.1 317.0 249.8 C316.3 249.5 315.2 249.5 315.0 249.0 C314.7 248.5 315.6 247.6 315.7 246.9 C315.8 246.2 315.3 245.4 315.5 244.7 C315.7 244.1 316.2 243.2 316.8 242.9 C317.3 242.7 318.3 243.3 318.9 243.1 C319.6 242.9 320.3 241.4 320.5 241.5 C320.6 241.6 319.9 242.9 319.8 243.6 C319.6 244.3 319.8 245.1 319.8 245.8 C319.7 246.5 319.5 247.6 319.4 248.0" fill="none" stroke="#d3944f" stroke-width="0.7"/><path d="M320.1 256.9 a1.2 1.7 0 1 0 0.1 0 M321.7 263.1 a1.6 1.9 0 1 0 0.1 0 M319.7 264.2 a1.5 2.0 0 1 0 0.1 0 M319.5 257.2 a1.7 0.9 0 1 0 0.1 0 M319.6 256.2 a1.6 1.1 0 1 0 0.1 0 M318.5 259.2 a1.4 1.2 0 1 0 0.1 0 M326.3 260.6 a1.3 1.3 0 1 0 0.1 0 M323.4 263.6 a1.8 1.7 0 1 0 0.1 0 M320.8 255.4 a1.3 1.9 0 1 0 0.1 0 M322.3 261.6 a1.4 1.7 0 1 0 0.1 0 M319.5 261.8 a2.0 1.4 0 1 0 0.1 0 " fill="none" stroke="#d2914a" stroke-width="0.75"/><path d="M322.4 264.2 C322.3 264.5 321.8 265.6 321.7 266.3 C321.5 267.0 321.6 268.5 321.7 268.5 C321.8 268.5 322.2 267.1 322.3 266.4 C322.4 265.6 322.1 264.9 322.0 264.2 C321.9 263.5 321.9 262.6 321.5 262.0 C321.1 261.5 319.7 261.4 319.6 261.0 C319.5 260.6 320.9 260.0 321.1 259.4 C321.3 258.8 320.5 257.6 320.8 257.2 C321.1 256.9 322.3 257.5 323.0 257.3 C323.7 257.1 324.3 256.2 324.9 256.2 C325.5 256.2 326.4 256.8 326.8 257.4 C327.1 258.0 327.4 258.9 327.2 259.5 C327.0 260.2 326.1 260.5 325.6 261.0 C325.1 261.6 324.8 262.4 324.3 262.8 C323.7 263.2 323.0 263.5 322.3 263.7 C321.6 263.9 320.2 264.2 320.1 263.9 C319.9 263.6 320.7 262.4 321.3 262.1 C321.8 261.7 322.7 261.9 323.5 261.9 C324.2 261.9 324.9 262.0 325.7 262.1 C326.4 262.2 327.7 262.1 327.8 262.5 C328.0 262.8 326.7 263.9 326.5 264.2" fill="none" stroke="#d3944f" stroke-width="0.7"/><path d="M314.2 271.5 a2.0 1.3 0 1 0 0.1 0 M315.5 275.0 a1.9 1.7 0 1 0 0.1 0 M310.1 272.2 a1.4 1.7 0 1 0 0.1 0 M314.3 276.6 a1.6 1.6 0 1 0 0.1 0 M310.1 272.1 a1.3 1.0 0 1 0 0.1 0 M310.5 284.9 a1.7 2.0 0 1 0 0.1 0 M308.4 274.0 a1.3 1.5 0 1 0 0.1 0 M312.9 273.2 a1.1 1.1 0 1 0 0.1 0 M310.0 276.7 a1.3 1.9 0 1 0 0.1 0 M312.8 276.0 a1.5 1.5 0 1 0 0.1 0 M312.9 281.4 a1.1 1.8 0 1 0 0.1 0 " fill="none" stroke="#d2914a" stroke-width="0.75"/><path d="M315.6 276.4 C315.9 276.5 317.7 276.3 317.8 276.6 C317.9 276.9 316.6 277.5 316.1 278.1 C315.6 278.6 315.2 279.2 314.9 279.9 C314.5 280.5 314.4 281.3 314.2 282.0 C314.1 282.7 314.4 284.0 314.1 284.2 C313.7 284.3 312.7 283.4 312.3 282.9 C311.8 282.3 311.5 281.5 311.4 280.8 C311.4 280.2 312.1 279.3 312.0 278.7 C311.8 278.1 310.3 277.6 310.4 277.2 C310.4 276.8 311.6 276.5 312.3 276.1 C312.9 275.7 313.7 275.5 314.1 274.9 C314.5 274.4 314.7 273.5 314.7 272.8 C314.8 272.1 314.6 270.6 314.5 270.6 C314.5 270.6 314.2 272.1 314.3 272.8 C314.4 273.5 315.2 274.2 315.1 274.8 C315.1 275.5 314.5 276.1 314.1 276.8 C313.8 277.4 313.4 278.1 312.9 278.6 C312.4 279.1 311.5 279.1 310.9 279.6 C310.4 280.0 309.9 281.4 309.7 281.4 C309.5 281.3 309.7 279.9 309.7 279.2 C309.7 278.4 309.7 277.3 309.7 277.0" fill="none" stroke="#d3944f" stroke-width="0.7"/><path d="M315.1 300.0 a1.6 1.7 0 1 0 0.1 0 M317.9 292.2 a2.0 1.3 0 1 0 0.1 0 M319.2 297.1 a1.3 1.6 0 1 0 0.1 0 M310.0 295.9 a2.0 1.7 0 1 0 0.1 0 M314.2 300.6 a1.2 1.1 0 1 0 0.1 0 M311.4 297.1 a1.4 1.4 0 1 0 0.1 0 M313.4 300.8 a1.9 1.3 0 1 0 0.1 0 M319.2 297.6 a1.5 1.0 0 1 0 0.1 0 M311.3 296.1 a1.2 1.3 0 1 0 0.1 0 M312.7 292.0 a1.9 1.2 0 1 0 0.1 0 M313.0 298.3 a2.0 1.3 0 1 0 0.1 0 " fill="none" stroke="#d2914a" stroke-width="0.75"/><path d="M317.8 294.8 C317.6 294.5 316.8 293.5 316.8 292.9 C316.7 292.2 317.3 290.9 317.6 290.9 C318.0 290.8 318.3 292.2 318.8 292.7 C319.3 293.2 320.6 293.3 320.7 293.8 C320.9 294.3 320.1 295.2 319.6 295.7 C319.1 296.2 318.3 296.4 317.7 296.8 C317.1 297.3 316.5 297.7 316.0 298.1 C315.4 298.6 314.7 299.0 314.3 299.6 C313.9 300.2 313.6 301.6 313.5 301.6 C313.4 301.6 313.4 300.0 313.7 299.4 C314.0 298.8 314.7 298.2 315.4 298.0 C316.0 297.8 316.9 298.0 317.6 298.2 C318.2 298.5 319.1 298.9 319.3 299.5 C319.6 300.1 319.4 301.1 319.0 301.7 C318.7 302.2 317.8 302.6 317.2 302.8 C316.5 302.9 315.4 302.9 315.0 302.4 C314.5 302.0 314.7 301.0 314.4 300.3 C314.2 299.6 313.7 298.9 313.7 298.2 C313.8 297.6 314.7 296.9 314.6 296.2 C314.6 295.6 313.6 295.1 313.4 294.4 C313.2 293.7 313.5 292.6 313.6 292.2" fill="none" stroke="#d3944f" stroke-width="0.7"/><path d="M322.4 251.6 L323.4 255.6 M320.4 269.6 L316.4 272.6 M314.4 284.6 L315.4 289.6" fill="none" stroke="#d3944f" stroke-width="0.7"/><path d="M317.6 330.0 a2.2 1.4 0 1 0 0.1 0 M314.3 333.0 a2.1 1.6 0 1 0 0.1 0 M304.3 331.3 a2.4 3.2 0 1 0 0.1 0 M318.5 325.4 a1.9 2.7 0 1 0 0.1 0 M319.5 325.7 a3.0 2.0 0 1 0 0.1 0 M321.2 330.3 a2.9 1.4 0 1 0 0.1 0 M305.6 328.1 a3.1 2.7 0 1 0 0.1 0 M309.8 334.8 a2.5 1.5 0 1 0 0.1 0 M309.5 336.8 a1.7 2.7 0 1 0 0.1 0 M319.9 332.2 a1.5 2.1 0 1 0 0.1 0 M313.6 331.5 a3.1 2.0 0 1 0 0.1 0 " fill="none" stroke="#b02838" stroke-width="0.75"/><path d="M313.4 324.6 L314.4 330.6" stroke="#a0182a" stroke-width="0.9"/><path d="M313.6 345.3 a1.2 1.5 0 1 0 0.1 0 M308.9 342.2 a1.9 1.2 0 1 0 0.1 0 M310.4 337.1 a1.9 2.0 0 1 0 0.1 0 M315.4 350.4 a2.0 1.5 0 1 0 0.1 0 M306.0 345.7 a2.5 2.2 0 1 0 0.1 0 M321.4 344.0 a1.8 2.2 0 1 0 0.1 0 M314.9 346.2 a2.4 2.3 0 1 0 0.1 0 M306.8 337.0 a1.4 1.6 0 1 0 0.1 0 M305.2 341.3 a1.7 2.0 0 1 0 0.1 0 M319.3 337.5 a2.2 1.2 0 1 0 0.1 0 M306.6 340.1 a1.2 1.4 0 1 0 0.1 0 M319.4 334.3 a1.7 1.1 0 1 0 0.1 0 M308.3 340.5 a1.6 1.2 0 1 0 0.1 0 M307.8 338.5 a1.4 1.3 0 1 0 0.1 0 M311.6 350.3 a2.3 1.3 0 1 0 0.1 0 M318.4 346.5 a1.5 1.2 0 1 0 0.1 0 M312.2 333.7 a1.6 2.4 0 1 0 0.1 0 M303.9 340.6 a1.8 2.2 0 1 0 0.1 0 M316.3 340.4 a1.8 2.0 0 1 0 0.1 0 M317.6 333.8 a1.1 1.2 0 1 0 0.1 0 M313.7 336.4 a2.4 1.8 0 1 0 0.1 0 M306.7 340.5 a1.1 1.6 0 1 0 0.1 0 M309.4 338.6 a1.4 1.8 0 1 0 0.1 0 M305.6 337.6 a1.2 2.2 0 1 0 0.1 0 " fill="none" stroke="#9c1628" stroke-width="1.1"/><path d="M312.0 340.0 C311.6 340.0 310.1 339.8 309.5 340.2 C308.9 340.6 308.9 341.9 308.3 342.4 C307.7 342.9 306.6 343.3 305.9 343.2 C305.2 343.1 303.8 342.2 303.8 341.8 C303.9 341.5 305.5 341.4 306.3 341.3 C307.1 341.2 308.0 341.2 308.8 341.4 C309.6 341.5 310.7 341.7 311.1 342.3 C311.5 342.8 311.7 344.1 311.4 344.8 C311.1 345.4 309.7 345.5 309.4 346.2 C309.1 346.9 309.3 348.0 309.7 348.7 C310.1 349.3 311.1 349.5 311.8 350.0 C312.5 350.4 313.8 351.5 313.9 351.4 C313.9 351.3 312.4 350.2 312.3 349.5 C312.1 348.8 312.6 347.6 313.1 347.2 C313.7 346.7 314.9 346.6 315.6 346.8 C316.3 347.0 316.7 348.1 317.4 348.6 C318.1 349.1 319.6 349.5 319.5 349.9 C319.5 350.2 318.1 350.8 317.3 350.9 C316.5 351.0 315.5 350.9 314.8 350.5 C314.1 350.2 313.7 349.1 313.0 348.8 C312.3 348.4 311.3 348.7 310.5 348.5 C309.8 348.3 308.9 348.0 308.3 347.4 C307.7 346.9 307.2 345.6 307.0 345.3" fill="none" stroke="#9c1628" stroke-width="0.9"/><path d="M318.2 241.0 a1.7 1.7 0 1 0 0.1 0 M319.4 241.3 a1.3 1.7 0 1 0 0.1 0 M319.2 234.3 a1.4 1.3 0 1 0 0.1 0 M316.9 241.8 a1.1 1.2 0 1 0 0.1 0 M317.7 232.6 a1.4 1.2 0 1 0 0.1 0 " fill="none" stroke="#4a96d0" stroke-width="0.8"/><circle cx="319.4" cy="227.1" r="7.5" fill="url(#rdot)"/>
<rect x="312.4" y="312.6" width="2" height="8" fill="#6f5f5f"/>
<text x="13" y="26.8" font-size="15.5" font-weight="bold" fill="#000" text-anchor="start" textLength="9.8" lengthAdjust="spacingAndGlyphs" >A</text>
<text x="13.8" y="209" font-size="15.5" font-weight="bold" fill="#000" text-anchor="start" textLength="8.6" lengthAdjust="spacingAndGlyphs" >B</text>
<path d="M420.2 69.0 L529.4 69.0 L540 124.0 L408 124.0 Z" fill="#e8e8e8" stroke="#222" stroke-width="1"/>
<rect x="408" y="124.0" width="132" height="5" fill="#000"/>
<ellipse cx="450.0" cy="96" rx="24" ry="17" fill="url(#airy)" opacity="0.85"/>
<ellipse cx="462.0" cy="96" rx="24" ry="17" fill="url(#airy)" opacity="0.85"/>
<ellipse cx="474.4" cy="96" rx="24" ry="17" fill="url(#airy)" opacity="0.85"/>
<ellipse cx="487.0" cy="96" rx="24" ry="17" fill="url(#airy)" opacity="0.85"/>
<ellipse cx="499.0" cy="96" rx="24" ry="17" fill="url(#airy)" opacity="0.85"/>
<rect x="446" y="91" width="57" height="10" rx="5" fill="#ff0000" opacity="0.8" filter="url(#blur1)"/>
<line x1="418.4" y1="77.2" x2="531.0" y2="77.2" stroke="#333" stroke-width="1"/>
<line x1="416.6" y1="85.3" x2="532.5" y2="85.3" stroke="#333" stroke-width="1"/>
<line x1="414.8" y1="93.4" x2="534.1" y2="93.4" stroke="#333" stroke-width="1"/>
<line x1="412.7" y1="103.0" x2="536.0" y2="103.0" stroke="#333" stroke-width="1"/>
<line x1="410.3" y1="113.6" x2="538.0" y2="113.6" stroke="#333" stroke-width="1"/>
<line x1="438.3" y1="69.0" x2="430.7" y2="124.0" stroke="#222" stroke-width="1.1"/>
<line x1="456.6" y1="69.0" x2="452.6" y2="124.0" stroke="#222" stroke-width="1.1"/>
<line x1="474.8" y1="69.0" x2="474.8" y2="124.0" stroke="#222" stroke-width="1.1"/>
<line x1="492.7" y1="69.0" x2="496.8" y2="124.0" stroke="#222" stroke-width="1.1"/>
<line x1="510.8" y1="69.0" x2="519.0" y2="124.0" stroke="#222" stroke-width="1.1"/>
<text x="474" y="64.5" font-size="11" font-weight="bold" fill="#000" text-anchor="middle" textLength="20" lengthAdjust="spacingAndGlyphs" >CCD</text>
<text x="474.4" y="144.5" font-size="10" font-weight="bold" fill="#000" text-anchor="middle" textLength="85" lengthAdjust="spacingAndGlyphs" >Indistinguishable</text>
<path d="M420.2 259.0 L529.4 259.0 L540 314.0 L408 314.0 Z" fill="#e8e8e8" stroke="#222" stroke-width="1"/>
<rect x="408" y="314.0" width="132" height="5" fill="#000"/>
<ellipse cx="449.4" cy="286" rx="23" ry="15.5" fill="url(#airy)"/>
<ellipse cx="496.3" cy="286" rx="23" ry="15.5" fill="url(#airy)"/>
<line x1="418.4" y1="267.2" x2="531.0" y2="267.2" stroke="#333" stroke-width="1"/>
<line x1="416.6" y1="275.3" x2="532.5" y2="275.3" stroke="#333" stroke-width="1"/>
<line x1="414.8" y1="283.4" x2="534.1" y2="283.4" stroke="#333" stroke-width="1"/>
<line x1="412.7" y1="293.0" x2="536.0" y2="293.0" stroke="#333" stroke-width="1"/>
<line x1="410.3" y1="303.6" x2="538.0" y2="303.6" stroke="#333" stroke-width="1"/>
<line x1="438.3" y1="259.0" x2="430.7" y2="314.0" stroke="#222" stroke-width="1.1"/>
<line x1="456.6" y1="259.0" x2="452.6" y2="314.0" stroke="#222" stroke-width="1.1"/>
<line x1="474.8" y1="259.0" x2="474.8" y2="314.0" stroke="#222" stroke-width="1.1"/>
<line x1="492.7" y1="259.0" x2="496.8" y2="314.0" stroke="#222" stroke-width="1.1"/>
<line x1="510.8" y1="259.0" x2="519.0" y2="314.0" stroke="#222" stroke-width="1.1"/>
<text x="474" y="256.5" font-size="11" font-weight="bold" fill="#000" text-anchor="middle" textLength="20" lengthAdjust="spacingAndGlyphs" >CCD</text>
<text x="477" y="333" font-size="10" font-weight="bold" fill="#000" text-anchor="middle" textLength="76" lengthAdjust="spacingAndGlyphs" >Distinguishable</text>
<path d="M24.9 376.9 a1.4 1.4 0 1 0 0.1 0 M25.7 374.8 a1.3 1.2 0 1 0 0.1 0 " fill="none" stroke="#d49a5a" stroke-width="0.8"/>
<path d="M29.9 375.0 a1.4 1.3 0 1 0 0.1 0 M27.9 375.1 a1.1 1.4 0 1 0 0.1 0 " fill="none" stroke="#d49a5a" stroke-width="0.8"/>
<path d="M32.0 376.0 a1.4 0.9 0 1 0 0.1 0 M31.9 376.7 a0.8 1.1 0 1 0 0.1 0 " fill="none" stroke="#d49a5a" stroke-width="0.8"/>
<path d="M35.4 377.3 a0.9 1.4 0 1 0 0.1 0 M35.0 376.5 a1.4 1.0 0 1 0 0.1 0 " fill="none" stroke="#d49a5a" stroke-width="0.8"/>
<path d="M37.2 381.4 a1.3 1.4 0 1 0 0.1 0 M35.9 381.5 a1.4 1.0 0 1 0 0.1 0 " fill="none" stroke="#d49a5a" stroke-width="0.8"/>
<path d="M38.5 383.0 a1.4 1.3 0 1 0 0.1 0 M38.3 383.0 a1.1 1.2 0 1 0 0.1 0 " fill="none" stroke="#d49a5a" stroke-width="0.8"/>
<path d="M38.8 387.5 a1.3 1.3 0 1 0 0.1 0 M37.5 387.8 a1.1 1.0 0 1 0 0.1 0 " fill="none" stroke="#d49a5a" stroke-width="0.8"/>
<path d="M38.1 391.7 a0.9 1.3 0 1 0 0.1 0 M37.6 391.7 a1.0 1.4 0 1 0 0.1 0 " fill="none" stroke="#d49a5a" stroke-width="0.8"/>
<path d="M38.1 395.6 a1.1 1.1 0 1 0 0.1 0 M37.5 394.6 a1.2 1.3 0 1 0 0.1 0 " fill="none" stroke="#d49a5a" stroke-width="0.8"/>
<path d="M36.9 398.7 a1.1 0.8 0 1 0 0.1 0 M37.2 399.8 a1.3 1.2 0 1 0 0.1 0 " fill="none" stroke="#d49a5a" stroke-width="0.8"/>
<path d="M35.8 408.6 a1.3 1.7 0 1 0 0.1 0 M32.5 406.1 a1.1 1.4 0 1 0 0.1 0 M35.9 405.4 a1.2 1.7 0 1 0 0.1 0 M35.4 409.9 a1.2 1.1 0 1 0 0.1 0 M34.3 405.0 a1.5 1.0 0 1 0 0.1 0 M35.6 403.2 a1.1 1.3 0 1 0 0.1 0 M36.4 407.6 a0.9 1.1 0 1 0 0.1 0 " fill="none" stroke="#a0182a" stroke-width="0.9"/>
<text x="53.4" y="405.5" font-size="10.3" font-weight="bold" fill="#000" text-anchor="start" textLength="44.6" lengthAdjust="spacingAndGlyphs" >Receptor</text>
<path d="M130.9 402.9 a1.0 1.3 0 1 0 0.1 0 M135.9 401.7 a1.3 1.4 0 1 0 0.1 0 M132.5 400.7 a1.7 1.6 0 1 0 0.1 0 M135.4 402.9 a2.0 2.0 0 1 0 0.1 0 M134.3 399.3 a1.8 1.5 0 1 0 0.1 0 M132.0 395.4 a1.8 1.5 0 1 0 0.1 0 M135.4 406.5 a1.1 1.3 0 1 0 0.1 0 M134.3 397.6 a1.5 2.0 0 1 0 0.1 0 M134.6 396.2 a1.7 1.3 0 1 0 0.1 0 " fill="none" stroke="#4a96d0" stroke-width="0.8"/>
<text x="149.6" y="405.5" font-size="10.5" font-weight="bold" fill="#000" text-anchor="start" textLength="43.7" lengthAdjust="spacingAndGlyphs" >Aptamer</text>
<circle cx="239.6" cy="396" r="7" fill="url(#rdot)"/>
<path d="M237.3 402.0 a1.1 1.3 0 1 0 0.1 0 M237.4 405.7 a1.8 1.8 0 1 0 0.1 0 M242.1 407.1 a1.5 1.0 0 1 0 0.1 0 M240.9 402.5 a1.2 1.3 0 1 0 0.1 0 M240.9 409.8 a1.9 1.4 0 1 0 0.1 0 M242.7 408.0 a1.7 1.4 0 1 0 0.1 0 M238.5 403.5 a1.7 1.9 0 1 0 0.1 0 " fill="none" stroke="#4a96d0" stroke-width="0.8"/>
<text x="260.8" y="405.5" font-size="10.5" font-weight="bold" fill="#000" text-anchor="start" textLength="149" lengthAdjust="spacingAndGlyphs" >Fluorophore-labelled aptamer</text>
<circle cx="463" cy="398.7" r="13" fill="url(#airy)"/>
<text x="489" y="405.5" font-size="10.5" font-weight="bold" fill="#000" text-anchor="start" textLength="44" lengthAdjust="spacingAndGlyphs" >Airy disk</text>
<text x="573.2" y="28.8" font-size="15.5" font-weight="bold" fill="#000" text-anchor="start" textLength="9.6" lengthAdjust="spacingAndGlyphs" >C</text>
<rect x="603.5" y="33" width="245.5" height="176" fill="#fff" stroke="#c8c8c8" stroke-width="1"/>
<line x1="603.5" y1="44.5" x2="849" y2="44.5" stroke="#b4b4b4" stroke-width="1"/>
<line x1="603.5" y1="55.9" x2="849" y2="55.9" stroke="#d4d4d4" stroke-width="1"/>
<line x1="603.5" y1="78.8" x2="849" y2="78.8" stroke="#b4b4b4" stroke-width="1"/>
<line x1="603.5" y1="90.2" x2="849" y2="90.2" stroke="#d4d4d4" stroke-width="1"/>
<line x1="603.5" y1="101.7" x2="849" y2="101.7" stroke="#d4d4d4" stroke-width="1"/>
<line x1="603.5" y1="113.1" x2="849" y2="113.1" stroke="#d4d4d4" stroke-width="1"/>
<line x1="603.5" y1="124.6" x2="849" y2="124.6" stroke="#b4b4b4" stroke-width="1"/>
<line x1="603.5" y1="136.1" x2="849" y2="136.1" stroke="#d4d4d4" stroke-width="1"/>
<line x1="603.5" y1="147.5" x2="849" y2="147.5" stroke="#d4d4d4" stroke-width="1"/>
<line x1="603.5" y1="158.9" x2="849" y2="158.9" stroke="#b4b4b4" stroke-width="1"/>
<line x1="603.5" y1="170.4" x2="849" y2="170.4" stroke="#d4d4d4" stroke-width="1"/>
<line x1="603.5" y1="193.3" x2="849" y2="193.3" stroke="#d4d4d4" stroke-width="1"/>
<line x1="603.5" y1="204.8" x2="849" y2="204.8" stroke="#d4d4d4" stroke-width="1"/>
<line x1="648.1" y1="33" x2="648.1" y2="209" stroke="#c0c0c0" stroke-width="1"/>
<line x1="670.5" y1="33" x2="670.5" y2="209" stroke="#d8d8d8" stroke-width="1"/>
<line x1="692.8" y1="33" x2="692.8" y2="209" stroke="#c0c0c0" stroke-width="1"/>
<line x1="715.2" y1="33" x2="715.2" y2="209" stroke="#8c8c8c" stroke-width="1"/>
<line x1="737.5" y1="33" x2="737.5" y2="209" stroke="#c0c0c0" stroke-width="1"/>
<line x1="759.9" y1="33" x2="759.9" y2="209" stroke="#d8d8d8" stroke-width="1"/>
<line x1="782.2" y1="33" x2="782.2" y2="209" stroke="#c0c0c0" stroke-width="1"/>
<line x1="804.6" y1="33" x2="804.6" y2="209" stroke="#c0c0c0" stroke-width="1"/>
<line x1="826.9" y1="33" x2="826.9" y2="209" stroke="#c0c0c0" stroke-width="1"/>
<line x1="625.8" y1="33" x2="625.8" y2="209" stroke="#333" stroke-width="1.3"/>
<line x1="603.5" y1="181" x2="849" y2="181" stroke="#000" stroke-width="2.2"/>
<line x1="626" y1="67.5" x2="849" y2="67.5" stroke="#000" stroke-width="2" stroke-dasharray="6.7 3.8"/>
<polyline points="625.9,180.5 626.4,178.9 626.9,177.3 627.4,175.7 627.9,174.2 628.4,172.6 628.9,171.1 629.4,169.6 629.9,168.0 630.4,166.6 630.9,165.1 631.4,163.6 631.9,162.2 632.4,160.8 632.9,159.4 633.4,158.0 633.9,156.6 634.4,155.2 634.9,153.9 635.4,152.6 635.9,151.3 636.4,150.0 636.9,148.7 637.4,147.4 637.9,146.2 638.4,145.0 638.9,143.8 639.4,142.6 639.9,141.4 640.4,140.3 640.9,139.2 641.4,138.1 641.9,137.0 642.4,135.9 642.9,134.8 643.4,133.8 643.9,132.8 644.4,131.8 644.9,130.8 645.4,129.8 645.9,128.9 646.4,127.9 646.9,127.0 647.4,126.1 647.9,125.2 648.4,124.4 648.9,123.5 649.4,122.7 649.9,121.9 650.4,121.1 650.9,120.3 651.4,119.5 651.9,118.7 652.4,118.0 652.9,117.3 653.4,116.6 653.9,115.9 654.4,115.2 654.9,114.5 655.4,113.8 655.9,113.2 656.4,112.6 656.9,111.9 657.4,111.3 657.9,110.7 658.4,110.2 658.9,109.6 659.4,109.0 659.9,108.5 660.4,107.9 660.9,107.4 661.4,106.9 661.9,106.4 662.4,105.9 662.9,105.4 663.4,104.9 663.9,104.5 664.4,104.0 664.9,103.6 665.4,103.1 665.9,102.7 666.4,102.3 666.9,101.8 667.4,101.4 667.9,101.0 668.4,100.6 668.9,100.3 669.4,99.9 669.9,99.5 670.4,99.2 670.9,98.8 671.4,98.5 671.9,98.1 672.4,97.8 672.9,97.4 673.4,97.1 673.9,96.8 674.4,96.5 674.9,96.2 675.4,95.9 675.9,95.6 676.4,95.3 676.9,95.0 677.4,94.7 677.9,94.5 678.4,94.2 678.9,93.9 679.4,93.7 679.9,93.4 680.4,93.2 680.9,92.9 681.4,92.7 681.9,92.4 682.4,92.2 682.9,92.0 683.4,91.7 683.9,91.5 684.4,91.3 684.9,91.1 685.4,90.9 685.9,90.7 686.4,90.5 686.9,90.3 687.4,90.1 687.9,89.9 688.4,89.7 688.9,89.5 689.4,89.3 689.9,89.1 690.4,88.9 690.9,88.7 691.4,88.6 691.9,88.4 692.4,88.2 692.9,88.1 693.4,87.9 693.9,87.7 694.4,87.6 694.9,87.4 695.4,87.3 695.9,87.1 696.4,87.0 696.9,86.8 697.4,86.7 697.9,86.5 698.4,86.4 698.9,86.2 699.4,86.1 699.9,86.0 700.4,85.8 700.9,85.7 701.4,85.6 701.9,85.4 702.4,85.3 702.9,85.2 703.4,85.1 703.9,84.9 704.4,84.8 704.9,84.7 705.4,84.6 705.9,84.5 706.4,84.3 706.9,84.2 707.4,84.1 707.9,84.0 708.4,83.9 708.9,83.8 709.4,83.7 709.9,83.6 710.4,83.5 710.9,83.4 711.4,83.3 711.9,83.2 712.4,83.1 712.9,83.0 713.4,82.9 713.9,82.8 714.4,82.7 714.9,82.6 715.4,82.5 715.9,82.4 716.4,82.3 716.9,82.2 717.4,82.1 717.9,82.1 718.4,82.0 718.9,81.9 719.4,81.8 719.9,81.7 720.4,81.6 720.9,81.5 721.4,81.5 721.9,81.4 722.4,81.3 722.9,81.2 723.4,81.2 723.9,81.1 724.4,81.0 724.9,80.9 725.4,80.9 725.9,80.8 726.4,80.7 726.9,80.6 727.4,80.6 727.9,80.5 728.4,80.4 728.9,80.4 729.4,80.3 729.9,80.2 730.4,80.2 730.9,80.1 731.4,80.0 731.9,80.0 732.4,79.9 732.9,79.8 733.4,79.8 733.9,79.7 734.4,79.7 734.9,79.6 735.4,79.5 735.9,79.5 736.4,79.4 736.9,79.4 737.4,79.3 737.9,79.2 738.4,79.2 738.9,79.1 739.4,79.1 739.9,79.0 740.4,79.0 740.9,78.9 741.4,78.9 741.9,78.8 742.4,78.7 742.9,78.7 743.4,78.6 743.9,78.6 744.4,78.5 744.9,78.5 745.4,78.4 745.9,78.4 746.4,78.3 746.9,78.3 747.4,78.2 747.9,78.2 748.4,78.2 748.9,78.1 749.4,78.1 749.9,78.0 750.4,78.0 750.9,77.9 751.4,77.9 751.9,77.8 752.4,77.8 752.9,77.7 753.4,77.7 753.9,77.7 754.4,77.6 754.9,77.6 755.4,77.5 755.9,77.5 756.4,77.4 756.9,77.4 757.4,77.4 757.9,77.3 758.4,77.3 758.9,77.2 759.4,77.2 759.9,77.2 760.4,77.1 760.9,77.1 761.4,77.1 761.9,77.0 762.4,77.0 762.9,76.9 763.4,76.9 763.9,76.9 764.4,76.8 764.9,76.8 765.4,76.8 765.9,76.7 766.4,76.7 766.9,76.7 767.4,76.6 767.9,76.6 768.4,76.5 768.9,76.5 769.4,76.5 769.9,76.4 770.4,76.4 770.9,76.4 771.4,76.3 771.9,76.3 772.4,76.3 772.9,76.2 773.4,76.2 773.9,76.2 774.4,76.2 774.9,76.1 775.4,76.1 775.9,76.1 776.4,76.0 776.9,76.0 777.4,76.0 777.9,75.9 778.4,75.9 778.9,75.9 779.4,75.9 779.9,75.8 780.4,75.8 780.9,75.8 781.4,75.7 781.9,75.7 782.4,75.7 782.9,75.7 783.4,75.6 783.9,75.6 784.4,75.6 784.9,75.5 785.4,75.5 785.9,75.5 786.4,75.5 786.9,75.4 787.4,75.4 787.9,75.4 788.4,75.4 788.9,75.3 789.4,75.3 789.9,75.3 790.4,75.3 790.9,75.2 791.4,75.2 791.9,75.2 792.4,75.2 792.9,75.1 793.4,75.1 793.9,75.1 794.4,75.1 794.9,75.0 795.4,75.0 795.9,75.0 796.4,75.0 796.9,74.9 797.4,74.9 797.9,74.9 798.4,74.9 798.9,74.8 799.4,74.8 799.9,74.8 800.4,74.8 800.9,74.8 801.4,74.7 801.9,74.7 802.4,74.7 802.9,74.7 803.4,74.6 803.9,74.6 804.4,74.6 804.9,74.6 805.4,74.6 805.9,74.5 806.4,74.5 806.9,74.5 807.4,74.5 807.9,74.5 808.4,74.4 808.9,74.4 809.4,74.4 809.9,74.4 810.4,74.4 810.9,74.3 811.4,74.3 811.9,74.3 812.4,74.3 812.9,74.3 813.4,74.2 813.9,74.2 814.4,74.2 814.9,74.2 815.4,74.2 815.9,74.1 816.4,74.1 816.9,74.1 817.4,74.1 817.9,74.1 818.4,74.1 818.9,74.0 819.4,74.0 819.9,74.0 820.4,74.0 820.9,74.0 821.4,74.0 821.9,73.9 822.4,73.9 822.9,73.9 823.4,73.9 823.9,73.9 824.4,73.8 824.9,73.8 825.4,73.8 825.9,73.8 826.4,73.8 826.9,73.8 827.4,73.7 827.9,73.7 828.4,73.7 828.9,73.7 829.4,73.7 829.9,73.7 830.4,73.7 830.9,73.6 831.4,73.6 831.9,73.6 832.4,73.6 832.9,73.6 833.4,73.6 833.9,73.5 834.4,73.5 834.9,73.5 835.4,73.5 835.9,73.5 836.4,73.5 836.9,73.5 837.4,73.4 837.9,73.4 838.4,73.4 838.9,73.4 839.4,73.4 839.9,73.4 840.4,73.3 840.9,73.3 841.4,73.3 841.9,73.3 842.4,73.3 842.9,73.3 843.4,73.3 843.9,73.2 844.4,73.2 844.9,73.2 845.4,73.2 845.9,73.2 846.4,73.2 846.9,73.2 847.4,73.2 847.9,73.1 848.4,73.1 848.9,73.1" fill="none" stroke="#d02828" stroke-width="1.3"/>
<text x="633" y="60.5" font-size="10.5" font-weight="bold" fill="#000" text-anchor="start" >y=B<tspan font-size="7" dy="2.5">max</tspan></text>
<text x="771.9" y="47.8" font-size="10" font-weight="bold" fill="#000" text-anchor="start" textLength="77.4" lengthAdjust="spacingAndGlyphs" >Ligand dilution</text>
<path d="M820.8 63.5 L820.8 59.8 L848 59.8 L848 63.5 M834 59.8 L834 53.2" fill="none" stroke="#000" stroke-width="1.3"/>
<text x="620.5" y="82" font-size="10.5" font-weight="bold" fill="#000" text-anchor="middle" textLength="91.6" lengthAdjust="spacingAndGlyphs" transform="rotate(-90 620.5 82)">y(Bound amount)</text>
<text x="618" y="192" font-size="10.5" font-weight="bold" fill="#000" text-anchor="middle" >0</text>
<text x="752" y="192" font-size="10.5" font-weight="bold" fill="#000" text-anchor="start" textLength="95" lengthAdjust="spacingAndGlyphs" >x([Total aptamer])</text>
<g font-family="Liberation Serif" font-style="italic" font-weight="bold" fill="#3a3a3a">
<text x="592.5" y="22.8" font-size="10">Y</text>
<text x="600.8" y="23.5" font-size="11" font-style="normal" font-weight="normal">=</text>
<line x1="609.3" y1="20" x2="855" y2="20" stroke="#333" stroke-width="0.9"/>
<text x="610" y="17.3" font-size="10" textLength="245" lengthAdjust="spacingAndGlyphs">n · B<tspan font-size="7" dy="1.5">max</tspan><tspan dy="-1.5"> + K</tspan><tspan font-size="7" dy="1.5">d</tspan><tspan dy="-1.5"> + X − √(n · B</tspan><tspan font-size="7" dy="1.5">max</tspan><tspan dy="-1.5"> + K</tspan><tspan font-size="7" dy="1.5">d</tspan><tspan dy="-1.5"> + X)² − 4 · n · B</tspan><tspan font-size="7" dy="1.5">max</tspan><tspan dy="-1.5"> · X</tspan></text>
<line x1="699" y1="8.5" x2="855" y2="8.5" stroke="#444" stroke-width="0.7"/>
<text x="724" y="29.8" font-size="10" font-style="normal" textLength="17">2 · <tspan font-style="italic">n</tspan></text>
</g>
<text x="574.2" y="245" font-size="15" font-weight="bold" fill="#000" text-anchor="start" textLength="10.2" lengthAdjust="spacingAndGlyphs" >D</text>
<text x="611" y="236" font-size="11" font-weight="bold" fill="#000" text-anchor="start" textLength="113" lengthAdjust="spacingAndGlyphs" >High-dilution domain</text>
<text x="740.5" y="236" font-size="11" font-weight="bold" fill="#000" text-anchor="start" textLength="109.5" lengthAdjust="spacingAndGlyphs" >Low-dilution domain</text>
<rect x="622.4" y="242.2" width="215" height="173.6" fill="url(#dgrad)"/>
<line x1="622.6" y1="242.2" x2="622.6" y2="416" stroke="#555" stroke-width="0.9"/>
<line x1="623" y1="415.5" x2="837" y2="242.5" stroke="#c03030" stroke-width="1.3"/>
<line x1="621.5" y1="416.3" x2="838.5" y2="416.3" stroke="#000" stroke-width="1.8"/>
<text x="636" y="294.5" font-size="11" font-weight="bold" fill="#000" text-anchor="start" textLength="46" lengthAdjust="spacingAndGlyphs" >Optically</text>
<text x="636" y="311.5" font-size="11" font-weight="bold" fill="#000" text-anchor="start" textLength="80" lengthAdjust="spacingAndGlyphs" >distinguishable</text>
<text x="741" y="360.5" font-size="11" font-weight="bold" fill="#000" text-anchor="start" textLength="46" lengthAdjust="spacingAndGlyphs" >Optically</text>
<text x="741" y="377.5" font-size="11" font-weight="bold" fill="#000" text-anchor="start" textLength="89" lengthAdjust="spacingAndGlyphs" >indistinguishable</text>
<text x="615.5" y="427.5" font-size="9.5" font-weight="normal" fill="#000" text-anchor="start" textLength="14.3" lengthAdjust="spacingAndGlyphs" >0.0</text>
<text x="830.7" y="427.5" font-size="9.5" font-weight="normal" fill="#000" text-anchor="start" textLength="13.7" lengthAdjust="spacingAndGlyphs" >1.0</text>
<text x="695" y="434.5" font-size="13" font-weight="bold" fill="#000" text-anchor="start" textLength="83" lengthAdjust="spacingAndGlyphs" >Dilution Ratio</text>
<text x="616.5" y="334" font-size="13" font-weight="bold" fill="#000" text-anchor="middle" textLength="99.6" lengthAdjust="spacingAndGlyphs" transform="rotate(-90 616.5 334)">Number of spots</text>
<text x="14.5" y="469" font-size="15" font-weight="bold" fill="#000" text-anchor="start" textLength="6.8" lengthAdjust="spacingAndGlyphs" >E</text>
<path d="M228 488.5 L403.5 461.4 L403.5 588.6 Z" fill="url(#wedge)"/>
<rect x="108.7" y="462" width="227.2" height="26.8" fill="url(#evan)"/>
<rect x="108.7" y="488.8" width="227.2" height="7.2" fill="#fff" stroke="#000" stroke-width="1"/>
<text x="68.7" y="495.5" font-size="10" font-weight="bold" fill="#000" text-anchor="start" textLength="38" lengthAdjust="spacingAndGlyphs" >Coverslip</text>
<text x="112" y="477.2" font-size="10" font-weight="bold" fill="#000" text-anchor="start" textLength="67" lengthAdjust="spacingAndGlyphs" >Evanescent field</text>
<path d="M182 476 L208 484" stroke="#000" stroke-width="1.2"/><path d="M212 485.3 L205.5 480.8 L204.6 486.3 Z" fill="#000"/>
<rect x="68.7" y="497.5" width="66" height="8" fill="#000"/>
<rect x="308" y="497.5" width="67.7" height="8" fill="#000"/>
<text x="145" y="506" font-size="10" font-weight="bold" fill="#000" text-anchor="start" textLength="12.5" lengthAdjust="spacingAndGlyphs" >Oil</text>
<g fill="none" stroke="#000" stroke-width="1.2">
<path d="M161 497 C166 499 167 506 161 508.5"/>
<path d="M276 497 C271 499 270 506 276 508.5"/>
<path d="M157 508.3 L279 508.3"/>
<path d="M169 510 Q218 520.5 267 510"/>
<path d="M157 508.3 L134.7 529 L134.7 541"/>
<path d="M279 508.3 L303 526.3 L303 541"/>
<rect x="108.7" y="541" width="221" height="26.5"/>
<path d="M135.4 567.5 L135.4 584.5 L303 584.5 L303 567.5"/>
<path d="M218.5 501 L218.5 544.5"/>
</g>
<linearGradient id="beamg" x1="0" x2="0" y1="0" y2="1"><stop offset="0" stop-color="#f7d6b2"/><stop offset="0.55" stop-color="#f9dfc4"/><stop offset="1" stop-color="#fbeadb" stop-opacity="0.3"/></linearGradient>
<path d="M171.3 568 L169.8 510.5 L216.5 487.3 L219.5 487.3 L268 510.5 L267 568 L265.5 568 L264 513.2 L218 490.6 L173.8 513.2 L172.8 568 Z" fill="url(#beamg)"/>
<text x="211" y="506.5" font-size="9.5" font-weight="normal" fill="#000" text-anchor="middle" >θ</text>
<path d="M203.5 500 L206.5 502.5" stroke="#000" stroke-width="1"/>
<text x="218.5" y="559.2" font-size="10" font-weight="bold" fill="#000" text-anchor="middle" textLength="39" lengthAdjust="spacingAndGlyphs" >Objective</text>
<path d="M172.2 594 L172.2 577" stroke="#000" stroke-width="1.2"/><path d="M172.2 573.3 L169.4 579.3 L175 579.3 Z" fill="#000"/>
<path d="M265.8 573.5 L265.8 590" stroke="#000" stroke-width="1.2"/><path d="M265.8 594 L263 588 L268.6 588 Z" fill="#000"/>
<text x="175" y="594" font-size="9" font-weight="bold" fill="#000" text-anchor="start" textLength="22.4" lengthAdjust="spacingAndGlyphs" >Laser</text>
<rect x="403.9" y="461.9" width="190" height="125.4" fill="url(#pgrad)" stroke="#f2c6c6" stroke-width="1"/>
<rect x="404.4" y="568.3" width="189" height="18.5" fill="#d5dad0"/>
<text x="491.5" y="581.8" font-size="9" font-weight="bold" fill="#000" text-anchor="middle" textLength="37.4" lengthAdjust="spacingAndGlyphs" >Coverslip</text>
<text x="408" y="479" font-size="13.5" font-weight="bold" fill="#000" text-anchor="start" >i</text>
<g fill="none" stroke="#222" stroke-width="0.9">
<circle cx="434.7" cy="503.4" r="3.6"/><path d="M432.2 503.4 h5 M434.7 500.9 v5"/>
<path d="M432.2 517 L432.2 523.5 L423.2 533.5 L423.2 542"/>
<path d="M423.2 549 L423.2 552.5 M423.2 561 L423.2 568 M426.2 549.5 L429.7 552.5 M420.2 549.5 L416.7 552.5"/>
<circle cx="455.6" cy="503.4" r="3.6"/><path d="M453.1 503.4 h5 M455.6 500.9 v5"/>
<path d="M453.1 517 L453.1 523.5 L444.1 533.5 L444.1 542"/>
<path d="M444.1 549 L444.1 552.5 M444.1 561 L444.1 568 M447.1 549.5 L450.6 552.5 M441.1 549.5 L437.6 552.5"/>
<circle cx="476.5" cy="503.4" r="3.6"/><path d="M474.0 503.4 h5 M476.5 500.9 v5"/>
<path d="M474.0 517 L474.0 523.5 L465.0 533.5 L465.0 542"/>
<path d="M465.0 549 L465.0 552.5 M465.0 561 L465.0 568 M468.0 549.5 L471.5 552.5 M462.0 549.5 L458.5 552.5"/>
<circle cx="497.4" cy="503.4" r="3.6"/><path d="M494.9 503.4 h5 M497.4 500.9 v5"/>
<path d="M494.9 517 L494.9 523.5 L485.9 533.5 L485.9 542"/>
<path d="M485.9 549 L485.9 552.5 M485.9 561 L485.9 568 M488.9 549.5 L492.4 552.5 M482.9 549.5 L479.4 552.5"/>
<circle cx="518.3" cy="503.4" r="3.6"/><path d="M515.8 503.4 h5 M518.3 500.9 v5"/>
<path d="M515.8 517 L515.8 523.5 L506.8 533.5 L506.8 542"/>
<path d="M506.8 549 L506.8 552.5 M506.8 561 L506.8 568 M509.8 549.5 L513.3 552.5 M503.8 549.5 L500.3 552.5"/>
<circle cx="539.2" cy="503.4" r="3.6"/><path d="M536.7 503.4 h5 M539.2 500.9 v5"/>
<path d="M536.7 517 L536.7 523.5 L527.7 533.5 L527.7 542"/>
<path d="M527.7 549 L527.7 552.5 M527.7 561 L527.7 568 M530.7 549.5 L534.2 552.5 M524.7 549.5 L521.2 552.5"/>
<circle cx="560.1" cy="503.4" r="3.6"/><path d="M557.6 503.4 h5 M560.1 500.9 v5"/>
<path d="M557.6 517 L557.6 523.5 L548.6 533.5 L548.6 542"/>
<path d="M548.6 549 L548.6 552.5 M548.6 561 L548.6 568 M551.6 549.5 L555.1 552.5 M545.6 549.5 L542.1 552.5"/>
<circle cx="581.0" cy="503.4" r="3.6"/><path d="M578.5 503.4 h5 M581.0 500.9 v5"/>
<path d="M578.5 517 L578.5 523.5 L569.5 533.5 L569.5 542"/>
<path d="M569.5 549 L569.5 552.5 M569.5 561 L569.5 568 M572.5 549.5 L576.0 552.5 M566.5 549.5 L563.0 552.5"/>
<path d="M412.5 556 L412.5 563 M581.5 556 L581.5 563"/>
</g>
<g font-size="8.3" font-weight="bold" fill="#111">
<text x="435.2" y="515" text-anchor="middle">NH<tspan font-size="5.5" dy="1.5">3</tspan></text>
<text x="423.2" y="548.3" text-anchor="middle">Si</text>
<text x="423.2" y="559.8" text-anchor="middle">O</text>
<text x="412.7" y="555.2" text-anchor="middle">O</text>
<text x="456.1" y="515" text-anchor="middle">NH<tspan font-size="5.5" dy="1.5">3</tspan></text>
<text x="444.1" y="548.3" text-anchor="middle">Si</text>
<text x="444.1" y="559.8" text-anchor="middle">O</text>
<text x="433.6" y="555.2" text-anchor="middle">O</text>
<text x="477.0" y="515" text-anchor="middle">NH<tspan font-size="5.5" dy="1.5">3</tspan></text>
<text x="465.0" y="548.3" text-anchor="middle">Si</text>
<text x="465.0" y="559.8" text-anchor="middle">O</text>
<text x="454.5" y="555.2" text-anchor="middle">O</text>
<text x="497.9" y="515" text-anchor="middle">NH<tspan font-size="5.5" dy="1.5">3</tspan></text>
<text x="485.9" y="548.3" text-anchor="middle">Si</text>
<text x="485.9" y="559.8" text-anchor="middle">O</text>
<text x="475.4" y="555.2" text-anchor="middle">O</text>
<text x="518.8" y="515" text-anchor="middle">NH<tspan font-size="5.5" dy="1.5">3</tspan></text>
<text x="506.8" y="548.3" text-anchor="middle">Si</text>
<text x="506.8" y="559.8" text-anchor="middle">O</text>
<text x="496.3" y="555.2" text-anchor="middle">O</text>
<text x="539.7" y="515" text-anchor="middle">NH<tspan font-size="5.5" dy="1.5">3</tspan></text>
<text x="527.7" y="548.3" text-anchor="middle">Si</text>
<text x="527.7" y="559.8" text-anchor="middle">O</text>
<text x="517.2" y="555.2" text-anchor="middle">O</text>
<text x="560.6" y="515" text-anchor="middle">NH<tspan font-size="5.5" dy="1.5">3</tspan></text>
<text x="548.6" y="548.3" text-anchor="middle">Si</text>
<text x="548.6" y="559.8" text-anchor="middle">O</text>
<text x="538.1" y="555.2" text-anchor="middle">O</text>
<text x="581.5" y="515" text-anchor="middle">NH<tspan font-size="5.5" dy="1.5">3</tspan></text>
<text x="569.5" y="548.3" text-anchor="middle">Si</text>
<text x="569.5" y="559.8" text-anchor="middle">O</text>
<text x="559.0" y="555.2" text-anchor="middle">O</text>
<text x="581.6" y="555.2" text-anchor="middle">O</text>
</g>
<circle cx="486.6" cy="502.8" r="9.5" fill="url(#rdot)"/>
<path d="M466 502 C472 500 476 505 482 504" fill="none" stroke="#d01010" stroke-width="1.4"/>
<circle cx="532.6" cy="498.3" r="9.5" fill="url(#ydot)"/>
<path d="M536 500 C542 504 547 503 553 503" fill="none" stroke="#f0b800" stroke-width="1.5"/>
<rect x="597.3" y="462.1" width="191.7" height="125.8" fill="url(#pgrad2)" stroke="#f2c6c6" stroke-width="1"/>
<rect x="597.8" y="550.7" width="190.7" height="17.8" fill="#f0e8d6"/><rect x="597.8" y="565" width="190.7" height="3.5" fill="#b8ae94" opacity="0.6"/>
<rect x="632.2" y="557.9" width="1.7" height="0.8" fill="#c8b48c" opacity="0.55"/>
<rect x="621.5" y="552.7" width="1.7" height="0.8" fill="#c8b48c" opacity="0.55"/>
<rect x="599.7" y="560.7" width="1.4" height="0.8" fill="#c8b48c" opacity="0.55"/>
<rect x="696.0" y="566.8" width="2.6" height="0.8" fill="#c8b48c" opacity="0.55"/>
<rect x="636.2" y="552.1" width="2.3" height="0.8" fill="#c8b48c" opacity="0.55"/>
<rect x="600.0" y="558.9" width="1.2" height="0.8" fill="#c8b48c" opacity="0.55"/>
<rect x="711.2" y="559.0" width="2.0" height="0.8" fill="#c8b48c" opacity="0.55"/>
<rect x="734.6" y="557.0" width="1.7" height="0.8" fill="#c8b48c" opacity="0.55"/>
<rect x="662.2" y="552.7" width="1.4" height="0.8" fill="#c8b48c" opacity="0.55"/>
<rect x="643.8" y="558.2" width="1.0" height="0.8" fill="#c8b48c" opacity="0.55"/>
<rect x="762.0" y="564.7" width="2.9" height="0.8" fill="#c8b48c" opacity="0.55"/>
<rect x="760.3" y="551.3" width="2.4" height="0.8" fill="#c8b48c" opacity="0.55"/>
<rect x="760.2" y="566.2" width="2.6" height="0.8" fill="#c8b48c" opacity="0.55"/>
<rect x="772.4" y="561.2" width="1.7" height="0.8" fill="#c8b48c" opacity="0.55"/>
<rect x="676.8" y="562.2" width="2.2" height="0.8" fill="#c8b48c" opacity="0.55"/>
<rect x="732.3" y="552.1" width="1.7" height="0.8" fill="#c8b48c" opacity="0.55"/>
<rect x="747.4" y="562.3" width="1.8" height="0.8" fill="#c8b48c" opacity="0.55"/>
<rect x="693.9" y="554.2" width="2.4" height="0.8" fill="#c8b48c" opacity="0.55"/>
<rect x="745.1" y="555.4" width="1.6" height="0.8" fill="#c8b48c" opacity="0.55"/>
<rect x="676.3" y="563.9" width="1.0" height="0.8" fill="#c8b48c" opacity="0.55"/>
<rect x="776.3" y="567.7" width="2.6" height="0.8" fill="#c8b48c" opacity="0.55"/>
<rect x="717.9" y="557.7" width="2.7" height="0.8" fill="#c8b48c" opacity="0.55"/>
<rect x="600.8" y="552.9" width="2.3" height="0.8" fill="#c8b48c" opacity="0.55"/>
<rect x="645.7" y="555.0" width="1.2" height="0.8" fill="#c8b48c" opacity="0.55"/>
<rect x="745.2" y="565.5" width="2.1" height="0.8" fill="#c8b48c" opacity="0.55"/>
<rect x="605.8" y="563.5" width="2.5" height="0.8" fill="#c8b48c" opacity="0.55"/>
<rect x="664.7" y="553.9" width="1.7" height="0.8" fill="#c8b48c" opacity="0.55"/>
<rect x="649.8" y="553.7" width="2.9" height="0.8" fill="#c8b48c" opacity="0.55"/>
<rect x="742.1" y="559.3" width="1.7" height="0.8" fill="#c8b48c" opacity="0.55"/>
<rect x="620.1" y="560.6" width="1.7" height="0.8" fill="#c8b48c" opacity="0.55"/>
<rect x="739.8" y="553.5" width="1.9" height="0.8" fill="#c8b48c" opacity="0.55"/>
<rect x="698.7" y="561.2" width="1.6" height="0.8" fill="#c8b48c" opacity="0.55"/>
<rect x="656.5" y="564.6" width="2.4" height="0.8" fill="#c8b48c" opacity="0.55"/>
<rect x="703.2" y="560.1" width="1.5" height="0.8" fill="#c8b48c" opacity="0.55"/>
<rect x="784.0" y="552.4" width="2.0" height="0.8" fill="#c8b48c" opacity="0.55"/>
<rect x="606.8" y="551.6" width="2.5" height="0.8" fill="#c8b48c" opacity="0.55"/>
<rect x="705.1" y="557.2" width="2.6" height="0.8" fill="#c8b48c" opacity="0.55"/>
<rect x="603.0" y="556.9" width="2.9" height="0.8" fill="#c8b48c" opacity="0.55"/>
<rect x="752.3" y="559.6" width="2.5" height="0.8" fill="#c8b48c" opacity="0.55"/>
<rect x="775.0" y="557.5" width="1.2" height="0.8" fill="#c8b48c" opacity="0.55"/>
<rect x="755.3" y="560.0" width="2.8" height="0.8" fill="#c8b48c" opacity="0.55"/>
<rect x="723.4" y="555.4" width="1.0" height="0.8" fill="#c8b48c" opacity="0.55"/>
<rect x="708.4" y="558.7" width="1.7" height="0.8" fill="#c8b48c" opacity="0.55"/>
<rect x="729.7" y="557.5" width="2.6" height="0.8" fill="#c8b48c" opacity="0.55"/>
<rect x="609.9" y="551.3" width="1.7" height="0.8" fill="#c8b48c" opacity="0.55"/>
<rect x="630.2" y="566.3" width="2.3" height="0.8" fill="#c8b48c" opacity="0.55"/>
<rect x="781.0" y="556.0" width="2.7" height="0.8" fill="#c8b48c" opacity="0.55"/>
<rect x="783.9" y="565.7" width="2.5" height="0.8" fill="#c8b48c" opacity="0.55"/>
<rect x="622.7" y="566.3" width="1.2" height="0.8" fill="#c8b48c" opacity="0.55"/>
<rect x="665.2" y="554.1" width="1.2" height="0.8" fill="#c8b48c" opacity="0.55"/>
<rect x="781.6" y="561.5" width="2.8" height="0.8" fill="#c8b48c" opacity="0.55"/>
<rect x="668.9" y="557.5" width="2.7" height="0.8" fill="#c8b48c" opacity="0.55"/>
<rect x="782.1" y="564.0" width="2.8" height="0.8" fill="#c8b48c" opacity="0.55"/>
<rect x="759.2" y="564.0" width="2.8" height="0.8" fill="#c8b48c" opacity="0.55"/>
<rect x="743.7" y="551.1" width="1.4" height="0.8" fill="#c8b48c" opacity="0.55"/>
<rect x="662.0" y="555.1" width="2.9" height="0.8" fill="#c8b48c" opacity="0.55"/>
<rect x="763.0" y="560.2" width="1.5" height="0.8" fill="#c8b48c" opacity="0.55"/>
<rect x="617.9" y="551.9" width="1.4" height="0.8" fill="#c8b48c" opacity="0.55"/>
<rect x="647.1" y="565.5" width="1.6" height="0.8" fill="#c8b48c" opacity="0.55"/>
<rect x="691.2" y="561.2" width="3.0" height="0.8" fill="#c8b48c" opacity="0.55"/>
<rect x="732.0" y="555.6" width="1.9" height="0.8" fill="#c8b48c" opacity="0.55"/>
<rect x="661.2" y="554.8" width="2.5" height="0.8" fill="#c8b48c" opacity="0.55"/>
<rect x="705.8" y="557.0" width="2.3" height="0.8" fill="#c8b48c" opacity="0.55"/>
<rect x="621.1" y="561.1" width="2.6" height="0.8" fill="#c8b48c" opacity="0.55"/>
<rect x="773.9" y="560.1" width="1.5" height="0.8" fill="#c8b48c" opacity="0.55"/>
<rect x="739.8" y="567.9" width="1.7" height="0.8" fill="#c8b48c" opacity="0.55"/>
<rect x="659.5" y="554.0" width="1.7" height="0.8" fill="#c8b48c" opacity="0.55"/>
<rect x="743.4" y="560.5" width="1.4" height="0.8" fill="#c8b48c" opacity="0.55"/>
<rect x="638.4" y="553.9" width="2.3" height="0.8" fill="#c8b48c" opacity="0.55"/>
<rect x="620.4" y="554.9" width="1.8" height="0.8" fill="#c8b48c" opacity="0.55"/>
<rect x="748.7" y="566.1" width="1.8" height="0.8" fill="#c8b48c" opacity="0.55"/>
<rect x="751.3" y="554.4" width="1.5" height="0.8" fill="#c8b48c" opacity="0.55"/>
<rect x="669.4" y="561.2" width="2.4" height="0.8" fill="#c8b48c" opacity="0.55"/>
<rect x="737.7" y="554.9" width="1.2" height="0.8" fill="#c8b48c" opacity="0.55"/>
<rect x="633.5" y="553.5" width="2.2" height="0.8" fill="#c8b48c" opacity="0.55"/>
<rect x="774.9" y="565.3" width="2.5" height="0.8" fill="#c8b48c" opacity="0.55"/>
<rect x="703.2" y="555.3" width="2.8" height="0.8" fill="#c8b48c" opacity="0.55"/>
<rect x="720.1" y="567.9" width="2.2" height="0.8" fill="#c8b48c" opacity="0.55"/>
<rect x="631.9" y="554.2" width="2.7" height="0.8" fill="#c8b48c" opacity="0.55"/>
<rect x="627.1" y="558.6" width="1.9" height="0.8" fill="#c8b48c" opacity="0.55"/>
<rect x="665.8" y="567.4" width="2.8" height="0.8" fill="#c8b48c" opacity="0.55"/>
<rect x="620.8" y="567.5" width="2.1" height="0.8" fill="#c8b48c" opacity="0.55"/>
<rect x="625.0" y="565.6" width="1.7" height="0.8" fill="#c8b48c" opacity="0.55"/>
<rect x="684.9" y="555.2" width="2.0" height="0.8" fill="#c8b48c" opacity="0.55"/>
<rect x="651.2" y="567.5" width="1.2" height="0.8" fill="#c8b48c" opacity="0.55"/>
<rect x="669.1" y="558.3" width="2.7" height="0.8" fill="#c8b48c" opacity="0.55"/>
<rect x="692.7" y="563.0" width="1.4" height="0.8" fill="#c8b48c" opacity="0.55"/>
<rect x="740.8" y="560.6" width="2.8" height="0.8" fill="#c8b48c" opacity="0.55"/>
<rect x="767.8" y="557.6" width="2.2" height="0.8" fill="#c8b48c" opacity="0.55"/>
<rect x="731.3" y="566.7" width="1.3" height="0.8" fill="#c8b48c" opacity="0.55"/>
<rect x="696.5" y="565.0" width="1.3" height="0.8" fill="#c8b48c" opacity="0.55"/>
<rect x="786.2" y="561.2" width="2.3" height="0.8" fill="#c8b48c" opacity="0.55"/>
<rect x="604.1" y="558.7" width="2.0" height="0.8" fill="#c8b48c" opacity="0.55"/>
<rect x="640.1" y="567.9" width="2.1" height="0.8" fill="#c8b48c" opacity="0.55"/>
<rect x="672.3" y="565.0" width="2.8" height="0.8" fill="#c8b48c" opacity="0.55"/>
<rect x="651.2" y="551.5" width="1.6" height="0.8" fill="#c8b48c" opacity="0.55"/>
<rect x="645.4" y="558.2" width="3.0" height="0.8" fill="#c8b48c" opacity="0.55"/>
<rect x="612.7" y="558.0" width="1.1" height="0.8" fill="#c8b48c" opacity="0.55"/>
<rect x="664.7" y="565.2" width="2.1" height="0.8" fill="#c8b48c" opacity="0.55"/>
<rect x="762.8" y="555.9" width="2.3" height="0.8" fill="#c8b48c" opacity="0.55"/>
<rect x="622.3" y="559.7" width="1.2" height="0.8" fill="#c8b48c" opacity="0.55"/>
<rect x="732.6" y="559.2" width="2.1" height="0.8" fill="#c8b48c" opacity="0.55"/>
<rect x="719.9" y="559.7" width="1.2" height="0.8" fill="#c8b48c" opacity="0.55"/>
<rect x="680.5" y="565.9" width="2.3" height="0.8" fill="#c8b48c" opacity="0.55"/>
<rect x="710.0" y="566.2" width="2.3" height="0.8" fill="#c8b48c" opacity="0.55"/>
<rect x="645.7" y="562.3" width="2.7" height="0.8" fill="#c8b48c" opacity="0.55"/>
<rect x="640.9" y="555.1" width="1.4" height="0.8" fill="#c8b48c" opacity="0.55"/>
<rect x="780.7" y="555.9" width="2.5" height="0.8" fill="#c8b48c" opacity="0.55"/>
<rect x="609.9" y="551.6" width="2.5" height="0.8" fill="#c8b48c" opacity="0.55"/>
<rect x="635.1" y="559.0" width="2.3" height="0.8" fill="#c8b48c" opacity="0.55"/>
<rect x="650.0" y="561.4" width="1.2" height="0.8" fill="#c8b48c" opacity="0.55"/>
<rect x="619.1" y="551.9" width="2.3" height="0.8" fill="#c8b48c" opacity="0.55"/>
<rect x="732.9" y="559.1" width="1.8" height="0.8" fill="#c8b48c" opacity="0.55"/>
<rect x="782.0" y="556.3" width="2.7" height="0.8" fill="#c8b48c" opacity="0.55"/>
<rect x="781.7" y="564.2" width="2.8" height="0.8" fill="#c8b48c" opacity="0.55"/>
<rect x="678.2" y="561.9" width="2.8" height="0.8" fill="#c8b48c" opacity="0.55"/>
<rect x="624.9" y="560.3" width="2.4" height="0.8" fill="#c8b48c" opacity="0.55"/>
<rect x="748.1" y="560.8" width="2.9" height="0.8" fill="#c8b48c" opacity="0.55"/>
<rect x="753.5" y="567.9" width="2.8" height="0.8" fill="#c8b48c" opacity="0.55"/>
<rect x="699.7" y="567.7" width="2.2" height="0.8" fill="#c8b48c" opacity="0.55"/>
<rect x="619.2" y="561.6" width="2.2" height="0.8" fill="#c8b48c" opacity="0.55"/>
<rect x="648.9" y="564.2" width="2.4" height="0.8" fill="#c8b48c" opacity="0.55"/>
<rect x="776.5" y="558.9" width="2.0" height="0.8" fill="#c8b48c" opacity="0.55"/>
<rect x="711.1" y="563.9" width="2.4" height="0.8" fill="#c8b48c" opacity="0.55"/>
<rect x="612.0" y="564.1" width="1.3" height="0.8" fill="#c8b48c" opacity="0.55"/>
<rect x="654.2" y="552.8" width="2.5" height="0.8" fill="#c8b48c" opacity="0.55"/>
<rect x="602.3" y="567.0" width="1.7" height="0.8" fill="#c8b48c" opacity="0.55"/>
<rect x="635.0" y="562.0" width="2.9" height="0.8" fill="#c8b48c" opacity="0.55"/>
<rect x="734.4" y="557.8" width="1.7" height="0.8" fill="#c8b48c" opacity="0.55"/>
<rect x="721.6" y="555.4" width="1.5" height="0.8" fill="#c8b48c" opacity="0.55"/>
<rect x="723.9" y="552.9" width="2.3" height="0.8" fill="#c8b48c" opacity="0.55"/>
<rect x="744.7" y="565.9" width="1.8" height="0.8" fill="#c8b48c" opacity="0.55"/>
<rect x="719.9" y="558.4" width="2.2" height="0.8" fill="#c8b48c" opacity="0.55"/>
<rect x="672.2" y="558.0" width="2.6" height="0.8" fill="#c8b48c" opacity="0.55"/>
<rect x="649.9" y="567.2" width="2.0" height="0.8" fill="#c8b48c" opacity="0.55"/>
<rect x="641.6" y="556.5" width="1.4" height="0.8" fill="#c8b48c" opacity="0.55"/>
<rect x="736.7" y="557.0" width="1.1" height="0.8" fill="#c8b48c" opacity="0.55"/>
<rect x="674.4" y="564.8" width="1.8" height="0.8" fill="#c8b48c" opacity="0.55"/>
<rect x="599.0" y="557.9" width="2.1" height="0.8" fill="#c8b48c" opacity="0.55"/>
<rect x="732.2" y="554.8" width="1.5" height="0.8" fill="#c8b48c" opacity="0.55"/>
<rect x="690.7" y="562.6" width="3.0" height="0.8" fill="#c8b48c" opacity="0.55"/>
<rect x="693.5" y="553.3" width="1.9" height="0.8" fill="#c8b48c" opacity="0.55"/>
<rect x="610.2" y="559.9" width="2.4" height="0.8" fill="#c8b48c" opacity="0.55"/>
<rect x="632.8" y="556.5" width="2.2" height="0.8" fill="#c8b48c" opacity="0.55"/>
<rect x="614.7" y="556.9" width="1.8" height="0.8" fill="#c8b48c" opacity="0.55"/>
<rect x="747.3" y="562.1" width="1.0" height="0.8" fill="#c8b48c" opacity="0.55"/>
<rect x="675.1" y="560.6" width="1.9" height="0.8" fill="#c8b48c" opacity="0.55"/>
<rect x="658.1" y="558.3" width="2.9" height="0.8" fill="#c8b48c" opacity="0.55"/>
<rect x="695.1" y="565.8" width="1.7" height="0.8" fill="#c8b48c" opacity="0.55"/>
<rect x="682.8" y="563.8" width="1.9" height="0.8" fill="#c8b48c" opacity="0.55"/>
<rect x="777.1" y="557.3" width="2.7" height="0.8" fill="#c8b48c" opacity="0.55"/>
<rect x="772.3" y="552.3" width="1.6" height="0.8" fill="#c8b48c" opacity="0.55"/>
<rect x="642.1" y="559.7" width="2.9" height="0.8" fill="#c8b48c" opacity="0.55"/>
<rect x="717.8" y="560.0" width="1.5" height="0.8" fill="#c8b48c" opacity="0.55"/>
<rect x="662.9" y="551.1" width="2.7" height="0.8" fill="#c8b48c" opacity="0.55"/>
<rect x="604.4" y="562.8" width="1.2" height="0.8" fill="#c8b48c" opacity="0.55"/>
<rect x="699.9" y="565.1" width="2.1" height="0.8" fill="#c8b48c" opacity="0.55"/>
<rect x="771.9" y="554.0" width="2.9" height="0.8" fill="#c8b48c" opacity="0.55"/>
<rect x="785.6" y="567.7" width="1.7" height="0.8" fill="#c8b48c" opacity="0.55"/>
<rect x="692.8" y="567.6" width="2.3" height="0.8" fill="#c8b48c" opacity="0.55"/>
<rect x="727.4" y="551.7" width="1.5" height="0.8" fill="#c8b48c" opacity="0.55"/>
<rect x="638.0" y="555.2" width="2.3" height="0.8" fill="#c8b48c" opacity="0.55"/>
<rect x="639.1" y="563.0" width="3.0" height="0.8" fill="#c8b48c" opacity="0.55"/>
<rect x="691.3" y="552.4" width="2.4" height="0.8" fill="#c8b48c" opacity="0.55"/>
<rect x="781.9" y="556.0" width="2.9" height="0.8" fill="#c8b48c" opacity="0.55"/>
<rect x="773.7" y="559.5" width="1.6" height="0.8" fill="#c8b48c" opacity="0.55"/>
<rect x="700.2" y="561.9" width="1.5" height="0.8" fill="#c8b48c" opacity="0.55"/>
<rect x="775.5" y="562.1" width="2.3" height="0.8" fill="#c8b48c" opacity="0.55"/>
<rect x="787.8" y="555.0" width="1.9" height="0.8" fill="#c8b48c" opacity="0.55"/>
<rect x="672.0" y="563.6" width="3.0" height="0.8" fill="#c8b48c" opacity="0.55"/>
<rect x="610.8" y="552.7" width="1.4" height="0.8" fill="#c8b48c" opacity="0.55"/>
<rect x="707.2" y="564.7" width="2.9" height="0.8" fill="#c8b48c" opacity="0.55"/>
<rect x="716.3" y="557.6" width="2.3" height="0.8" fill="#c8b48c" opacity="0.55"/>
<rect x="672.9" y="551.5" width="1.4" height="0.8" fill="#c8b48c" opacity="0.55"/>
<rect x="683.8" y="561.5" width="2.4" height="0.8" fill="#c8b48c" opacity="0.55"/>
<rect x="739.6" y="551.9" width="1.5" height="0.8" fill="#c8b48c" opacity="0.55"/>
<rect x="627.0" y="558.7" width="2.6" height="0.8" fill="#c8b48c" opacity="0.55"/>
<rect x="730.4" y="560.0" width="1.2" height="0.8" fill="#c8b48c" opacity="0.55"/>
<rect x="675.1" y="562.3" width="1.3" height="0.8" fill="#c8b48c" opacity="0.55"/>
<rect x="682.2" y="558.1" width="1.6" height="0.8" fill="#c8b48c" opacity="0.55"/>
<rect x="678.3" y="560.0" width="2.8" height="0.8" fill="#c8b48c" opacity="0.55"/>
<rect x="757.1" y="559.5" width="2.8" height="0.8" fill="#c8b48c" opacity="0.55"/>
<rect x="714.7" y="562.6" width="2.2" height="0.8" fill="#c8b48c" opacity="0.55"/>
<rect x="775.1" y="560.0" width="1.8" height="0.8" fill="#c8b48c" opacity="0.55"/>
<rect x="745.8" y="559.4" width="1.7" height="0.8" fill="#c8b48c" opacity="0.55"/>
<rect x="758.5" y="562.5" width="1.1" height="0.8" fill="#c8b48c" opacity="0.55"/>
<rect x="698.9" y="560.9" width="1.8" height="0.8" fill="#c8b48c" opacity="0.55"/>
<rect x="786.1" y="551.9" width="1.9" height="0.8" fill="#c8b48c" opacity="0.55"/>
<rect x="755.8" y="558.7" width="1.9" height="0.8" fill="#c8b48c" opacity="0.55"/>
<rect x="765.7" y="562.5" width="2.4" height="0.8" fill="#c8b48c" opacity="0.55"/>
<rect x="745.7" y="554.2" width="2.3" height="0.8" fill="#c8b48c" opacity="0.55"/>
<rect x="604.5" y="554.0" width="2.5" height="0.8" fill="#c8b48c" opacity="0.55"/>
<rect x="754.7" y="566.8" width="1.4" height="0.8" fill="#c8b48c" opacity="0.55"/>
<rect x="693.5" y="552.8" width="1.2" height="0.8" fill="#c8b48c" opacity="0.55"/>
<rect x="719.8" y="551.2" width="1.0" height="0.8" fill="#c8b48c" opacity="0.55"/>
<rect x="738.3" y="556.3" width="1.9" height="0.8" fill="#c8b48c" opacity="0.55"/>
<rect x="663.7" y="555.7" width="2.0" height="0.8" fill="#c8b48c" opacity="0.55"/>
<rect x="773.8" y="564.5" width="1.1" height="0.8" fill="#c8b48c" opacity="0.55"/>
<rect x="663.7" y="556.8" width="2.4" height="0.8" fill="#c8b48c" opacity="0.55"/>
<rect x="774.1" y="567.9" width="1.1" height="0.8" fill="#c8b48c" opacity="0.55"/>
<rect x="641.5" y="567.0" width="2.6" height="0.8" fill="#c8b48c" opacity="0.55"/>
<rect x="758.9" y="556.2" width="1.1" height="0.8" fill="#c8b48c" opacity="0.55"/>
<rect x="723.5" y="551.1" width="1.4" height="0.8" fill="#c8b48c" opacity="0.55"/>
<rect x="643.7" y="554.1" width="1.6" height="0.8" fill="#c8b48c" opacity="0.55"/>
<rect x="734.9" y="557.0" width="2.6" height="0.8" fill="#c8b48c" opacity="0.55"/>
<rect x="680.7" y="557.3" width="1.9" height="0.8" fill="#c8b48c" opacity="0.55"/>
<rect x="709.2" y="566.5" width="1.4" height="0.8" fill="#c8b48c" opacity="0.55"/>
<rect x="645.6" y="563.8" width="3.0" height="0.8" fill="#c8b48c" opacity="0.55"/>
<rect x="776.8" y="552.9" width="2.0" height="0.8" fill="#c8b48c" opacity="0.55"/>
<rect x="606.7" y="556.5" width="1.4" height="0.8" fill="#c8b48c" opacity="0.55"/>
<rect x="645.8" y="552.5" width="1.4" height="0.8" fill="#c8b48c" opacity="0.55"/>
<rect x="786.2" y="562.5" width="2.4" height="0.8" fill="#c8b48c" opacity="0.55"/>
<rect x="645.6" y="556.6" width="2.7" height="0.8" fill="#c8b48c" opacity="0.55"/>
<rect x="773.1" y="559.2" width="1.2" height="0.8" fill="#c8b48c" opacity="0.55"/>
<rect x="692.5" y="562.4" width="2.5" height="0.8" fill="#c8b48c" opacity="0.55"/>
<rect x="751.6" y="567.6" width="1.2" height="0.8" fill="#c8b48c" opacity="0.55"/>
<rect x="774.0" y="559.0" width="2.2" height="0.8" fill="#c8b48c" opacity="0.55"/>
<rect x="703.6" y="561.2" width="1.9" height="0.8" fill="#c8b48c" opacity="0.55"/>
<rect x="754.5" y="557.1" width="1.5" height="0.8" fill="#c8b48c" opacity="0.55"/>
<rect x="645.5" y="556.2" width="1.7" height="0.8" fill="#c8b48c" opacity="0.55"/>
<rect x="785.2" y="559.0" width="1.6" height="0.8" fill="#c8b48c" opacity="0.55"/>
<rect x="679.4" y="561.2" width="1.7" height="0.8" fill="#c8b48c" opacity="0.55"/>
<rect x="664.7" y="562.5" width="2.4" height="0.8" fill="#c8b48c" opacity="0.55"/>
<rect x="731.4" y="563.7" width="1.8" height="0.8" fill="#c8b48c" opacity="0.55"/>
<rect x="642.4" y="560.8" width="1.2" height="0.8" fill="#c8b48c" opacity="0.55"/>
<rect x="731.4" y="565.8" width="2.5" height="0.8" fill="#c8b48c" opacity="0.55"/>
<rect x="617.8" y="563.1" width="1.7" height="0.8" fill="#c8b48c" opacity="0.55"/>
<rect x="614.8" y="567.2" width="1.8" height="0.8" fill="#c8b48c" opacity="0.55"/>
<rect x="612.9" y="558.3" width="2.3" height="0.8" fill="#c8b48c" opacity="0.55"/>
<rect x="778.9" y="552.5" width="2.6" height="0.8" fill="#c8b48c" opacity="0.55"/>
<rect x="624.1" y="553.2" width="1.2" height="0.8" fill="#c8b48c" opacity="0.55"/>
<rect x="728.8" y="563.9" width="2.5" height="0.8" fill="#c8b48c" opacity="0.55"/>
<rect x="636.9" y="561.9" width="2.0" height="0.8" fill="#c8b48c" opacity="0.55"/>
<rect x="670.3" y="558.9" width="2.8" height="0.8" fill="#c8b48c" opacity="0.55"/>
<rect x="637.6" y="555.1" width="1.3" height="0.8" fill="#c8b48c" opacity="0.55"/>
<rect x="713.5" y="551.5" width="2.1" height="0.8" fill="#c8b48c" opacity="0.55"/>
<rect x="728.6" y="558.7" width="1.1" height="0.8" fill="#c8b48c" opacity="0.55"/>
<rect x="668.2" y="563.1" width="2.3" height="0.8" fill="#c8b48c" opacity="0.55"/>
<rect x="739.7" y="557.6" width="2.9" height="0.8" fill="#c8b48c" opacity="0.55"/>
<rect x="598.3" y="560.9" width="1.6" height="0.8" fill="#c8b48c" opacity="0.55"/>
<rect x="617.7" y="559.8" width="2.3" height="0.8" fill="#c8b48c" opacity="0.55"/>
<rect x="634.9" y="565.7" width="2.2" height="0.8" fill="#c8b48c" opacity="0.55"/>
<rect x="647.9" y="556.7" width="2.2" height="0.8" fill="#c8b48c" opacity="0.55"/>
<rect x="746.0" y="551.5" width="1.5" height="0.8" fill="#c8b48c" opacity="0.55"/>
<rect x="680.8" y="566.1" width="2.1" height="0.8" fill="#c8b48c" opacity="0.55"/>
<rect x="678.3" y="560.3" width="1.8" height="0.8" fill="#c8b48c" opacity="0.55"/>
<rect x="643.7" y="554.4" width="1.3" height="0.8" fill="#c8b48c" opacity="0.55"/>
<rect x="783.9" y="554.8" width="2.1" height="0.8" fill="#c8b48c" opacity="0.55"/>
<rect x="713.0" y="553.7" width="1.4" height="0.8" fill="#c8b48c" opacity="0.55"/>
<rect x="614.6" y="560.0" width="1.3" height="0.8" fill="#c8b48c" opacity="0.55"/>
<rect x="732.7" y="566.9" width="1.0" height="0.8" fill="#c8b48c" opacity="0.55"/>
<rect x="765.9" y="563.5" width="1.3" height="0.8" fill="#c8b48c" opacity="0.55"/>
<rect x="709.4" y="557.2" width="1.6" height="0.8" fill="#c8b48c" opacity="0.55"/>
<rect x="663.6" y="567.2" width="1.8" height="0.8" fill="#c8b48c" opacity="0.55"/>
<rect x="683.2" y="553.3" width="2.8" height="0.8" fill="#c8b48c" opacity="0.55"/>
<rect x="658.4" y="555.6" width="1.5" height="0.8" fill="#c8b48c" opacity="0.55"/>
<rect x="759.5" y="553.4" width="1.8" height="0.8" fill="#c8b48c" opacity="0.55"/>
<rect x="715.7" y="555.9" width="2.3" height="0.8" fill="#c8b48c" opacity="0.55"/>
<rect x="778.3" y="553.6" width="2.7" height="0.8" fill="#c8b48c" opacity="0.55"/>
<rect x="698.1" y="566.1" width="1.3" height="0.8" fill="#c8b48c" opacity="0.55"/>
<rect x="597.8" y="568.5" width="190.7" height="19" fill="#d5dad0"/>
<text x="693" y="581" font-size="9" font-weight="bold" fill="#000" text-anchor="middle" textLength="37" lengthAdjust="spacingAndGlyphs" >Coverslip</text>
<text x="604" y="479.6" font-size="13.5" font-weight="bold" fill="#000" text-anchor="start" textLength="8.4" lengthAdjust="spacingAndGlyphs" >ii</text>
<g stroke="#7e8fa6" fill="none" stroke-width="2.4">
<path d="M630.8 520.4 L609.0 548.3 L652.6 548.3 Z" stroke-linejoin="round"/>
<path d="M630.8 520.4 L630.8 485.2"/>
<path d="M611.8 548.3 v10 M630.8 548.3 v10 M649.8 548.3 v10"/>
<path d="M630.8 522 L630.8 548" stroke-width="1.2" stroke-dasharray="3 2"/>
</g>
<path d="M627.4 483 L627.4 518" stroke="#b9b39c" stroke-width="2.2"/>
<g stroke="#7e8fa6" fill="none" stroke-width="2.4">
<path d="M693.2 520.4 L671.4 548.3 L715.0 548.3 Z" stroke-linejoin="round"/>
<path d="M693.2 520.4 L693.2 485.2"/>
<path d="M674.2 548.3 v10 M693.2 548.3 v10 M712.2 548.3 v10"/>
<path d="M693.2 522 L693.2 548" stroke-width="1.2" stroke-dasharray="3 2"/>
</g>
<path d="M689.8 483 L689.8 518" stroke="#b9b39c" stroke-width="2.2"/>
<g stroke="#7e8fa6" fill="none" stroke-width="2.4">
<path d="M755.0 520.4 L733.2 548.3 L776.8 548.3 Z" stroke-linejoin="round"/>
<path d="M755.0 520.4 L755.0 485.2"/>
<path d="M736.0 548.3 v10 M755.0 548.3 v10 M774.0 548.3 v10"/>
<path d="M755.0 522 L755.0 548" stroke-width="1.2" stroke-dasharray="3 2"/>
</g>
<path d="M751.6 483 L751.6 518" stroke="#b9b39c" stroke-width="2.2"/>
<circle cx="689.5" cy="480.3" r="8.5" fill="url(#rdot)"/>
<text x="16.2" y="611.8" font-size="14" font-weight="bold" fill="#000" text-anchor="start" textLength="6.8" lengthAdjust="spacingAndGlyphs" >F</text>
<rect x="10.3" y="615.8" width="179.4" height="179.1" fill="#1b0701"/>
<rect x="192.4" y="616" width="179.5" height="179" fill="#000"/>
<rect x="375.8" y="616.3" width="179.4" height="178.7" fill="#fff" stroke="#333" stroke-width="1"/>
<circle cx="64.1" cy="622.0" r="2.7" fill="url(#ospot)" opacity="0.35"/>
<circle cx="246.2" cy="622.0" r="2.4" fill="url(#gspot)" opacity="0.35"/>
<circle cx="429.1" cy="622.0" r="1.8" fill="#e09412"/>
<circle cx="76.1" cy="620.1" r="2.7" fill="url(#ospot)" opacity="0.80"/>
<circle cx="258.2" cy="620.1" r="2.4" fill="url(#gspot)" opacity="0.80"/>
<circle cx="441.1" cy="620.1" r="1.8" fill="#e09412"/>
<circle cx="99.5" cy="624.4" r="2.7" fill="url(#ospot)" opacity="0.42"/>
<circle cx="281.6" cy="624.4" r="2.4" fill="url(#gspot)" opacity="0.42"/>
<circle cx="464.5" cy="624.4" r="1.8" fill="#e09412"/>
<circle cx="122.5" cy="625.1" r="2.7" fill="url(#ospot)" opacity="0.79"/>
<circle cx="304.6" cy="625.1" r="2.4" fill="url(#gspot)" opacity="0.79"/>
<circle cx="487.5" cy="625.1" r="1.8" fill="#e09412"/>
<circle cx="61.7" cy="639.0" r="2.7" fill="url(#ospot)" opacity="0.41"/>
<circle cx="243.8" cy="639.0" r="2.4" fill="url(#gspot)" opacity="0.41"/>
<circle cx="426.7" cy="639.0" r="1.8" fill="#e09412"/>
<circle cx="77.8" cy="637.1" r="2.7" fill="url(#ospot)" opacity="0.78"/>
<circle cx="259.9" cy="637.1" r="2.4" fill="url(#gspot)" opacity="0.78"/>
<circle cx="442.8" cy="637.1" r="1.8" fill="#e09412"/>
<circle cx="132.3" cy="637.6" r="2.7" fill="url(#ospot)" opacity="0.77"/>
<circle cx="314.4" cy="637.6" r="2.4" fill="url(#gspot)" opacity="0.77"/>
<circle cx="497.3" cy="637.6" r="1.8" fill="#e09412"/>
<circle cx="84.2" cy="645.7" r="2.7" fill="url(#ospot)" opacity="0.40"/>
<circle cx="266.3" cy="645.7" r="2.4" fill="url(#gspot)" opacity="0.40"/>
<circle cx="449.2" cy="645.7" r="1.8" fill="#e09412"/>
<circle cx="144.3" cy="644.7" r="2.7" fill="url(#ospot)" opacity="0.79"/>
<circle cx="326.4" cy="644.7" r="2.4" fill="url(#gspot)" opacity="0.79"/>
<circle cx="509.3" cy="644.7" r="1.8" fill="#e09412"/>
<circle cx="46.9" cy="650.0" r="2.7" fill="url(#ospot)" opacity="0.60"/>
<circle cx="229.0" cy="650.0" r="2.4" fill="url(#gspot)" opacity="0.60"/>
<circle cx="411.9" cy="650.0" r="1.8" fill="#e09412"/>
<circle cx="68.7" cy="651.4" r="2.7" fill="url(#ospot)" opacity="0.74"/>
<circle cx="250.8" cy="651.4" r="2.4" fill="url(#gspot)" opacity="0.74"/>
<circle cx="433.7" cy="651.4" r="1.8" fill="#e09412"/>
<circle cx="112.7" cy="656.0" r="2.7" fill="url(#ospot)" opacity="0.42"/>
<circle cx="294.8" cy="656.0" r="2.4" fill="url(#gspot)" opacity="0.42"/>
<circle cx="477.7" cy="656.0" r="1.8" fill="#e09412"/>
<circle cx="128.2" cy="654.3" r="2.7" fill="url(#ospot)" opacity="0.62"/>
<circle cx="310.3" cy="654.3" r="2.4" fill="url(#gspot)" opacity="0.62"/>
<circle cx="493.2" cy="654.3" r="1.8" fill="#e09412"/>
<circle cx="98.1" cy="663.4" r="2.7" fill="url(#ospot)" opacity="0.56"/>
<circle cx="280.2" cy="663.4" r="2.4" fill="url(#gspot)" opacity="0.56"/>
<circle cx="463.1" cy="663.4" r="1.8" fill="#e09412"/>
<circle cx="169.4" cy="664.6" r="2.7" fill="url(#ospot)" opacity="0.40"/>
<circle cx="351.5" cy="664.6" r="2.4" fill="url(#gspot)" opacity="0.40"/>
<circle cx="534.4" cy="664.6" r="1.8" fill="#e09412"/>
<circle cx="46.2" cy="667.0" r="2.7" fill="url(#ospot)" opacity="0.48"/>
<circle cx="228.3" cy="667.0" r="2.4" fill="url(#gspot)" opacity="0.48"/>
<circle cx="411.2" cy="667.0" r="1.8" fill="#e09412"/>
<circle cx="61.5" cy="668.2" r="2.7" fill="url(#ospot)" opacity="0.85"/>
<circle cx="243.6" cy="668.2" r="2.4" fill="url(#gspot)" opacity="0.85"/>
<circle cx="426.5" cy="668.2" r="1.8" fill="#e09412"/>
<circle cx="29.2" cy="677.3" r="2.7" fill="url(#ospot)" opacity="0.44"/>
<circle cx="211.3" cy="677.3" r="2.4" fill="url(#gspot)" opacity="0.44"/>
<circle cx="394.2" cy="677.3" r="1.8" fill="#e09412"/>
<circle cx="157.4" cy="679.7" r="2.7" fill="url(#ospot)" opacity="0.82"/>
<circle cx="339.5" cy="679.7" r="2.4" fill="url(#gspot)" opacity="0.82"/>
<circle cx="522.4" cy="679.7" r="1.8" fill="#e09412"/>
<circle cx="186.6" cy="679.0" r="2.7" fill="url(#ospot)" opacity="0.53"/>
<circle cx="368.7" cy="679.0" r="2.4" fill="url(#gspot)" opacity="0.53"/>
<circle cx="551.6" cy="679.0" r="1.8" fill="#e09412"/>
<circle cx="13.9" cy="687.3" r="2.7" fill="url(#ospot)" opacity="0.48"/>
<circle cx="196.0" cy="687.3" r="2.4" fill="url(#gspot)" opacity="0.48"/>
<circle cx="378.9" cy="687.3" r="1.8" fill="#e09412"/>
<circle cx="23.9" cy="690.4" r="2.7" fill="url(#ospot)" opacity="0.66"/>
<circle cx="206.0" cy="690.4" r="2.4" fill="url(#gspot)" opacity="0.66"/>
<circle cx="388.9" cy="690.4" r="1.8" fill="#e09412"/>
<circle cx="39.2" cy="688.8" r="2.7" fill="url(#ospot)" opacity="0.66"/>
<circle cx="221.3" cy="688.8" r="2.4" fill="url(#gspot)" opacity="0.66"/>
<circle cx="404.2" cy="688.8" r="1.8" fill="#e09412"/>
<circle cx="45.0" cy="686.4" r="2.7" fill="url(#ospot)" opacity="0.53"/>
<circle cx="227.1" cy="686.4" r="2.4" fill="url(#gspot)" opacity="0.53"/>
<circle cx="410.0" cy="686.4" r="1.8" fill="#e09412"/>
<circle cx="64.1" cy="693.5" r="2.7" fill="url(#ospot)" opacity="0.47"/>
<circle cx="246.2" cy="693.5" r="2.4" fill="url(#gspot)" opacity="0.47"/>
<circle cx="429.1" cy="693.5" r="1.8" fill="#e09412"/>
<circle cx="140.0" cy="689.7" r="2.7" fill="url(#ospot)" opacity="0.67"/>
<circle cx="322.1" cy="689.7" r="2.4" fill="url(#gspot)" opacity="0.67"/>
<circle cx="505.0" cy="689.7" r="1.8" fill="#e09412"/>
<circle cx="102.4" cy="696.7" r="2.7" fill="url(#ospot)" opacity="0.38"/>
<circle cx="284.5" cy="696.7" r="2.4" fill="url(#gspot)" opacity="0.38"/>
<circle cx="467.4" cy="696.7" r="1.8" fill="#e09412"/>
<circle cx="154.8" cy="697.6" r="2.7" fill="url(#ospot)" opacity="0.45"/>
<circle cx="336.9" cy="697.6" r="2.4" fill="url(#gspot)" opacity="0.45"/>
<circle cx="519.8" cy="697.6" r="1.8" fill="#e09412"/>
<circle cx="179.9" cy="697.4" r="2.7" fill="url(#ospot)" opacity="0.81"/>
<circle cx="362.0" cy="697.4" r="2.4" fill="url(#gspot)" opacity="0.81"/>
<circle cx="544.9" cy="697.4" r="1.8" fill="#e09412"/>
<circle cx="187.3" cy="692.8" r="2.7" fill="url(#ospot)" opacity="0.47"/>
<circle cx="369.4" cy="692.8" r="2.4" fill="url(#gspot)" opacity="0.47"/>
<circle cx="552.3" cy="692.8" r="1.8" fill="#e09412"/>
<circle cx="52.2" cy="704.8" r="2.7" fill="url(#ospot)" opacity="0.59"/>
<circle cx="234.3" cy="704.8" r="2.4" fill="url(#gspot)" opacity="0.59"/>
<circle cx="417.2" cy="704.8" r="1.8" fill="#e09412"/>
<circle cx="62.7" cy="703.6" r="2.7" fill="url(#ospot)" opacity="0.82"/>
<circle cx="244.8" cy="703.6" r="2.4" fill="url(#gspot)" opacity="0.82"/>
<circle cx="427.7" cy="703.6" r="1.8" fill="#e09412"/>
<circle cx="111.2" cy="703.8" r="2.7" fill="url(#ospot)" opacity="0.43"/>
<circle cx="293.3" cy="703.8" r="2.4" fill="url(#gspot)" opacity="0.43"/>
<circle cx="476.2" cy="703.8" r="1.8" fill="#e09412"/>
<circle cx="120.8" cy="704.1" r="2.7" fill="url(#ospot)" opacity="0.33"/>
<circle cx="302.9" cy="704.1" r="2.4" fill="url(#gspot)" opacity="0.33"/>
<circle cx="485.8" cy="704.1" r="1.8" fill="#e09412"/>
<circle cx="144.3" cy="705.3" r="2.7" fill="url(#ospot)" opacity="0.65"/>
<circle cx="326.4" cy="705.3" r="2.4" fill="url(#gspot)" opacity="0.65"/>
<circle cx="509.3" cy="705.3" r="1.8" fill="#e09412"/>
<circle cx="138.0" cy="707.7" r="2.7" fill="url(#ospot)" opacity="0.66"/>
<circle cx="320.1" cy="707.7" r="2.4" fill="url(#gspot)" opacity="0.66"/>
<circle cx="503.0" cy="707.7" r="1.8" fill="#e09412"/>
<circle cx="42.3" cy="710.3" r="2.7" fill="url(#ospot)" opacity="0.72"/>
<circle cx="224.4" cy="710.3" r="2.4" fill="url(#gspot)" opacity="0.72"/>
<circle cx="407.3" cy="710.3" r="1.8" fill="#e09412"/>
<circle cx="80.9" cy="710.3" r="2.7" fill="url(#ospot)" opacity="0.84"/>
<circle cx="263.0" cy="710.3" r="2.4" fill="url(#gspot)" opacity="0.84"/>
<circle cx="445.9" cy="710.3" r="1.8" fill="#e09412"/>
<circle cx="125.1" cy="715.8" r="2.7" fill="url(#ospot)" opacity="0.61"/>
<circle cx="307.2" cy="715.8" r="2.4" fill="url(#gspot)" opacity="0.61"/>
<circle cx="490.1" cy="715.8" r="1.8" fill="#e09412"/>
<circle cx="61.2" cy="719.1" r="2.7" fill="url(#ospot)" opacity="0.68"/>
<circle cx="243.3" cy="719.1" r="2.4" fill="url(#gspot)" opacity="0.68"/>
<circle cx="426.2" cy="719.1" r="1.8" fill="#e09412"/>
<circle cx="21.1" cy="726.8" r="2.7" fill="url(#ospot)" opacity="0.70"/>
<circle cx="203.2" cy="726.8" r="2.4" fill="url(#gspot)" opacity="0.70"/>
<circle cx="386.1" cy="726.8" r="1.8" fill="#e09412"/>
<circle cx="74.9" cy="735.6" r="2.7" fill="url(#ospot)" opacity="0.32"/>
<circle cx="257.0" cy="735.6" r="2.4" fill="url(#gspot)" opacity="0.32"/>
<circle cx="439.9" cy="735.6" r="1.8" fill="#e09412"/>
<circle cx="151.2" cy="739.5" r="2.7" fill="url(#ospot)" opacity="0.82"/>
<circle cx="333.3" cy="739.5" r="2.4" fill="url(#gspot)" opacity="0.82"/>
<circle cx="516.2" cy="739.5" r="1.8" fill="#e09412"/>
<circle cx="174.2" cy="740.7" r="2.7" fill="url(#ospot)" opacity="0.37"/>
<circle cx="356.3" cy="740.7" r="2.4" fill="url(#gspot)" opacity="0.37"/>
<circle cx="539.2" cy="740.7" r="1.8" fill="#e09412"/>
<circle cx="184.2" cy="736.4" r="2.7" fill="url(#ospot)" opacity="0.42"/>
<circle cx="366.3" cy="736.4" r="2.4" fill="url(#gspot)" opacity="0.42"/>
<circle cx="549.2" cy="736.4" r="1.8" fill="#e09412"/>
<circle cx="184.9" cy="748.1" r="2.7" fill="url(#ospot)" opacity="0.38"/>
<circle cx="367.0" cy="748.1" r="2.4" fill="url(#gspot)" opacity="0.38"/>
<circle cx="549.9" cy="748.1" r="1.8" fill="#e09412"/>
<circle cx="156.7" cy="755.0" r="2.7" fill="url(#ospot)" opacity="0.75"/>
<circle cx="338.8" cy="755.0" r="2.4" fill="url(#gspot)" opacity="0.75"/>
<circle cx="521.7" cy="755.0" r="1.8" fill="#e09412"/>
<circle cx="42.6" cy="755.0" r="2.7" fill="url(#ospot)" opacity="0.82"/>
<circle cx="224.7" cy="755.0" r="2.4" fill="url(#gspot)" opacity="0.82"/>
<circle cx="407.6" cy="755.0" r="1.8" fill="#e09412"/>
<circle cx="17.2" cy="759.6" r="2.7" fill="url(#ospot)" opacity="0.61"/>
<circle cx="199.3" cy="759.6" r="2.4" fill="url(#gspot)" opacity="0.61"/>
<circle cx="382.2" cy="759.6" r="1.8" fill="#e09412"/>
<circle cx="28.5" cy="768.7" r="2.7" fill="url(#ospot)" opacity="0.34"/>
<circle cx="210.6" cy="768.7" r="2.4" fill="url(#gspot)" opacity="0.34"/>
<circle cx="393.5" cy="768.7" r="1.8" fill="#e09412"/>
<circle cx="54.5" cy="771.5" r="2.7" fill="url(#ospot)" opacity="0.35"/>
<circle cx="236.6" cy="771.5" r="2.4" fill="url(#gspot)" opacity="0.35"/>
<circle cx="419.5" cy="771.5" r="1.8" fill="#e09412"/>
<circle cx="49.8" cy="775.8" r="2.7" fill="url(#ospot)" opacity="0.38"/>
<circle cx="231.9" cy="775.8" r="2.4" fill="url(#gspot)" opacity="0.38"/>
<circle cx="414.8" cy="775.8" r="1.8" fill="#e09412"/>
<circle cx="67.5" cy="779.7" r="2.7" fill="url(#ospot)" opacity="0.43"/>
<circle cx="249.6" cy="779.7" r="2.4" fill="url(#gspot)" opacity="0.43"/>
<circle cx="432.5" cy="779.7" r="1.8" fill="#e09412"/>
<circle cx="122.2" cy="765.1" r="2.7" fill="url(#ospot)" opacity="0.41"/>
<circle cx="304.3" cy="765.1" r="2.4" fill="url(#gspot)" opacity="0.41"/>
<circle cx="487.2" cy="765.1" r="1.8" fill="#e09412"/>
<circle cx="135.6" cy="769.9" r="2.7" fill="url(#ospot)" opacity="0.82"/>
<circle cx="317.7" cy="769.9" r="2.4" fill="url(#gspot)" opacity="0.82"/>
<circle cx="500.6" cy="769.9" r="1.8" fill="#e09412"/>
<circle cx="114.1" cy="773.2" r="2.7" fill="url(#ospot)" opacity="0.58"/>
<circle cx="296.2" cy="773.2" r="2.4" fill="url(#gspot)" opacity="0.58"/>
<circle cx="479.1" cy="773.2" r="1.8" fill="#e09412"/>
<circle cx="137.6" cy="780.6" r="2.7" fill="url(#ospot)" opacity="0.38"/>
<circle cx="319.7" cy="780.6" r="2.4" fill="url(#gspot)" opacity="0.38"/>
<circle cx="502.6" cy="780.6" r="1.8" fill="#e09412"/>
<circle cx="115.8" cy="782.3" r="2.7" fill="url(#ospot)" opacity="0.85"/>
<circle cx="297.9" cy="782.3" r="2.4" fill="url(#gspot)" opacity="0.85"/>
<circle cx="480.8" cy="782.3" r="1.8" fill="#e09412"/>
<circle cx="124.9" cy="784.2" r="2.7" fill="url(#ospot)" opacity="0.49"/>
<circle cx="307.0" cy="784.2" r="2.4" fill="url(#gspot)" opacity="0.49"/>
<circle cx="489.9" cy="784.2" r="1.8" fill="#e09412"/>
<circle cx="75.1" cy="790.7" r="2.7" fill="url(#ospot)" opacity="0.34"/>
<circle cx="257.2" cy="790.7" r="2.4" fill="url(#gspot)" opacity="0.34"/>
<circle cx="440.1" cy="790.7" r="1.8" fill="#e09412"/>
<circle cx="115.3" cy="791.4" r="2.7" fill="url(#ospot)" opacity="0.33"/>
<circle cx="297.4" cy="791.4" r="2.4" fill="url(#gspot)" opacity="0.33"/>
<circle cx="480.3" cy="791.4" r="1.8" fill="#e09412"/>
<circle cx="74.9" cy="727.8" r="3" fill="url(#ospot)" opacity="0.22"/>
<circle cx="109.5" cy="785.9" r="3" fill="url(#ospot)" opacity="0.20"/>
<circle cx="171.7" cy="700.1" r="3" fill="url(#ospot)" opacity="0.15"/>
<circle cx="45.3" cy="749.3" r="3" fill="url(#ospot)" opacity="0.12"/>
<circle cx="80.2" cy="688.1" r="3" fill="url(#ospot)" opacity="0.15"/>
<circle cx="119.7" cy="685.7" r="3" fill="url(#ospot)" opacity="0.12"/>
<circle cx="74.6" cy="632.2" r="3" fill="url(#ospot)" opacity="0.18"/>
<circle cx="29.7" cy="664.0" r="3" fill="url(#ospot)" opacity="0.17"/>
<circle cx="23.3" cy="649.8" r="3" fill="url(#ospot)" opacity="0.16"/>
<circle cx="70.1" cy="715.2" r="3" fill="url(#ospot)" opacity="0.17"/>
<circle cx="124.5" cy="649.6" r="3" fill="url(#ospot)" opacity="0.18"/>
<circle cx="26.7" cy="780.7" r="3" fill="url(#ospot)" opacity="0.13"/>
<circle cx="36.0" cy="786.4" r="3" fill="url(#ospot)" opacity="0.17"/>
<circle cx="25.5" cy="647.2" r="3" fill="url(#ospot)" opacity="0.12"/>
<circle cx="110.6" cy="661.1" r="3" fill="url(#ospot)" opacity="0.18"/>
<circle cx="173.5" cy="763.5" r="3" fill="url(#ospot)" opacity="0.15"/>
<circle cx="117.2" cy="739.0" r="3" fill="url(#ospot)" opacity="0.23"/>
<circle cx="141.0" cy="792.9" r="3" fill="url(#ospot)" opacity="0.24"/>
<circle cx="128.2" cy="693.3" r="3" fill="url(#ospot)" opacity="0.23"/>
<circle cx="158.1" cy="683.9" r="3" fill="url(#ospot)" opacity="0.21"/>
<circle cx="169.4" cy="719.4" r="3" fill="url(#ospot)" opacity="0.15"/>
<circle cx="33.6" cy="738.5" r="3" fill="url(#ospot)" opacity="0.14"/>
<circle cx="50.0" cy="634.6" r="3" fill="url(#ospot)" opacity="0.23"/>
<circle cx="155.3" cy="653.8" r="3" fill="url(#ospot)" opacity="0.14"/>
<circle cx="74.1" cy="716.6" r="3" fill="url(#ospot)" opacity="0.11"/>
<circle cx="38.4" cy="745.2" r="3" fill="url(#ospot)" opacity="0.24"/>
<circle cx="18.0" cy="703.3" r="3" fill="url(#ospot)" opacity="0.20"/>
<circle cx="73.8" cy="762.9" r="3" fill="url(#ospot)" opacity="0.11"/>
<circle cx="131.2" cy="666.7" r="3" fill="url(#ospot)" opacity="0.20"/>
<circle cx="127.8" cy="792.3" r="3" fill="url(#ospot)" opacity="0.21"/>
<circle cx="68.3" cy="639.7" r="3" fill="url(#ospot)" opacity="0.22"/>
<circle cx="161.8" cy="711.1" r="3" fill="url(#ospot)" opacity="0.15"/>
<circle cx="111.9" cy="671.1" r="3" fill="url(#ospot)" opacity="0.24"/>
<circle cx="144.4" cy="656.3" r="3" fill="url(#ospot)" opacity="0.11"/>
<circle cx="46.0" cy="706.3" r="3" fill="url(#ospot)" opacity="0.20"/>
<circle cx="147.3" cy="727.3" r="3" fill="url(#ospot)" opacity="0.17"/>
<circle cx="68.0" cy="753.1" r="3" fill="url(#ospot)" opacity="0.22"/>
<circle cx="23.0" cy="787.0" r="3" fill="url(#ospot)" opacity="0.16"/>
<circle cx="56.7" cy="655.0" r="3" fill="url(#ospot)" opacity="0.20"/>
<circle cx="120.5" cy="778.5" r="3" fill="url(#ospot)" opacity="0.13"/>
<circle cx="93.7" cy="753.7" r="3" fill="url(#ospot)" opacity="0.14"/>
<circle cx="126.0" cy="790.3" r="3" fill="url(#ospot)" opacity="0.13"/>
<circle cx="139.3" cy="778.3" r="3" fill="url(#ospot)" opacity="0.18"/>
<circle cx="137.6" cy="664.2" r="3" fill="url(#ospot)" opacity="0.22"/>
<circle cx="65.6" cy="619.9" r="3" fill="url(#ospot)" opacity="0.24"/>
<rect x="120.8" y="784.6" width="60" height="2.5" fill="#fff"/>
<text x="75" y="815.8" font-size="13" font-weight="bold" fill="#000" text-anchor="start" textLength="49" lengthAdjust="spacingAndGlyphs" >Imaging</text>
<text x="257.9" y="815.8" font-size="13" font-weight="bold" fill="#000" text-anchor="start" textLength="56.8" lengthAdjust="spacingAndGlyphs" >Bandpass</text>
<text x="431.3" y="815.8" font-size="13" font-weight="bold" fill="#000" text-anchor="start" textLength="71.7" lengthAdjust="spacingAndGlyphs" >Recognition</text>
<path d="M178.3 811.7 L197.4 811.7" stroke="#000" stroke-width="1.2"/><path d="M201.4 811.7 L195.4 808.7 L195.4 814.7 Z" fill="#000"/>
<path d="M359.6 811.7 L379.6 811.7" stroke="#000" stroke-width="1.2"/><path d="M383.6 811.7 L377.6 808.7 L377.6 814.7 Z" fill="#000"/>
<rect x="560.5" y="606" width="294.5" height="224.6" fill="#fafafa"/>
<text x="562.6" y="606.6" font-size="15" font-weight="bold" fill="#000" text-anchor="start" textLength="10.2" lengthAdjust="spacingAndGlyphs" >G</text>
<g stroke="#000" stroke-width="1.1">
<line x1="607.6" y1="615" x2="607.6" y2="796.8"/><line x1="607" y1="796.2" x2="852.6" y2="796.2"/>
<line x1="603.6" y1="782.3" x2="607.6" y2="782.3"/>
<line x1="605.6" y1="768.4" x2="607.6" y2="768.4"/>
<line x1="603.6" y1="754.5" x2="607.6" y2="754.5"/>
<line x1="605.6" y1="740.6" x2="607.6" y2="740.6"/>
<line x1="603.6" y1="726.7" x2="607.6" y2="726.7"/>
<line x1="605.6" y1="712.8" x2="607.6" y2="712.8"/>
<line x1="603.6" y1="698.9" x2="607.6" y2="698.9"/>
<line x1="605.6" y1="684.9" x2="607.6" y2="684.9"/>
<line x1="603.6" y1="671.0" x2="607.6" y2="671.0"/>
<line x1="605.6" y1="657.1" x2="607.6" y2="657.1"/>
<line x1="603.6" y1="643.2" x2="607.6" y2="643.2"/>
<line x1="605.6" y1="629.3" x2="607.6" y2="629.3"/>
<line x1="603.6" y1="615.4" x2="607.6" y2="615.4"/>
<line x1="607.4" y1="796.2" x2="607.4" y2="798.2"/>
<line x1="627.7" y1="796.2" x2="627.7" y2="800.2"/>
<line x1="648.1" y1="796.2" x2="648.1" y2="798.2"/>
<line x1="668.4" y1="796.2" x2="668.4" y2="800.2"/>
<line x1="688.8" y1="796.2" x2="688.8" y2="798.2"/>
<line x1="709.1" y1="796.2" x2="709.1" y2="800.2"/>
<line x1="729.5" y1="796.2" x2="729.5" y2="798.2"/>
<line x1="749.8" y1="796.2" x2="749.8" y2="800.2"/>
<line x1="770.2" y1="796.2" x2="770.2" y2="798.2"/>
<line x1="790.5" y1="796.2" x2="790.5" y2="800.2"/>
<line x1="810.9" y1="796.2" x2="810.9" y2="798.2"/>
<line x1="831.2" y1="796.2" x2="831.2" y2="800.2"/>
<line x1="851.6" y1="796.2" x2="851.6" y2="798.2"/>
</g>
<g font-size="9" font-weight="bold" fill="#111">
<text x="601.5" y="785.3" text-anchor="end">0</text>
<text x="601.5" y="757.5" text-anchor="end">500</text>
<text x="601.5" y="729.7" text-anchor="end">1000</text>
<text x="601.5" y="701.9" text-anchor="end">1500</text>
<text x="601.5" y="674.0" text-anchor="end">2000</text>
<text x="601.5" y="646.2" text-anchor="end">2500</text>
<text x="601.5" y="618.4" text-anchor="end">3000</text>
<text x="627.7" y="809" text-anchor="middle">0.0</text>
<text x="668.4" y="809" text-anchor="middle">0.2</text>
<text x="709.1" y="809" text-anchor="middle">0.4</text>
<text x="749.8" y="809" text-anchor="middle">0.6</text>
<text x="790.5" y="809" text-anchor="middle">0.8</text>
<text x="831.2" y="809" text-anchor="middle">1.0</text>
</g>
<text x="689.3" y="825.8" font-size="13" font-weight="bold" fill="#000" text-anchor="start" textLength="82.7" lengthAdjust="spacingAndGlyphs" >Dilution Ratio</text>
<text x="576" y="703.2" font-size="13" font-weight="bold" fill="#000" text-anchor="middle" textLength="147" lengthAdjust="spacingAndGlyphs" transform="rotate(-90 576 703.2)">Number of fluorophores</text>
<path d="M668.4 754.2 L831.2 639.9" stroke="#f2c890" stroke-width="1.4"/>
<path d="M627.7 782.3 L631.8 779.5 L635.8 776.7 L648.1 768.4 L668.4 754.5 L709.1 727.8 L831.2 641.6" fill="none" stroke="#e0a030" stroke-width="1"/>
<path d="M627.7 643.8 L831.2 783.4" stroke="#f2b8b8" stroke-width="1.4"/>
<path d="M631.8 644.3 L635.8 649.9 L648.1 658.8 L668.4 670.5 L709.1 699.1 L831.2 782.3" fill="none" stroke="#d84848" stroke-width="1"/>
<circle cx="627.7" cy="782.3" r="2.5" fill="#dc9410"/>
<circle cx="631.8" cy="779.5" r="2.5" fill="#dc9410"/>
<circle cx="635.8" cy="776.7" r="2.5" fill="#dc9410"/>
<circle cx="648.1" cy="768.4" r="2.5" fill="#dc9410"/>
<circle cx="668.4" cy="754.5" r="2.5" fill="#dc9410"/>
<circle cx="709.1" cy="729.5" r="2.5" fill="#dc9410"/>
<circle cx="709.1" cy="727.8" r="2.5" fill="#dc9410"/>
<circle cx="831.2" cy="641.6" r="2.5" fill="#dc9410"/>
<circle cx="627.7" cy="643.8" r="2.5" fill="#e03c44"/>
<circle cx="631.8" cy="644.3" r="2.5" fill="#e03c44"/>
<circle cx="635.8" cy="649.9" r="2.5" fill="#e03c44"/>
<circle cx="648.1" cy="658.8" r="2.5" fill="#e03c44"/>
<circle cx="668.4" cy="670.5" r="2.5" fill="#e03c44"/>
<circle cx="709.1" cy="699.1" r="2.5" fill="#e03c44"/>
<circle cx="831.2" cy="782.3" r="2.5" fill="#e03c44"/>
<path d="M656.2 624.6 L672.8 624.6" stroke="#e8b060" stroke-width="1"/><circle cx="664.5" cy="624.6" r="2.4" fill="#dc9410"/>
<path d="M656.2 637.5 L672.8 637.5" stroke="#d84848" stroke-width="1"/><circle cx="664.5" cy="637.5" r="2.4" fill="#e03c44"/>
<text x="675.6" y="628.5" font-size="10.5" font-weight="bold" fill="#000" text-anchor="start" textLength="17.6" lengthAdjust="spacingAndGlyphs" >Cy3</text>
<text x="675.6" y="641.5" font-size="10.5" font-weight="bold" fill="#000" text-anchor="start" textLength="17.6" lengthAdjust="spacingAndGlyphs" >Cy5</text>
<path d="M700 624.6 L716 624.6" stroke="#f0c890" stroke-width="1"/><path d="M700 637.5 L716 637.5" stroke="#f2b8b8" stroke-width="1"/>
<text x="719.8" y="628.5" font-size="10.5" font-weight="bold" fill="#000" text-anchor="start" textLength="81.4" lengthAdjust="spacingAndGlyphs" >Fitted line of Cy3</text>
<text x="719.8" y="641.5" font-size="10.5" font-weight="bold" fill="#000" text-anchor="start" textLength="81.4" lengthAdjust="spacingAndGlyphs" >Fitted line of Cy5</text>
</svg></body></html>
